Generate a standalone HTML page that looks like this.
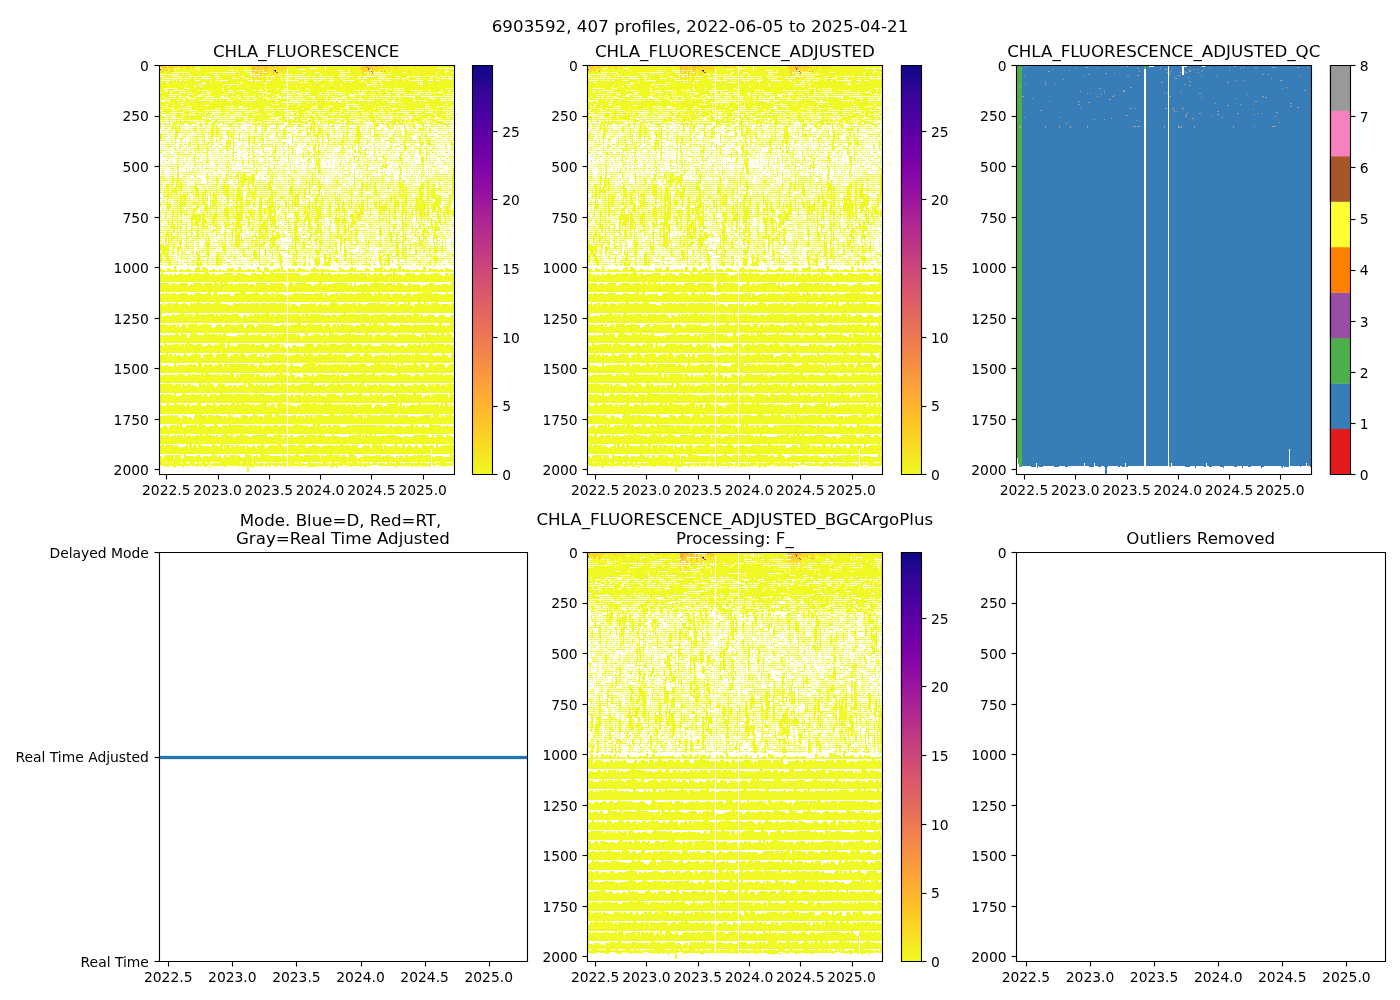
<!DOCTYPE html>
<html><head><meta charset="utf-8"><title>6903592</title>
<style>html,body{margin:0;padding:0;background:#fff;width:1400px;height:1000px;overflow:hidden}svg{display:block;will-change:transform}</style>
</head><body>
<svg width="1400" height="1000" viewBox="0 0 1008 720" version="1.1">
<defs><linearGradient id="plg" x1="0" y1="0" x2="0" y2="1"><stop offset="0.000" stop-color="#0d0887"/><stop offset="0.062" stop-color="#310597"/><stop offset="0.125" stop-color="#4c02a1"/><stop offset="0.188" stop-color="#6600a7"/><stop offset="0.250" stop-color="#7e03a8"/><stop offset="0.312" stop-color="#9511a1"/><stop offset="0.375" stop-color="#aa2395"/><stop offset="0.438" stop-color="#bc3587"/><stop offset="0.500" stop-color="#cc4778"/><stop offset="0.562" stop-color="#da5a6a"/><stop offset="0.625" stop-color="#e66c5c"/><stop offset="0.688" stop-color="#f0804e"/><stop offset="0.750" stop-color="#f89540"/><stop offset="0.812" stop-color="#fdac33"/><stop offset="0.875" stop-color="#fdc527"/><stop offset="0.938" stop-color="#f8df25"/><stop offset="1.000" stop-color="#f0f921"/></linearGradient><g id="chla" fill="none" stroke-width="1" shape-rendering="crispEdges"><path d="M16 0.5h1m12 0h1m1 0h1m1 0h1m1 0h1m1 0h6m4 0h1m2 0h1m1 0h1m1 0h1m1 0h3m2 0h1m1 0h1m3 0h1m2 0h2m1 0h2m1 0h1m4 0h5m2 0h1m37 0h2m1 0h4m1 0h1m8 0h1m5 0h1m1 0h1m2 0h3m2 0h3m1 0h1m4 0h2m1 0h6m1 0h1m2 0h4m1 0h1m1 0h2m1 0h1m1 0h6m31 0h2m5 0h1m5 0h5m1 0h1m1 0h2m3 0h2m1 0h1m4 0h1m1 0h1m1 0h1m3 0h1m1 0h2m2 0h3m3 0h2m2 0h5M13 1.5h1m3 0h2m1 0h1m2 0h3m4 0h2m1 0h1m1 0h1m1 0h7m1 0h2m2 0h6m1 0h2m1 0h3m7 0h4m1 0h3m1 0h2m1 0h1m1 0h1m1 0h3m1 0h1m22 0h1m5 0h1m9 0h1m1 0h1m2 0h2m8 0h1m1 0h2m1 0h2m1 0h3m1 0h8m1 0h1m4 0h2m1 0h1m1 0h3m1 0h2m7 0h1m1 0h3m1 0h4m27 0h1m4 0h4m4 0h1m2 0h1m1 0h4m3 0h6m1 0h2m1 0h1m1 0h1m1 0h1m1 0h2m2 0h1m1 0h1m2 0h2m1 0h8m1 0h1m1 0h4M8 2.5h1m5 0h1m1 0h1m3 0h1m1 0h1m1 0h2m3 0h3m1 0h1m6 0h2m2 0h2m1 0h1m3 0h1m1 0h4m1 0h3m1 0h7m2 0h2m2 0h4m2 0h4m1 0h4m1 0h1m20 0h1m13 0h1m2 0h2m2 0h4m1 0h8m1 0h3m6 0h1m2 0h1m1 0h2m1 0h1m1 0h3m1 0h1m1 0h3m1 0h7m1 0h6m2 0h4m1 0h3m14 0h1m9 0h4m1 0h1m2 0h3m2 0h1m1 0h2m1 0h2m1 0h8m3 0h6m1 0h3m3 0h6m1 0h1m4 0h1m1 0h1m5 0h1M6 3.5h1m1 0h1m5 0h6m2 0h8m1 0h4m1 0h9m1 0h11m2 0h5m2 0h3m1 0h2m1 0h1m1 0h1m5 0h1m1 0h1m1 0h7m16 0h1m6 0h1m10 0h1m1 0h2m1 0h8m6 0h7m1 0h1m1 0h10m1 0h3m1 0h1m2 0h1m3 0h9m1 0h2m2 0h7m1 0h1m21 0h2m5 0h1m2 0h1m1 0h1m2 0h6m2 0h2m1 0h1m1 0h1m1 0h5m3 0h3m1 0h4m1 0h8m2 0h1m1 0h2m1 0h4m1 0h6M0 4.5h1m6 0h1m2 0h1m1 0h3m2 0h19m1 0h1m2 0h2m1 0h1m1 0h7m1 0h13m1 0h1m1 0h1m4 0h1m1 0h1m1 0h1m1 0h4m24 0h1m7 0h1m1 0h1m7 0h1m1 0h3m1 0h20m1 0h5m1 0h6m2 0h3m2 0h5m7 0h2m1 0h1m2 0h1m2 0h2m5 0h2m12 0h1m8 0h2m2 0h9m1 0h1m3 0h1m1 0h6m1 0h10m1 0h3m1 0h7m1 0h1m1 0h4m1 0h5m2 0h5m1 0h1M0 5.5h1m3 0h7m2 0h2m1 0h6m1 0h3m1 0h4m1 0h16m1 0h5m2 0h2m1 0h3m8 0h2m1 0h10m1 0h8m11 0h1m4 0h1m1 0h1m5 0h1m1 0h1m1 0h1m3 0h1m1 0h1m1 0h7m1 0h2m1 0h5m1 0h2m3 0h2m1 0h2m1 0h2m1 0h7m1 0h1m1 0h8m1 0h8m2 0h1m1 0h1m2 0h8m6 0h1m6 0h2m2 0h3m2 0h1m1 0h2m1 0h1m1 0h5m1 0h2m3 0h3m1 0h1m1 0h1m2 0h12m1 0h1m1 0h1m1 0h7m2 0h1m1 0h2m1 0h5m3 0h5M0 6.5h2m1 0h2m1 0h3m1 0h3m9 0h1m6 0h1m1 0h2m1 0h2m1 0h2m2 0h8m1 0h1m2 0h1m4 0h1m1 0h1m16 0h2m1 0h1m1 0h5m16 0h1m4 0h1m1 0h1m1 0h1m2 0h1m2 0h1m1 0h5m1 0h1m1 0h2m1 0h12m3 0h1m1 0h2m2 0h1m7 0h9m1 0h10m4 0h1m6 0h4m1 0h4m1 0h1m21 0h3m1 0h2m1 0h3m1 0h4m1 0h4m3 0h4m2 0h2m1 0h6m1 0h6m1 0h7m1 0h3m1 0h2m1 0h1m1 0h6M0 7.5h2m1 0h5m1 0h2m1 0h7m1 0h5m2 0h5m1 0h15m1 0h8m1 0h5m1 0h3m1 0h10m1 0h8m1 0h4m3 0h1m7 0h1m4 0h3m1 0h1m2 0h4m1 0h2m1 0h4m1 0h5m1 0h6m1 0h4m1 0h20m1 0h1m1 0h3m2 0h19m1 0h4m1 0h3m3 0h2m6 0h3m1 0h1m1 0h4m1 0h1m1 0h6m1 0h5m1 0h5m1 0h5m1 0h10m1 0h2m1 0h1m1 0h1m1 0h10m1 0h1m1 0h1m1 0h10M2 8.5h1m4 0h1m11 0h1m1 0h2m2 0h1m1 0h2m3 0h2m3 0h4m1 0h7m1 0h3m6 0h4m1 0h2m1 0h2m2 0h2m1 0h5m2 0h9m5 0h1m6 0h2m2 0h1m1 0h3m1 0h1m3 0h3m3 0h3m5 0h1m2 0h2m5 0h1m3 0h2m1 0h4m1 0h2m2 0h4m2 0h3m1 0h14m5 0h12m1 0h4m3 0h1m20 0h1m3 0h1m1 0h7m1 0h2m1 0h2m1 0h4m1 0h3m1 0h3m1 0h1m1 0h1m1 0h13m1 0h15m1 0h1M0 9.5h2m3 0h19m1 0h1m1 0h13m1 0h8m1 0h3m1 0h9m1 0h5m1 0h2m1 0h1m1 0h5m1 0h2m2 0h7m4 0h1m4 0h1m1 0h1m2 0h1m1 0h3m1 0h1m1 0h4m1 0h1m1 0h6m3 0h2m1 0h6m1 0h9m1 0h5m2 0h1m1 0h6m1 0h9m2 0h8m1 0h6m1 0h2m2 0h1m1 0h3m2 0h7m2 0h3m2 0h28m1 0h8m1 0h15m1 0h3m2 0h2m1 0h4m1 0h4m1 0h4M4 10.5h1m1 0h3m1 0h2m7 0h1m2 0h2m1 0h1m1 0h2m3 0h1m4 0h1m2 0h1m9 0h1m1 0h1m1 0h1m5 0h13m1 0h6m6 0h5m5 0h1m6 0h3m3 0h1m5 0h6m1 0h3m1 0h1m6 0h1m12 0h1m2 0h1m1 0h1m3 0h4m5 0h1m2 0h1m2 0h1m4 0h2m8 0h1m1 0h1m2 0h1m2 0h4m4 0h1m14 0h2m8 0h3m1 0h6m4 0h2m2 0h3m2 0h1m1 0h1m1 0h1m8 0h1m3 0h1m2 0h1m3 0h1m3 0h2m1 0h1m3 0h1m7 0h2M0 11.5h10m1 0h2m1 0h5m1 0h2m1 0h2m1 0h4m1 0h7m1 0h1m1 0h1m2 0h23m1 0h3m1 0h9m1 0h7m1 0h2m4 0h1m2 0h1m1 0h6m1 0h5m1 0h5m1 0h7m1 0h7m1 0h2m1 0h4m1 0h17m1 0h11m1 0h1m1 0h5m2 0h14m1 0h10m1 0h1m1 0h3m1 0h20m2 0h7m1 0h2m1 0h24m1 0h1m1 0h4m1 0h12m1 0h1M0 12.5h2m2 0h1m5 0h1m12 0h1m4 0h1m2 0h1m1 0h1m3 0h4m12 0h3m3 0h1m2 0h5m1 0h1m2 0h1m5 0h1m1 0h1m1 0h1m2 0h2m3 0h1m2 0h1m2 0h2m1 0h2m1 0h3m4 0h3m1 0h1m1 0h6m4 0h1m4 0h1m3 0h2m14 0h1m1 0h1m15 0h2m5 0h6m2 0h1m3 0h1m2 0h6m1 0h1m4 0h1m5 0h2m2 0h2m2 0h3m6 0h1m2 0h1m5 0h1m6 0h2m4 0h1m2 0h7m5 0h9m3 0h4m1 0h3m6 0h1m5 0h1M0 13.5h4m1 0h1m1 0h9m2 0h6m1 0h10m1 0h2m1 0h13m1 0h6m1 0h19m1 0h14m1 0h2m2 0h6m1 0h5m1 0h1m2 0h3m1 0h3m1 0h4m1 0h10m2 0h7m1 0h19m1 0h1m1 0h6m1 0h2m1 0h9m1 0h9m1 0h3m1 0h26m1 0h9m2 0h9m2 0h2m1 0h16m1 0h12m1 0h4m1 0h3M0 14.5h1m9 0h3m1 0h2m1 0h2m3 0h2m2 0h5m1 0h3m5 0h8m1 0h1m1 0h5m1 0h1m1 0h1m8 0h1m1 0h18m14 0h3m6 0h11m1 0h2m8 0h1m5 0h5m2 0h1m1 0h1m1 0h4m3 0h1m4 0h4m1 0h2m5 0h9m11 0h7m3 0h7m1 0h1m4 0h1m4 0h3m4 0h1m1 0h6m2 0h1m2 0h1m1 0h5m2 0h1m11 0h4m6 0h1m1 0h1m4 0h3m1 0h5m1 0h4M0 15.5h8m1 0h23m2 0h4m1 0h4m1 0h3m1 0h8m1 0h16m1 0h12m1 0h2m1 0h4m1 0h5m1 0h9m1 0h1m1 0h14m1 0h23m2 0h10m1 0h3m1 0h21m1 0h22m1 0h14m1 0h3m2 0h5m1 0h2m1 0h4m1 0h9m1 0h1m1 0h2m1 0h1m2 0h14m1 0h5m1 0h1m1 0h2m1 0h3M0 16.5h6m2 0h8m1 0h7m3 0h15m2 0h6m1 0h27m1 0h1m2 0h2m1 0h4m1 0h5m1 0h3m1 0h2m1 0h6m1 0h1m1 0h15m2 0h3m1 0h4m2 0h1m3 0h1m2 0h1m1 0h8m1 0h1m1 0h3m1 0h8m1 0h2m1 0h9m1 0h1m1 0h3m1 0h3m1 0h7m1 0h2m2 0h5m5 0h1m2 0h1m1 0h20m1 0h12m1 0h2m1 0h1m1 0h1m2 0h20m1 0h1m1 0h7M0 17.5h24m1 0h18m3 0h3m1 0h13m1 0h5m1 0h3m1 0h30m3 0h17m1 0h2m1 0h3m1 0h5m1 0h3m1 0h1m1 0h8m1 0h1m1 0h30m1 0h2m1 0h16m1 0h2m2 0h21m1 0h6m1 0h4m1 0h16m1 0h2m1 0h5m2 0h1m1 0h3m1 0h17M0 18.5h11m1 0h9m1 0h4m1 0h1m1 0h9m3 0h1m2 0h3m1 0h5m1 0h8m1 0h1m3 0h1m7 0h1m3 0h1m2 0h27m1 0h14m1 0h1m2 0h9m1 0h5m1 0h8m1 0h11m1 0h6m1 0h8m2 0h4m1 0h19m11 0h3m3 0h12m1 0h4m1 0h11m1 0h5m1 0h1m3 0h14m1 0h9m1 0h4m1 0h1M0 19.5h17m1 0h22m1 0h19m1 0h2m1 0h4m1 0h3m1 0h9m1 0h44m1 0h23m1 0h31m1 0h12m1 0h12m1 0h36m1 0h12m1 0h14m1 0h19M0 20.5h34m2 0h2m1 0h1m2 0h27m1 0h8m1 0h26m1 0h21m2 0h7m1 0h2m1 0h16m2 0h3m2 0h18m1 0h25m1 0h6m2 0h5m1 0h11m1 0h8m1 0h23m1 0h27M0 21.5h5m1 0h18m1 0h19m1 0h19m1 0h3m1 0h8m1 0h8m1 0h15m1 0h24m1 0h16m1 0h35m1 0h51m1 0h5m1 0h38m1 0h16M0 22.5h4m11 0h1m1 0h7m5 0h33m2 0h41m1 0h11m2 0h5m2 0h1m1 0h18m2 0h13m2 0h1m1 0h47m1 0h7m4 0h1m4 0h5m2 0h1m5 0h1m1 0h15m1 0h16m1 0h9m2 0h1m2 0h1m1 0h1M0 23.5h13m1 0h24m1 0h36m1 0h9m1 0h10m1 0h3m1 0h1m1 0h3m1 0h20m1 0h10m1 0h9m2 0h66m1 0h13m2 0h9m1 0h23m1 0h12m1 0h3m1 0h7m1 0h3M0 24.5h4m3 0h7m3 0h1m7 0h13m2 0h2m6 0h2m1 0h11m2 0h5m4 0h4m1 0h1m7 0h8m2 0h1m1 0h1m4 0h2m2 0h9m1 0h4m10 0h1m2 0h1m3 0h1m1 0h6m1 0h20m2 0h1m2 0h1m3 0h19m5 0h2m2 0h1m3 0h2m3 0h1m1 0h1m3 0h1m1 0h5m2 0h6m1 0h2m7 0h7m2 0h1m4 0h1m4 0h6m2 0h10m2 0h5m2 0h4M0 25.5h7m1 0h3m2 0h54m2 0h58m1 0h151m1 0h14M1 26.5h4m1 0h4m2 0h7m7 0h2m1 0h1m2 0h10m1 0h3m5 0h13m1 0h3m7 0h8m3 0h1m1 0h11m1 0h1m6 0h15m7 0h3m3 0h2m1 0h3m2 0h2m3 0h1m1 0h10m2 0h4m3 0h2m2 0h2m8 0h1m1 0h14m1 0h1m3 0h1m1 0h6m1 0h5m3 0h5m4 0h2m12 0h1m2 0h7m1 0h2m7 0h1m3 0h1m3 0h1m1 0h1m1 0h1m5 0h6m1 0h4M0 27.5h107m4 0h16m1 0h8m4 0h6m1 0h13m1 0h14m1 0h18m1 0h6m2 0h80m1 0h10M0 28.5h9m9 0h1m1 0h1m1 0h6m5 0h7m4 0h1m1 0h1m3 0h12m3 0h1m1 0h5m1 0h11m1 0h2m1 0h6m1 0h8m1 0h2m1 0h10m2 0h4m1 0h3m6 0h2m1 0h2m5 0h1m6 0h1m1 0h7m4 0h1m6 0h1m2 0h4m8 0h4m3 0h1m5 0h1m7 0h3m1 0h1m2 0h1m2 0h4m1 0h4m6 0h5m4 0h4m4 0h1m3 0h1m8 0h1m1 0h2m7 0h14m5 0h1M0 29.5h38m3 0h36m2 0h23m1 0h12m1 0h1m1 0h9m1 0h62m4 0h7m1 0h36m1 0h45m1 0h8M0 30.5h3m1 0h5m3 0h1m3 0h3m3 0h1m1 0h1m3 0h6m1 0h1m1 0h1m4 0h3m9 0h6m4 0h3m1 0h3m2 0h1m1 0h2m1 0h2m1 0h3m2 0h1m8 0h4m2 0h11m2 0h4m4 0h2m1 0h1m7 0h2m8 0h4m1 0h1m7 0h5m1 0h2m1 0h1m2 0h3m4 0h1m1 0h5m1 0h1m3 0h2m1 0h1m4 0h5m1 0h4m1 0h3m1 0h1m1 0h1m2 0h1m2 0h2m11 0h1m4 0h1m4 0h1m2 0h1m10 0h6m21 0h1m8 0h1M0 31.5h27m3 0h32m4 0h13m1 0h23m4 0h9m1 0h2m2 0h2m2 0h2m1 0h24m1 0h5m1 0h20m1 0h2m2 0h51m1 0h17m2 0h7m1 0h7m2 0h22M1 32.5h4m2 0h1m4 0h1m2 0h3m4 0h1m3 0h2m8 0h7m1 0h1m13 0h1m3 0h1m8 0h3m1 0h1m1 0h2m2 0h4m1 0h1m3 0h3m4 0h6m1 0h2m5 0h1m1 0h1m4 0h2m3 0h1m1 0h1m9 0h1m4 0h1m3 0h1m1 0h6m3 0h6m1 0h2m1 0h1m2 0h2m8 0h1m8 0h4m6 0h1m5 0h5m7 0h1m5 0h2m1 0h2m1 0h3m1 0h2m1 0h5m2 0h9m1 0h2m2 0h10m1 0h2m1 0h2m4 0h5m7 0h1m1 0h1M0 33.5h81m1 0h45m1 0h48m2 0h23m1 0h22m1 0h66m1 0h2M3 34.5h1m2 0h1m3 0h7m2 0h4m2 0h5m1 0h1m1 0h6m6 0h1m1 0h1m1 0h1m3 0h3m1 0h3m1 0h2m1 0h3m6 0h9m2 0h1m11 0h7m1 0h3m1 0h7m4 0h8m1 0h2m18 0h1m8 0h8m3 0h2m8 0h1m4 0h2m7 0h2m1 0h3m7 0h1m6 0h1m1 0h9m1 0h1m4 0h3m3 0h4m1 0h13m3 0h1m5 0h1m2 0h8m1 0h6m7 0h1M0 35.5h2m3 0h122m1 0h1m2 0h5m1 0h23m1 0h7m1 0h6m1 0h2m3 0h50m3 0h31m1 0h28M0 36.5h9m1 0h10m4 0h26m1 0h20m1 0h11m1 0h2m1 0h29m1 0h5m20 0h5m1 0h4m1 0h3m1 0h8m1 0h14m1 0h2m1 0h1m2 0h21m1 0h19m10 0h1m2 0h14m1 0h4m1 0h20m1 0h4m1 0h7M0 37.5h111m1 0h15m1 0h20m1 0h44m1 0h23m1 0h76M0 38.5h6m2 0h13m3 0h88m1 0h2m4 0h5m1 0h2m2 0h3m1 0h5m1 0h1m1 0h15m1 0h29m13 0h9m1 0h21m1 0h2m1 0h5m1 0h25m3 0h18m2 0h6M0 39.5h12m2 0h7m1 0h23m4 0h78m1 0h77m1 0h9m1 0h25m2 0h2m1 0h48M0 40.5h2m2 0h1m3 0h17m1 0h1m5 0h33m3 0h1m5 0h5m5 0h22m3 0h18m1 0h9m2 0h13m5 0h8m2 0h1m5 0h11m1 0h1m3 0h4m6 0h1m1 0h17m1 0h1m3 0h1m2 0h2m2 0h35m5 0h8m1 0h1m5 0h2m1 0h3M0 41.5h78m3 0h5m2 0h3m1 0h17m1 0h17m1 0h28m1 0h29m2 0h89m1 0h11m2 0h3M0 42.5h3m1 0h1m2 0h3m4 0h4m2 0h1m11 0h9m1 0h13m2 0h1m2 0h5m1 0h1m10 0h2m8 0h9m1 0h1m1 0h5m5 0h1m4 0h3m6 0h1m2 0h1m1 0h14m2 0h7m7 0h5m4 0h1m1 0h12m1 0h1m6 0h9m2 0h13m3 0h2m1 0h2m2 0h2m1 0h4m7 0h3m5 0h11m5 0h1m2 0h1m2 0h1m2 0h1m1 0h11m1 0h3m2 0h1M0 43.5h127m1 0h46m1 0h119M3 44.5h9m5 0h6m1 0h1m1 0h3m8 0h7m2 0h1m3 0h1m10 0h4m1 0h1m1 0h2m4 0h1m13 0h1m1 0h1m8 0h5m1 0h1m1 0h3m1 0h1m2 0h1m1 0h1m1 0h1m1 0h1m1 0h2m9 0h2m3 0h11m1 0h1m11 0h1m6 0h7m2 0h2m2 0h5m14 0h1m2 0h6m1 0h8m5 0h4m2 0h2m1 0h7m7 0h1m4 0h2m10 0h2m1 0h1m6 0h1m2 0h5m7 0h1M0 45.5h56m1 0h32m2 0h33m1 0h2m1 0h18m3 0h145M0 46.5h2m4 0h4m8 0h1m5 0h6m1 0h1m3 0h3m3 0h1m1 0h2m1 0h1m1 0h1m12 0h1m1 0h2m5 0h2m1 0h1m7 0h3m6 0h2m1 0h1m1 0h12m1 0h4m2 0h7m1 0h3m1 0h1m2 0h1m5 0h2m1 0h5m3 0h1m5 0h3m1 0h1m3 0h1m5 0h2m1 0h2m1 0h1m5 0h1m2 0h3m6 0h2m2 0h1m1 0h1m1 0h3m4 0h1m2 0h1m1 0h2m6 0h1m5 0h1m1 0h2m5 0h1m1 0h1m14 0h5m6 0h4m8 0h3m1 0h9m2 0h2M0 47.5h53m2 0h52m1 0h2m1 0h16m1 0h3m1 0h59m1 0h52m1 0h36m1 0h7m1 0h4M0 48.5h1m15 0h6m3 0h3m7 0h4m1 0h2m1 0h1m3 0h4m9 0h4m2 0h1m2 0h1m13 0h3m3 0h3m5 0h1m1 0h1m1 0h8m4 0h9m1 0h2m4 0h1m4 0h2m3 0h5m1 0h2m9 0h2m3 0h1m1 0h5m9 0h2m6 0h2m1 0h3m3 0h1m3 0h1m1 0h2m3 0h1m4 0h3m5 0h1m1 0h1m5 0h1m5 0h5m1 0h7m5 0h1m1 0h1m5 0h3m3 0h7m1 0h1m4 0h6m2 0h1m6 0h2M0 49.5h2m3 0h20m1 0h8m1 0h15m2 0h56m1 0h15m1 0h2m1 0h35m1 0h117m1 0h12M0 50.5h4m12 0h5m3 0h5m1 0h17m2 0h1m2 0h1m5 0h1m9 0h1m19 0h7m1 0h4m1 0h1m1 0h8m2 0h1m1 0h4m3 0h3m12 0h1m1 0h3m1 0h1m3 0h2m1 0h3m3 0h3m9 0h4m1 0h6m1 0h10m4 0h1m5 0h1m7 0h5m1 0h1m1 0h2m16 0h1m3 0h1m7 0h1m5 0h4m1 0h1m2 0h8m3 0h5m1 0h3m1 0h5m2 0h1M0 51.5h12m2 0h28m3 0h12m1 0h13m3 0h11m1 0h26m1 0h3m3 0h8m1 0h2m2 0h92m1 0h6m1 0h18m1 0h1m2 0h20m1 0h1m2 0h16M0 52.5h1m2 0h1m4 0h1m11 0h1m2 0h6m1 0h12m1 0h1m2 0h1m25 0h1m3 0h2m2 0h4m4 0h1m5 0h5m1 0h2m1 0h6m9 0h3m1 0h4m8 0h6m3 0h1m1 0h2m3 0h5m3 0h4m3 0h1m3 0h1m5 0h1m2 0h1m4 0h1m1 0h4m5 0h1m3 0h4m1 0h2m5 0h5m3 0h2m1 0h1m12 0h3m2 0h2m11 0h11m2 0h1m4 0h3m1 0h1m6 0h1m1 0h3m1 0h1m2 0h2m1 0h1M0 53.5h49m2 0h65m3 0h8m1 0h5m1 0h3m1 0h9m2 0h2m1 0h14m1 0h2m1 0h10m1 0h1m1 0h15m3 0h44m2 0h3m1 0h14m1 0h9m1 0h18M3 54.5h1m5 0h1m2 0h1m2 0h2m3 0h1m3 0h1m7 0h1m6 0h1m3 0h1m1 0h7m3 0h3m17 0h9m5 0h2m1 0h1m1 0h9m3 0h1m6 0h1m8 0h5m1 0h3m1 0h4m1 0h5m6 0h6m4 0h1m1 0h1m4 0h2m1 0h4m1 0h4m1 0h1m2 0h4m2 0h3m11 0h1m4 0h2m2 0h6m5 0h2m1 0h1m7 0h13m1 0h2m1 0h6m1 0h6m3 0h1m1 0h2m1 0h1m1 0h4m1 0h1m6 0h1m5 0h1m2 0h1M0 55.5h6m1 0h4m2 0h2m1 0h16m1 0h2m1 0h2m1 0h3m1 0h8m2 0h4m2 0h22m1 0h8m1 0h7m2 0h27m1 0h23m1 0h6m1 0h15m1 0h1m3 0h5m2 0h7m2 0h12m1 0h3m1 0h4m1 0h9m1 0h13m2 0h8m1 0h5m1 0h3m1 0h5m1 0h1m1 0h1m1 0h2m1 0h9m2 0h5m3 0h1M0 56.5h1m8 0h1m2 0h7m1 0h2m1 0h8m1 0h4m9 0h1m1 0h1m4 0h8m1 0h3m9 0h1m1 0h1m1 0h1m2 0h1m13 0h1m3 0h1m3 0h3m8 0h1m3 0h1m10 0h16m1 0h2m4 0h5m1 0h1m2 0h2m3 0h1m1 0h10m1 0h1m7 0h7m8 0h2m9 0h2m1 0h1m6 0h1m3 0h2m1 0h7m2 0h5m3 0h1m4 0h3m2 0h7m2 0h1m4 0h5m1 0h9M0 57.5h1m1 0h4m4 0h1m2 0h12m1 0h8m1 0h1m2 0h1m1 0h3m1 0h4m1 0h2m1 0h3m3 0h2m3 0h14m1 0h2m2 0h2m2 0h15m1 0h2m1 0h2m1 0h17m3 0h4m8 0h1m1 0h1m1 0h5m1 0h5m2 0h1m2 0h1m1 0h5m1 0h2m1 0h3m1 0h9m1 0h6m1 0h12m1 0h2m5 0h1m1 0h10m1 0h2m1 0h2m1 0h6m1 0h11m1 0h2m1 0h2m3 0h14m1 0h1m2 0h6m1 0h4m1 0h6M0 58.5h2m2 0h7m1 0h5m2 0h5m5 0h3m2 0h1m1 0h2m1 0h4m2 0h4m1 0h7m1 0h1m3 0h2m3 0h7m3 0h6m6 0h1m2 0h18m1 0h2m2 0h7m1 0h1m2 0h1m1 0h8m1 0h7m1 0h2m3 0h8m1 0h3m1 0h1m3 0h3m2 0h2m2 0h1m1 0h1m3 0h2m1 0h8m1 0h5m1 0h3m1 0h2m3 0h1m2 0h1m1 0h5m4 0h7m1 0h6m1 0h5m1 0h1m1 0h1m1 0h8m4 0h4m1 0h1m4 0h8m2 0h10m1 0h1M0 59.5h1m11 0h2m1 0h2m2 0h1m9 0h1m9 0h3m4 0h1m5 0h2m2 0h1m12 0h3m23 0h2m2 0h1m2 0h2m1 0h2m9 0h2m8 0h1m1 0h1m3 0h1m5 0h3m10 0h1m1 0h2m4 0h1m12 0h2m13 0h1m10 0h1m15 0h5m8 0h2m4 0h1m10 0h1m4 0h1m3 0h2m8 0h1m22 0h2M0 60.5h1m1 0h1m1 0h5m1 0h4m1 0h5m1 0h4m4 0h1m1 0h1m1 0h5m1 0h4m2 0h2m1 0h1m1 0h9m1 0h2m1 0h2m1 0h10m1 0h4m6 0h1m1 0h3m1 0h1m1 0h3m1 0h1m1 0h9m4 0h1m1 0h3m4 0h1m1 0h2m1 0h5m4 0h7m1 0h1m1 0h17m3 0h8m1 0h1m3 0h9m2 0h2m1 0h1m1 0h7m1 0h2m3 0h4m1 0h5m4 0h1m2 0h8m2 0h2m3 0h1m2 0h2m2 0h8m1 0h1m1 0h2m1 0h6m1 0h5m1 0h1m1 0h7m2 0h5m2 0h1M0 61.5h1m11 0h2m1 0h2m2 0h1m15 0h1m10 0h1m5 0h2m2 0h2m21 0h1m15 0h1m6 0h1m2 0h2m9 0h1m8 0h2m20 0h1m2 0h2m1 0h2m3 0h1m28 0h1m9 0h3m14 0h1m13 0h2m3 0h1m5 0h1m4 0h1m8 0h2m8 0h1m2 0h1m19 0h1M0 62.5h1m3 0h4m2 0h11m1 0h3m4 0h2m1 0h6m1 0h8m1 0h1m1 0h11m5 0h1m3 0h2m1 0h2m3 0h3m3 0h1m2 0h2m1 0h2m3 0h3m3 0h6m3 0h8m1 0h1m3 0h4m3 0h1m1 0h1m3 0h3m1 0h1m2 0h1m1 0h11m1 0h6m3 0h4m1 0h4m3 0h1m1 0h5m1 0h7m1 0h6m2 0h1m1 0h2m2 0h9m4 0h3m4 0h6m2 0h2m1 0h1m1 0h1m2 0h3m2 0h3m1 0h3m1 0h10m2 0h3m1 0h1m1 0h1m1 0h7m1 0h2m1 0h1m1 0h2m1 0h1M12 63.5h1m2 0h3m1 0h1m14 0h2m6 0h1m8 0h3m2 0h3m14 0h1m21 0h1m6 0h1m2 0h2m9 0h1m6 0h2m22 0h1m2 0h2m1 0h2m3 0h3m1 0h1m11 0h1m12 0h1m3 0h1m4 0h4m14 0h1m7 0h1m21 0h1m14 0h6m4 0h2M1 64.5h3m1 0h1m1 0h6m2 0h6m1 0h9m1 0h6m1 0h7m2 0h17m1 0h6m1 0h4m1 0h1m2 0h4m3 0h3m1 0h6m3 0h2m1 0h3m3 0h2m1 0h4m2 0h8m1 0h1m1 0h1m2 0h1m4 0h6m1 0h3m2 0h2m1 0h3m1 0h13m1 0h6m1 0h1m2 0h3m1 0h3m1 0h1m2 0h1m1 0h6m2 0h1m1 0h1m3 0h3m3 0h9m5 0h3m3 0h7m3 0h4m1 0h5m3 0h10m2 0h3m1 0h1m4 0h3m1 0h3m1 0h1m1 0h1m3 0h2M15 65.5h3m1 0h1m9 0h1m4 0h2m6 0h1m2 0h2m4 0h3m2 0h3m8 0h2m1 0h1m2 0h1m21 0h2m5 0h1m2 0h1m10 0h1m6 0h3m11 0h1m1 0h2m6 0h1m2 0h1m2 0h2m3 0h3m1 0h1m11 0h1m12 0h1m8 0h4m10 0h1m3 0h1m25 0h1m4 0h2m1 0h1m20 0h2M0 66.5h1m1 0h1m2 0h1m2 0h5m2 0h6m1 0h9m3 0h10m1 0h2m1 0h14m4 0h10m1 0h1m1 0h3m1 0h1m1 0h6m2 0h4m1 0h1m2 0h5m1 0h5m1 0h1m2 0h5m1 0h5m1 0h3m1 0h1m4 0h5m4 0h5m2 0h17m2 0h5m1 0h2m1 0h10m1 0h2m2 0h7m1 0h1m1 0h5m3 0h2m1 0h2m1 0h3m3 0h5m3 0h2m1 0h4m3 0h5m1 0h9m1 0h4m1 0h2m1 0h4m1 0h1m1 0h2m3 0h2m2 0h1m1 0h1m1 0h6M1 67.5h1m13 0h3m24 0h1m5 0h1m2 0h3m2 0h3m8 0h2m2 0h1m1 0h1m5 0h1m9 0h1m12 0h1m13 0h2m5 0h4m1 0h1m18 0h2m1 0h1m2 0h2m3 0h3m1 0h1m4 0h2m5 0h1m12 0h1m8 0h5m9 0h1m3 0h1m2 0h1m16 0h1m5 0h1m4 0h2m2 0h2m10 0h2m2 0h1M0 68.5h7m2 0h2m2 0h5m1 0h1m1 0h1m2 0h4m1 0h1m1 0h1m2 0h1m1 0h9m3 0h15m3 0h10m1 0h4m2 0h1m1 0h2m1 0h2m3 0h4m1 0h2m1 0h3m2 0h6m3 0h3m2 0h2m1 0h4m5 0h2m1 0h1m2 0h2m6 0h5m2 0h17m3 0h3m2 0h2m1 0h1m1 0h6m3 0h11m1 0h1m1 0h3m1 0h1m3 0h10m1 0h3m3 0h8m1 0h2m3 0h10m3 0h2m1 0h2m2 0h3m1 0h2m2 0h1m4 0h14m1 0h1M0 69.5h2m13 0h3m24 0h1m1 0h1m6 0h3m2 0h1m4 0h1m6 0h2m1 0h1m1 0h1m5 0h1m9 0h1m12 0h1m13 0h2m5 0h2m7 0h1m4 0h1m9 0h2m4 0h6m3 0h1m4 0h2m14 0h1m3 0h1m8 0h5m9 0h1m3 0h5m3 0h1m10 0h1m5 0h2m4 0h2m1 0h1m1 0h1m10 0h2m2 0h2m24 0h1M0 70.5h7m3 0h2m1 0h5m3 0h6m2 0h2m1 0h13m1 0h1m1 0h6m1 0h8m5 0h6m1 0h1m3 0h1m3 0h1m1 0h2m1 0h15m2 0h4m6 0h12m1 0h1m3 0h2m1 0h14m1 0h2m1 0h6m1 0h5m2 0h3m2 0h1m1 0h1m3 0h2m2 0h7m1 0h3m1 0h10m4 0h1m1 0h1m1 0h9m1 0h2m1 0h3m3 0h3m1 0h14m1 0h1m6 0h4m1 0h6m1 0h5m1 0h1m3 0h1m1 0h4m2 0h5m1 0h1M0 71.5h2m13 0h2m19 0h2m4 0h1m1 0h1m6 0h2m3 0h1m4 0h1m6 0h1m2 0h1m1 0h1m5 0h1m8 0h2m3 0h2m7 0h1m3 0h1m10 0h1m5 0h2m7 0h1m4 0h1m12 0h1m6 0h2m3 0h1m4 0h2m14 0h1m3 0h1m8 0h5m9 0h1m7 0h1m12 0h1m1 0h1m6 0h1m4 0h2m1 0h1m1 0h1m8 0h2m5 0h1m26 0h1M0 72.5h6m4 0h2m1 0h5m2 0h4m1 0h1m2 0h1m1 0h1m1 0h5m2 0h2m1 0h3m3 0h6m2 0h1m2 0h5m3 0h2m1 0h10m2 0h2m1 0h2m1 0h8m1 0h7m2 0h3m5 0h2m1 0h10m1 0h1m3 0h1m1 0h1m1 0h2m1 0h6m2 0h1m2 0h2m2 0h2m1 0h4m1 0h3m2 0h9m1 0h14m1 0h1m2 0h13m2 0h1m3 0h7m4 0h1m2 0h6m1 0h1m3 0h4m1 0h9m4 0h7m1 0h6m4 0h1m1 0h5m2 0h1m2 0h3m3 0h1M0 73.5h1m14 0h1m4 0h2m8 0h1m5 0h2m6 0h1m11 0h1m3 0h1m7 0h1m4 0h1m5 0h1m2 0h1m5 0h2m3 0h2m7 0h2m28 0h1m14 0h1m9 0h1m4 0h1m5 0h1m5 0h1m8 0h1m3 0h1m7 0h1m1 0h3m18 0h1m11 0h1m2 0h1m11 0h2m3 0h1m8 0h2m5 0h1m2 0h1m23 0h1M0 74.5h6m1 0h2m2 0h2m2 0h1m4 0h2m6 0h1m1 0h1m1 0h9m1 0h3m1 0h1m2 0h5m2 0h1m1 0h3m5 0h6m1 0h1m4 0h3m1 0h2m1 0h2m1 0h2m1 0h1m1 0h3m1 0h7m2 0h1m1 0h5m1 0h2m1 0h3m1 0h1m10 0h1m2 0h1m3 0h4m3 0h1m3 0h4m1 0h3m1 0h1m2 0h2m4 0h5m1 0h1m1 0h3m1 0h11m1 0h9m2 0h1m2 0h5m3 0h3m1 0h3m3 0h7m2 0h4m3 0h13m1 0h2m1 0h4m1 0h2m1 0h6m1 0h4m1 0h2m1 0h1m2 0h2m2 0h3m1 0h3M11 75.5h1m3 0h1m5 0h1m8 0h1m11 0h1m1 0h1m11 0h1m9 0h1m1 0h3m2 0h1m8 0h1m5 0h2m3 0h2m8 0h1m2 0h1m25 0h1m10 0h1m9 0h1m3 0h2m3 0h1m5 0h1m5 0h1m6 0h3m3 0h1m6 0h2m1 0h3m7 0h1m22 0h2m7 0h1m4 0h2m14 0h1m5 0h5m20 0h1M3 76.5h1m1 0h4m2 0h3m1 0h2m2 0h1m1 0h2m1 0h1m3 0h3m1 0h8m3 0h2m1 0h9m1 0h1m1 0h4m4 0h5m2 0h4m5 0h1m1 0h1m3 0h2m1 0h11m1 0h1m2 0h2m1 0h1m1 0h2m1 0h2m1 0h5m1 0h3m6 0h1m1 0h4m1 0h1m1 0h1m1 0h1m2 0h4m1 0h3m1 0h1m1 0h3m2 0h5m1 0h1m1 0h6m1 0h10m1 0h3m1 0h11m3 0h5m2 0h2m1 0h2m1 0h2m1 0h1m1 0h2m3 0h9m2 0h1m1 0h4m1 0h9m1 0h7m1 0h1m1 0h4m1 0h4m1 0h4m2 0h4m1 0h1m1 0h3M15 77.5h1m13 0h2m6 0h1m6 0h1m1 0h1m1 0h1m3 0h1m13 0h5m2 0h1m14 0h2m2 0h1m1 0h1m8 0h1m19 0h2m23 0h1m6 0h1m2 0h1m3 0h1m4 0h2m5 0h1m3 0h1m2 0h2m11 0h1m2 0h3m7 0h1m6 0h1m29 0h2m14 0h4m2 0h5m20 0h2M1 78.5h1m1 0h1m1 0h9m1 0h1m3 0h3m2 0h3m1 0h3m1 0h4m1 0h12m2 0h3m4 0h5m3 0h5m2 0h2m1 0h1m4 0h2m1 0h1m3 0h2m2 0h1m1 0h4m3 0h12m2 0h3m1 0h2m2 0h2m1 0h1m1 0h1m5 0h4m3 0h1m1 0h1m2 0h4m1 0h2m1 0h3m1 0h2m2 0h2m2 0h11m1 0h6m1 0h4m1 0h3m1 0h2m2 0h2m1 0h2m2 0h1m1 0h1m5 0h2m4 0h2m1 0h1m2 0h1m3 0h1m1 0h2m3 0h1m3 0h6m4 0h4m1 0h1m4 0h4m2 0h10m1 0h1m2 0h1m1 0h1m2 0h2m3 0h4M20 79.5h1m1 0h1m6 0h2m6 0h2m5 0h1m1 0h1m4 0h1m14 0h2m1 0h2m2 0h1m15 0h1m2 0h1m9 0h1m9 0h1m2 0h1m7 0h1m4 0h1m3 0h1m15 0h2m3 0h3m2 0h2m2 0h1m18 0h2m9 0h1m1 0h1m3 0h1m32 0h1m12 0h2m14 0h2m7 0h2m14 0h1m5 0h2M1 80.5h1m1 0h1m1 0h7m2 0h2m3 0h4m3 0h1m1 0h3m2 0h2m2 0h4m1 0h2m2 0h6m4 0h3m3 0h9m2 0h3m3 0h6m4 0h1m2 0h3m2 0h1m1 0h5m1 0h2m1 0h2m1 0h3m1 0h3m1 0h1m1 0h3m1 0h2m1 0h1m1 0h7m4 0h1m3 0h1m1 0h1m1 0h1m3 0h4m1 0h2m2 0h2m2 0h3m2 0h2m1 0h4m3 0h3m3 0h3m2 0h1m1 0h2m2 0h3m1 0h2m5 0h2m3 0h1m1 0h1m2 0h2m1 0h1m6 0h4m2 0h6m2 0h4m1 0h4m2 0h4m1 0h3m3 0h2m1 0h2m3 0h3m3 0h1m5 0h2m4 0h1m1 0h1M9 81.5h1m9 0h2m16 0h2m3 0h1m3 0h2m18 0h3m4 0h1m15 0h1m2 0h1m9 0h1m9 0h1m2 0h1m12 0h1m24 0h3m2 0h1m24 0h1m5 0h1m2 0h1m5 0h1m1 0h1m14 0h1m15 0h1m12 0h3m13 0h1m5 0h1m18 0h1m5 0h1M1 82.5h1m1 0h1m1 0h1m1 0h2m4 0h3m1 0h1m1 0h2m3 0h3m1 0h1m1 0h20m1 0h1m1 0h3m1 0h3m1 0h7m1 0h5m2 0h1m3 0h2m2 0h1m1 0h4m1 0h2m1 0h1m1 0h4m1 0h3m2 0h1m5 0h1m1 0h4m1 0h1m3 0h1m4 0h6m8 0h5m6 0h3m2 0h1m2 0h2m2 0h5m1 0h2m7 0h6m1 0h4m1 0h2m1 0h1m2 0h1m1 0h2m3 0h2m1 0h1m1 0h1m3 0h2m1 0h4m2 0h1m3 0h5m2 0h2m4 0h1m2 0h4m1 0h1m2 0h1m2 0h7m1 0h1m1 0h3m1 0h1m2 0h8m2 0h1m3 0h3m2 0h3M15 83.5h1m18 0h1m2 0h2m8 0h1m18 0h2m1 0h1m3 0h1m8 0h1m6 0h1m2 0h1m22 0h1m16 0h1m20 0h3m2 0h1m24 0h1m9 0h1m4 0h1m6 0h1m24 0h1m13 0h3m12 0h2m5 0h1m26 0h1M0 84.5h4m1 0h1m1 0h1m1 0h2m4 0h3m1 0h1m1 0h2m1 0h3m1 0h1m1 0h1m3 0h10m2 0h4m1 0h3m1 0h1m3 0h5m2 0h3m2 0h3m2 0h1m3 0h1m1 0h1m4 0h3m2 0h2m4 0h2m2 0h2m2 0h1m4 0h7m1 0h2m2 0h3m2 0h2m1 0h3m1 0h1m6 0h1m1 0h5m4 0h3m1 0h4m2 0h5m1 0h2m1 0h1m7 0h6m2 0h1m3 0h1m1 0h2m2 0h4m1 0h4m1 0h1m2 0h1m1 0h3m2 0h3m1 0h2m1 0h6m1 0h1m1 0h2m2 0h3m1 0h5m1 0h1m1 0h2m1 0h3m3 0h5m2 0h7m1 0h1m2 0h2m2 0h1m3 0h1m1 0h1m1 0h1m1 0h3M35 85.5h1m11 0h1m12 0h1m12 0h1m18 0h2m9 0h1m9 0h3m16 0h1m15 0h1m5 0h2m1 0h3m20 0h1m1 0h1m11 0h2m2 0h2m5 0h1m8 0h1m35 0h1m8 0h2m5 0h1M0 86.5h3m3 0h2m1 0h1m3 0h1m1 0h5m1 0h4m3 0h4m1 0h1m1 0h1m1 0h4m1 0h6m4 0h2m1 0h1m1 0h1m1 0h2m1 0h2m2 0h1m1 0h2m2 0h5m5 0h1m2 0h1m2 0h2m2 0h3m3 0h1m4 0h4m1 0h2m2 0h5m2 0h2m2 0h3m2 0h2m1 0h3m1 0h1m5 0h1m1 0h1m1 0h7m2 0h8m1 0h2m2 0h5m2 0h2m1 0h9m1 0h1m1 0h2m1 0h1m1 0h2m1 0h9m2 0h1m5 0h2m2 0h3m2 0h2m1 0h2m2 0h2m1 0h3m3 0h5m3 0h4m2 0h2m4 0h5m2 0h4m2 0h2m1 0h2m2 0h1m1 0h1m3 0h3m1 0h1m3 0h1M18 87.5h2m27 0h1m25 0h1m19 0h1m19 0h1m1 0h1m7 0h1m8 0h1m10 0h1m4 0h2m4 0h1m2 0h3m2 0h1m19 0h1m15 0h1m1 0h1m4 0h1m8 0h1m25 0h1m18 0h2m5 0h1M2 88.5h1m1 0h1m2 0h4m2 0h2m1 0h16m1 0h4m2 0h2m5 0h2m4 0h2m1 0h2m1 0h4m2 0h1m1 0h3m3 0h2m2 0h1m4 0h1m6 0h2m2 0h2m3 0h2m5 0h1m1 0h1m2 0h1m1 0h3m1 0h1m2 0h1m2 0h1m1 0h2m3 0h2m1 0h5m3 0h5m1 0h5m2 0h13m2 0h2m2 0h1m3 0h1m1 0h4m1 0h2m3 0h3m2 0h2m2 0h1m2 0h10m5 0h1m1 0h1m2 0h2m2 0h5m1 0h1m1 0h1m1 0h1m6 0h4m2 0h1m2 0h2m2 0h2m4 0h3m1 0h1m2 0h5m3 0h3m2 0h1m1 0h1m8 0h1m2 0h1M34 89.5h1m11 0h1m26 0h1m14 0h2m3 0h2m10 0h1m7 0h1m1 0h1m12 0h1m14 0h1m5 0h1m4 0h1m1 0h1m1 0h1m34 0h1m11 0h1m8 0h1m8 0h1m16 0h2m24 0h1M3 90.5h2m2 0h3m1 0h3m2 0h1m1 0h2m2 0h3m1 0h5m2 0h5m1 0h2m3 0h1m1 0h3m2 0h1m1 0h1m1 0h1m1 0h2m1 0h3m1 0h5m3 0h2m3 0h1m2 0h2m5 0h1m1 0h1m2 0h4m1 0h2m1 0h6m2 0h8m2 0h3m2 0h2m1 0h1m1 0h1m2 0h1m2 0h2m1 0h1m1 0h1m1 0h3m1 0h3m1 0h3m1 0h2m1 0h3m2 0h3m1 0h2m4 0h1m3 0h1m1 0h5m1 0h2m4 0h1m3 0h4m1 0h2m1 0h5m4 0h1m3 0h3m2 0h7m2 0h2m1 0h1m1 0h1m1 0h2m2 0h3m2 0h1m1 0h2m2 0h4m7 0h4m1 0h1m3 0h1m2 0h1m3 0h4m1 0h3m4 0h5M19 91.5h1m14 0h1m11 0h1m26 0h1m19 0h1m9 0h1m10 0h1m13 0h1m14 0h1m5 0h1m4 0h1m3 0h1m22 0h1m12 0h1m3 0h1m6 0h1m10 0h1m6 0h1m15 0h3m19 0h3m2 0h1m24 0h1m1 0h1M7 92.5h3m1 0h1m4 0h3m1 0h2m1 0h1m2 0h2m4 0h3m1 0h4m2 0h1m1 0h1m2 0h2m3 0h1m2 0h1m2 0h1m1 0h3m2 0h2m1 0h1m1 0h1m2 0h1m1 0h2m3 0h3m5 0h3m1 0h3m1 0h1m1 0h1m2 0h1m2 0h1m1 0h1m1 0h1m4 0h3m1 0h4m4 0h1m2 0h1m2 0h1m1 0h2m3 0h1m4 0h1m4 0h4m2 0h3m1 0h3m4 0h4m2 0h1m5 0h1m1 0h1m1 0h1m1 0h2m4 0h3m2 0h1m1 0h1m1 0h2m2 0h2m1 0h1m1 0h4m3 0h3m5 0h6m3 0h2m1 0h1m1 0h1m2 0h5m2 0h1m3 0h2m1 0h1m2 0h1m4 0h3m1 0h3m1 0h2m2 0h1m1 0h1m4 0h1m1 0h1m3 0h2m1 0h2m2 0h1M18 93.5h1m15 0h1m3 0h1m8 0h1m24 0h2m14 0h1m16 0h1m8 0h1m13 0h1m19 0h2m6 0h1m1 0h2m29 0h1m4 0h1m3 0h1m8 0h1m8 0h1m8 0h2m13 0h2m19 0h3m2 0h1m25 0h1M3 94.5h1m2 0h2m3 0h1m5 0h3m1 0h1m1 0h1m2 0h2m2 0h1m1 0h4m2 0h1m3 0h1m1 0h1m1 0h4m2 0h1m1 0h4m2 0h2m2 0h1m1 0h3m1 0h1m1 0h2m1 0h3m1 0h1m1 0h4m1 0h1m1 0h1m2 0h4m1 0h3m5 0h2m2 0h2m3 0h7m3 0h1m4 0h1m1 0h1m1 0h1m1 0h1m3 0h1m8 0h3m1 0h1m2 0h1m1 0h5m4 0h1m5 0h1m5 0h1m2 0h2m3 0h1m3 0h3m2 0h1m1 0h5m2 0h1m1 0h1m1 0h5m1 0h5m1 0h2m1 0h1m2 0h2m2 0h3m1 0h11m2 0h1m2 0h2m2 0h1m7 0h3m1 0h3m1 0h2m2 0h4m4 0h4m1 0h1m3 0h1m1 0h2M17 95.5h1m16 0h1m11 0h2m19 0h1m14 0h1m5 0h1m4 0h1m15 0h1m5 0h1m12 0h1m19 0h1m7 0h1m1 0h2m34 0h1m3 0h1m5 0h1m2 0h1m14 0h1m2 0h2m12 0h1m1 0h1m19 0h3M3 96.5h1m5 0h1m1 0h2m3 0h3m1 0h1m2 0h2m1 0h2m2 0h1m2 0h6m1 0h3m1 0h1m1 0h3m5 0h4m1 0h2m1 0h1m2 0h5m3 0h1m1 0h1m3 0h1m1 0h4m1 0h1m1 0h2m1 0h4m1 0h3m1 0h2m1 0h4m1 0h1m1 0h1m4 0h1m1 0h2m4 0h1m1 0h2m1 0h1m1 0h1m1 0h1m7 0h3m1 0h1m1 0h4m1 0h1m2 0h1m1 0h5m6 0h1m3 0h1m2 0h1m3 0h1m1 0h2m3 0h2m1 0h4m2 0h1m1 0h3m1 0h1m2 0h3m1 0h5m1 0h3m1 0h4m2 0h3m7 0h2m1 0h2m1 0h1m1 0h3m1 0h3m2 0h1m2 0h1m4 0h1m2 0h3m3 0h1m1 0h2m1 0h2m4 0h1m4 0h4m1 0h1m1 0h4M67 97.5h1m14 0h1m5 0h1m4 0h1m11 0h1m3 0h1m46 0h4m20 0h1m8 0h1m35 0h1m15 0h1m20 0h2M1 98.5h1m1 0h1m2 0h2m1 0h1m1 0h3m1 0h4m1 0h1m2 0h2m4 0h1m4 0h5m2 0h2m1 0h1m1 0h1m1 0h2m5 0h3m1 0h1m2 0h2m1 0h3m1 0h4m1 0h2m6 0h2m4 0h1m2 0h4m1 0h6m1 0h1m1 0h1m3 0h1m1 0h1m1 0h3m1 0h2m5 0h3m2 0h2m1 0h1m1 0h1m3 0h3m3 0h1m3 0h2m2 0h1m1 0h7m6 0h1m3 0h1m3 0h2m2 0h2m2 0h1m2 0h1m1 0h1m1 0h2m5 0h3m1 0h1m1 0h3m1 0h1m1 0h1m2 0h3m2 0h1m1 0h1m2 0h2m1 0h5m2 0h1m1 0h1m4 0h1m1 0h3m1 0h3m1 0h2m2 0h1m2 0h3m1 0h4m1 0h1m1 0h1m2 0h1m1 0h2m3 0h2m4 0h4m1 0h2m2 0h2M17 99.5h2m16 0h1m10 0h1m9 0h1m25 0h1m11 0h1m1 0h1m17 0h1m9 0h1m22 0h1m9 0h3m20 0h1m18 0h2m3 0h2m1 0h1m14 0h2m1 0h2m12 0h1m23 0h1M1 100.5h1m1 0h1m1 0h2m1 0h6m1 0h1m1 0h2m1 0h3m3 0h1m2 0h1m4 0h2m5 0h2m3 0h1m1 0h1m3 0h1m2 0h3m4 0h1m2 0h4m1 0h2m2 0h1m7 0h2m1 0h2m2 0h1m3 0h2m3 0h4m3 0h6m2 0h2m1 0h1m4 0h6m2 0h2m1 0h1m1 0h1m3 0h1m1 0h1m6 0h2m6 0h1m1 0h4m1 0h1m7 0h1m4 0h3m1 0h2m1 0h2m1 0h1m3 0h1m1 0h1m4 0h6m1 0h1m2 0h4m1 0h1m2 0h1m2 0h1m1 0h2m1 0h5m5 0h1m1 0h1m3 0h4m1 0h5m1 0h2m1 0h1m1 0h1m2 0h4m1 0h2m3 0h1m2 0h1m1 0h4m1 0h1m5 0h1m4 0h2m1 0h2M17 101.5h2m18 0h1m29 0h2m20 0h1m4 0h1m19 0h1m19 0h1m20 0h1m2 0h2m47 0h1m14 0h1m1 0h3m12 0h2m22 0h1m27 0h1M1 102.5h1m1 0h1m1 0h1m4 0h4m1 0h1m1 0h2m2 0h1m3 0h2m2 0h1m2 0h3m2 0h2m2 0h2m2 0h6m1 0h2m1 0h3m2 0h3m2 0h2m1 0h1m1 0h2m4 0h1m5 0h4m1 0h1m1 0h2m1 0h2m2 0h2m2 0h2m5 0h4m2 0h4m2 0h1m1 0h1m1 0h2m4 0h2m3 0h1m1 0h1m2 0h2m5 0h3m2 0h6m1 0h3m1 0h1m1 0h4m1 0h2m4 0h3m2 0h1m1 0h2m1 0h1m2 0h2m1 0h1m4 0h2m1 0h6m1 0h2m3 0h1m2 0h1m1 0h2m2 0h3m2 0h2m4 0h1m2 0h2m1 0h2m1 0h2m2 0h1m1 0h2m1 0h1m1 0h2m1 0h1m1 0h1m1 0h3m1 0h2m3 0h2m1 0h2m2 0h1m2 0h1m1 0h3m1 0h1m5 0h1m1 0h3M17 103.5h2m18 0h1m8 0h1m21 0h1m27 0h1m11 0h1m1 0h1m23 0h1m14 0h1m5 0h1m2 0h3m46 0h1m14 0h1m17 0h2m20 0h1m30 0h1M1 104.5h3m6 0h1m1 0h2m1 0h1m2 0h1m2 0h1m4 0h1m2 0h1m1 0h3m1 0h2m1 0h2m1 0h2m2 0h1m2 0h1m1 0h1m1 0h1m1 0h3m4 0h1m1 0h2m1 0h3m1 0h2m3 0h1m1 0h2m1 0h1m2 0h1m6 0h1m1 0h1m1 0h7m1 0h1m2 0h1m1 0h6m1 0h1m2 0h3m1 0h6m2 0h4m1 0h3m2 0h1m1 0h2m3 0h6m1 0h3m2 0h3m1 0h1m2 0h2m1 0h1m1 0h1m3 0h1m4 0h2m1 0h4m1 0h4m3 0h1m6 0h3m1 0h3m1 0h6m1 0h2m2 0h1m4 0h1m5 0h1m2 0h1m1 0h1m2 0h3m4 0h2m1 0h1m3 0h2m1 0h2m3 0h3m2 0h1m1 0h1m1 0h2m2 0h4m1 0h1m3 0h1m1 0h1m2 0h6M18 105.5h1m13 0h1m23 0h1m10 0h1m10 0h1m10 0h1m2 0h1m1 0h1m1 0h1m11 0h1m1 0h1m23 0h1m23 0h3m79 0h1m20 0h1m31 0h1M1 106.5h3m6 0h1m1 0h2m1 0h1m1 0h2m2 0h6m1 0h10m1 0h1m1 0h2m4 0h2m1 0h3m3 0h1m4 0h1m4 0h1m1 0h1m1 0h4m1 0h2m1 0h3m1 0h9m2 0h1m1 0h3m3 0h1m2 0h1m2 0h2m1 0h3m1 0h2m1 0h3m1 0h5m4 0h2m1 0h5m1 0h1m1 0h1m1 0h1m1 0h11m2 0h5m1 0h2m1 0h1m1 0h1m1 0h3m5 0h1m2 0h2m1 0h1m3 0h3m2 0h1m3 0h2m2 0h2m2 0h6m2 0h1m1 0h2m2 0h3m1 0h2m1 0h1m3 0h1m1 0h1m6 0h2m4 0h2m1 0h1m3 0h2m1 0h2m3 0h4m1 0h1m1 0h1m1 0h2m2 0h6m4 0h1m3 0h3m2 0h1M17 107.5h2m28 0h1m20 0h1m7 0h1m1 0h1m1 0h1m2 0h2m11 0h1m11 0h1m3 0h1m21 0h1m17 0h1m5 0h3m28 0h1m4 0h1m27 0h1m17 0h1m20 0h1m31 0h1M1 108.5h4m4 0h5m1 0h1m1 0h2m3 0h8m1 0h1m2 0h2m1 0h2m1 0h2m3 0h3m3 0h2m3 0h1m1 0h4m3 0h4m1 0h3m3 0h3m1 0h7m1 0h1m2 0h6m4 0h1m2 0h1m2 0h12m1 0h1m1 0h5m1 0h1m1 0h2m1 0h2m1 0h1m1 0h2m1 0h1m1 0h1m1 0h5m1 0h6m1 0h1m1 0h5m1 0h1m2 0h1m1 0h1m2 0h1m2 0h1m4 0h1m1 0h4m1 0h1m2 0h1m1 0h1m1 0h1m1 0h2m2 0h11m3 0h1m5 0h1m1 0h3m3 0h4m5 0h3m4 0h1m2 0h1m1 0h3m1 0h2m2 0h1m1 0h4m3 0h1m1 0h1m2 0h15m1 0h5M17 109.5h2m15 0h1m12 0h1m18 0h2m8 0h3m1 0h1m1 0h4m6 0h3m16 0h1m1 0h1m14 0h1m23 0h1m36 0h1m4 0h1m12 0h1m14 0h1m3 0h1m12 0h2m20 0h1m1 0h1m28 0h2M0 110.5h5m1 0h1m2 0h5m3 0h2m3 0h5m1 0h2m4 0h3m8 0h5m1 0h3m1 0h3m1 0h3m3 0h3m1 0h10m1 0h15m5 0h1m3 0h3m1 0h1m1 0h8m2 0h1m1 0h5m1 0h5m2 0h2m1 0h2m1 0h3m1 0h4m1 0h7m2 0h2m2 0h2m4 0h1m1 0h1m2 0h6m2 0h3m1 0h2m1 0h2m1 0h1m1 0h1m3 0h2m2 0h3m1 0h3m1 0h9m1 0h5m2 0h7m5 0h2m4 0h4m1 0h4m1 0h1m2 0h1m2 0h3m1 0h4m1 0h1m1 0h16m1 0h5M2 111.5h2m8 0h2m3 0h2m15 0h1m12 0h1m8 0h1m9 0h2m8 0h3m1 0h1m1 0h4m2 0h2m1 0h4m15 0h1m1 0h1m19 0h1m19 0h1m41 0h1m12 0h1m14 0h1m16 0h2m20 0h1m30 0h2M0 112.5h6m1 0h1m1 0h18m2 0h1m1 0h1m2 0h2m1 0h4m5 0h4m1 0h3m1 0h6m1 0h2m1 0h3m1 0h4m1 0h5m1 0h15m5 0h1m6 0h2m1 0h3m2 0h2m4 0h1m2 0h2m4 0h4m1 0h2m2 0h9m1 0h10m1 0h1m2 0h2m4 0h1m2 0h4m1 0h4m1 0h3m6 0h1m2 0h1m1 0h3m1 0h4m3 0h1m2 0h15m1 0h1m3 0h4m5 0h3m5 0h1m1 0h3m1 0h3m2 0h1m2 0h1m1 0h1m1 0h23m1 0h5M12 113.5h2m3 0h2m1 0h1m11 0h1m14 0h1m8 0h2m7 0h3m10 0h1m1 0h1m1 0h7m1 0h5m17 0h1m15 0h1m3 0h2m15 0h1m2 0h1m5 0h1m18 0h1m16 0h1m12 0h1m2 0h1m11 0h1m16 0h2m20 0h1m16 0h3m11 0h2M0 114.5h8m1 0h15m1 0h2m2 0h1m1 0h2m2 0h6m6 0h2m2 0h8m3 0h7m4 0h3m2 0h19m1 0h4m1 0h3m2 0h5m2 0h6m1 0h1m1 0h3m1 0h9m3 0h8m1 0h12m2 0h1m4 0h1m1 0h1m1 0h8m2 0h3m1 0h2m1 0h1m1 0h1m2 0h1m1 0h9m2 0h2m1 0h17m3 0h5m1 0h1m2 0h2m1 0h4m3 0h7m2 0h1m1 0h1m1 0h1m1 0h12m1 0h9m1 0h7M12 115.5h2m2 0h3m1 0h1m26 0h1m8 0h3m5 0h1m3 0h1m9 0h1m1 0h6m2 0h1m1 0h4m16 0h3m15 0h1m3 0h1m13 0h1m2 0h1m2 0h1m5 0h2m16 0h2m16 0h1m12 0h1m2 0h1m11 0h1m16 0h1m2 0h2m23 0h2m23 0h2M0 116.5h4m1 0h1m1 0h1m1 0h6m1 0h6m1 0h4m3 0h1m3 0h7m6 0h3m1 0h3m2 0h3m3 0h4m1 0h1m5 0h3m2 0h17m1 0h10m1 0h6m3 0h5m1 0h1m1 0h3m1 0h7m5 0h25m3 0h1m2 0h10m1 0h6m3 0h1m2 0h1m1 0h3m2 0h8m1 0h17m1 0h7m1 0h6m1 0h3m3 0h4m1 0h2m2 0h1m1 0h16m1 0h3m3 0h5m1 0h5M12 117.5h1m3 0h1m1 0h1m1 0h2m12 0h1m12 0h1m8 0h1m1 0h1m5 0h1m13 0h1m2 0h3m4 0h3m1 0h2m14 0h3m1 0h1m19 0h1m13 0h1m2 0h1m2 0h1m5 0h2m16 0h2m16 0h1m6 0h3m3 0h1m2 0h1m3 0h2m6 0h1m16 0h3m1 0h1m18 0h2m3 0h2m10 0h1m12 0h2M0 118.5h3m2 0h10m1 0h11m3 0h1m1 0h1m2 0h11m1 0h2m1 0h8m1 0h12m3 0h11m1 0h5m1 0h2m1 0h16m1 0h1m1 0h7m1 0h5m1 0h9m2 0h8m1 0h19m1 0h15m3 0h2m1 0h1m2 0h4m1 0h2m2 0h15m1 0h1m1 0h5m1 0h10m1 0h11m1 0h5m7 0h16m2 0h3m1 0h6m1 0h5M6 119.5h3m3 0h1m3 0h3m1 0h2m13 0h2m19 0h2m6 0h2m1 0h2m12 0h3m1 0h1m2 0h1m3 0h2m14 0h3m1 0h1m19 0h1m13 0h1m2 0h1m2 0h1m5 0h2m19 0h1m14 0h1m6 0h3m2 0h2m2 0h1m3 0h2m12 0h1m10 0h5m17 0h3m3 0h2m4 0h3m4 0h1m11 0h2M0 120.5h3m1 0h1m1 0h7m2 0h12m2 0h8m2 0h2m1 0h5m1 0h9m2 0h12m1 0h2m3 0h7m2 0h4m2 0h20m2 0h11m1 0h1m2 0h8m2 0h5m1 0h2m1 0h5m3 0h11m1 0h11m2 0h2m1 0h1m1 0h1m2 0h7m1 0h1m3 0h15m1 0h1m1 0h5m1 0h1m1 0h4m2 0h14m1 0h5m1 0h3m1 0h17m3 0h4m1 0h5m4 0h2M4 121.5h1m1 0h3m3 0h1m2 0h2m1 0h1m1 0h2m12 0h3m19 0h1m1 0h1m5 0h5m8 0h1m1 0h1m1 0h1m6 0h1m6 0h2m11 0h4m17 0h4m13 0h1m2 0h1m8 0h3m33 0h1m6 0h2m3 0h2m2 0h1m3 0h2m11 0h2m4 0h1m5 0h5m1 0h2m12 0h5m3 0h2m4 0h2m17 0h2M0 122.5h3m1 0h1m1 0h11m1 0h10m1 0h10m3 0h5m1 0h6m1 0h2m1 0h16m2 0h6m1 0h1m1 0h28m3 0h8m1 0h2m2 0h23m1 0h1m1 0h2m1 0h4m1 0h6m1 0h9m2 0h7m1 0h7m1 0h20m2 0h7m1 0h5m1 0h4m2 0h14m1 0h10m1 0h19m1 0h3m1 0h5M4 123.5h1m2 0h2m2 0h2m1 0h3m1 0h1m1 0h2m13 0h4m6 0h1m10 0h1m1 0h1m5 0h5m4 0h1m3 0h4m7 0h2m4 0h3m11 0h4m17 0h4m1 0h1m9 0h2m3 0h1m8 0h3m30 0h1m9 0h2m3 0h2m2 0h1m3 0h3m11 0h1m4 0h1m5 0h5m1 0h2m12 0h3m1 0h1m3 0h2m2 0h4m3 0h3m11 0h2M0 124.5h5m1 0h28m1 0h4m1 0h53m1 0h3m1 0h29m1 0h19m1 0h3m1 0h8m4 0h7m2 0h4m2 0h1m1 0h15m1 0h6m1 0h7m2 0h9m1 0h2m3 0h1m3 0h6m1 0h23m1 0h1m1 0h29M4 125.5h1m2 0h2m2 0h7m2 0h1m11 0h1m2 0h4m6 0h2m3 0h1m5 0h1m1 0h1m5 0h5m4 0h1m3 0h4m1 0h1m6 0h2m1 0h1m1 0h3m14 0h2m2 0h1m13 0h4m5 0h1m5 0h2m3 0h1m8 0h2m2 0h1m26 0h1m1 0h1m9 0h1m12 0h3m16 0h1m5 0h2m1 0h2m1 0h1m13 0h3m1 0h1m3 0h2m2 0h4m17 0h2M0 126.5h2m1 0h15m1 0h2m1 0h12m1 0h16m2 0h21m1 0h8m4 0h10m2 0h21m1 0h3m2 0h1m1 0h8m1 0h10m1 0h3m2 0h2m3 0h2m1 0h1m2 0h3m1 0h3m2 0h3m1 0h1m2 0h14m4 0h7m5 0h1m1 0h9m2 0h9m1 0h8m1 0h22m1 0h11m2 0h3m2 0h1m1 0h3m1 0h1m1 0h3M4 127.5h1m2 0h2m2 0h1m3 0h3m2 0h1m6 0h1m5 0h1m1 0h4m3 0h2m1 0h1m4 0h1m2 0h2m1 0h1m7 0h5m4 0h1m3 0h4m1 0h1m4 0h1m1 0h8m14 0h2m2 0h1m13 0h4m2 0h1m2 0h1m5 0h2m3 0h1m8 0h2m1 0h1m13 0h1m15 0h1m9 0h2m11 0h3m16 0h1m5 0h2m1 0h2m1 0h2m12 0h5m3 0h2m2 0h4m17 0h2M3 128.5h2m1 0h12m1 0h10m4 0h13m1 0h4m1 0h8m1 0h22m3 0h23m1 0h17m1 0h6m1 0h12m1 0h3m1 0h8m1 0h1m2 0h3m1 0h8m2 0h7m2 0h7m2 0h6m1 0h1m2 0h5m1 0h9m2 0h2m2 0h5m1 0h19m3 0h10m1 0h13m1 0h1m3 0h1m4 0h5M4 129.5h1m1 0h3m2 0h1m5 0h1m2 0h2m1 0h3m1 0h1m3 0h1m1 0h1m1 0h4m3 0h2m1 0h1m1 0h1m2 0h1m1 0h5m8 0h4m4 0h1m2 0h5m1 0h1m4 0h3m2 0h3m15 0h3m2 0h1m16 0h1m2 0h4m5 0h1m7 0h1m3 0h4m1 0h1m13 0h1m3 0h1m11 0h1m9 0h2m12 0h2m5 0h1m7 0h1m3 0h2m3 0h2m1 0h2m1 0h2m12 0h4m4 0h2m2 0h6m1 0h2m9 0h2m1 0h1M3 130.5h25m1 0h2m3 0h10m1 0h1m1 0h1m2 0h9m2 0h1m3 0h18m3 0h31m1 0h9m2 0h11m1 0h5m4 0h10m1 0h17m1 0h10m1 0h14m1 0h9m1 0h6m5 0h26m3 0h22m1 0h4m1 0h2m4 0h5M4 131.5h1m2 0h2m2 0h1m5 0h1m2 0h2m1 0h3m1 0h1m7 0h1m1 0h2m3 0h2m1 0h1m1 0h1m2 0h1m2 0h1m1 0h2m10 0h2m4 0h1m2 0h7m3 0h1m5 0h4m4 0h2m7 0h1m1 0h2m2 0h1m4 0h3m5 0h1m3 0h1m1 0h5m5 0h1m11 0h2m4 0h1m12 0h1m1 0h1m1 0h1m11 0h1m9 0h1m5 0h1m2 0h1m19 0h2m1 0h3m3 0h2m1 0h2m1 0h2m8 0h2m2 0h4m4 0h2m2 0h6m1 0h3m8 0h2m1 0h1M0 132.5h2m1 0h2m2 0h21m1 0h2m2 0h15m2 0h1m1 0h7m1 0h2m1 0h1m1 0h18m2 0h3m1 0h7m1 0h1m1 0h7m2 0h6m1 0h2m1 0h9m1 0h8m1 0h3m1 0h9m3 0h21m1 0h3m1 0h4m3 0h3m1 0h3m1 0h1m1 0h4m1 0h1m2 0h11m1 0h38m1 0h8m2 0h29M7 133.5h1m9 0h1m2 0h2m1 0h3m9 0h1m2 0h1m3 0h2m3 0h1m2 0h1m2 0h1m1 0h2m10 0h2m4 0h1m2 0h7m3 0h1m5 0h1m1 0h2m3 0h3m6 0h5m15 0h1m3 0h1m1 0h2m1 0h2m6 0h1m3 0h1m5 0h3m4 0h1m12 0h1m1 0h1m1 0h1m3 0h1m7 0h1m9 0h1m1 0h1m3 0h1m6 0h1m11 0h1m3 0h2m2 0h2m5 0h1m1 0h1m1 0h2m8 0h8m4 0h2m6 0h6m8 0h2m1 0h1M2 134.5h3m2 0h1m1 0h2m2 0h19m1 0h3m1 0h11m2 0h9m1 0h2m2 0h2m1 0h2m3 0h11m1 0h9m1 0h2m1 0h1m1 0h4m1 0h10m1 0h6m2 0h4m1 0h12m2 0h4m2 0h2m3 0h13m1 0h3m1 0h3m1 0h7m1 0h1m2 0h6m1 0h2m1 0h4m1 0h8m1 0h1m2 0h2m1 0h1m1 0h7m1 0h7m1 0h5m2 0h1m1 0h12m1 0h17m2 0h8m1 0h9M7 135.5h1m1 0h1m7 0h1m2 0h2m1 0h3m7 0h1m1 0h1m2 0h1m3 0h3m2 0h1m2 0h1m1 0h5m10 0h2m7 0h2m1 0h4m3 0h4m4 0h1m4 0h3m6 0h2m1 0h2m12 0h2m1 0h1m3 0h1m1 0h2m1 0h2m10 0h1m5 0h3m3 0h2m12 0h1m1 0h1m1 0h1m3 0h1m7 0h1m9 0h2m4 0h1m6 0h1m1 0h1m2 0h1m1 0h1m4 0h1m3 0h2m2 0h5m2 0h1m1 0h1m1 0h2m7 0h1m1 0h4m1 0h3m3 0h1m7 0h6m8 0h2m1 0h1M0 136.5h8m1 0h1m1 0h1m1 0h34m3 0h12m1 0h2m1 0h3m1 0h8m1 0h13m1 0h3m1 0h1m1 0h17m1 0h1m1 0h2m2 0h4m1 0h1m2 0h9m3 0h1m1 0h1m1 0h17m2 0h7m2 0h1m1 0h17m1 0h5m1 0h3m1 0h4m1 0h13m2 0h8m1 0h15m1 0h3m1 0h1m1 0h25m4 0h9M7 137.5h1m1 0h1m7 0h1m2 0h2m1 0h3m7 0h3m1 0h2m3 0h5m5 0h5m7 0h1m2 0h2m7 0h2m2 0h3m3 0h4m3 0h2m4 0h3m3 0h1m1 0h1m1 0h1m1 0h3m1 0h1m9 0h2m1 0h1m3 0h1m1 0h5m6 0h1m3 0h1m2 0h1m2 0h2m4 0h2m6 0h2m4 0h1m1 0h3m2 0h2m5 0h1m1 0h1m3 0h1m5 0h3m3 0h1m2 0h1m3 0h3m2 0h1m1 0h1m3 0h2m7 0h5m3 0h2m1 0h2m3 0h1m4 0h5m1 0h5m1 0h1m5 0h8m8 0h2M0 138.5h12m1 0h35m2 0h1m1 0h17m3 0h3m1 0h15m1 0h4m1 0h1m1 0h9m1 0h5m1 0h1m1 0h3m1 0h2m2 0h2m1 0h16m1 0h1m1 0h10m1 0h7m1 0h7m2 0h5m1 0h9m1 0h3m1 0h9m1 0h4m1 0h3m1 0h6m1 0h10m1 0h8m1 0h7m1 0h3m3 0h26m2 0h8m1 0h1M0 139.5h1m6 0h4m6 0h1m2 0h2m1 0h3m11 0h2m6 0h3m2 0h1m1 0h5m7 0h1m8 0h1m2 0h3m1 0h3m4 0h2m4 0h2m4 0h3m5 0h1m1 0h5m1 0h1m2 0h1m6 0h2m1 0h1m3 0h1m1 0h3m1 0h1m6 0h1m1 0h3m2 0h1m2 0h2m4 0h2m6 0h2m7 0h2m2 0h2m5 0h1m1 0h1m3 0h1m2 0h2m1 0h3m3 0h1m6 0h3m2 0h1m1 0h1m1 0h4m7 0h5m3 0h2m1 0h2m3 0h1m4 0h11m1 0h2m2 0h9m9 0h2M2 140.5h2m2 0h5m1 0h21m3 0h5m1 0h1m1 0h4m1 0h14m2 0h4m2 0h18m1 0h1m2 0h3m1 0h5m5 0h9m1 0h7m1 0h2m1 0h5m1 0h12m1 0h18m1 0h7m1 0h2m1 0h3m1 0h5m1 0h17m1 0h4m1 0h2m2 0h26m1 0h25m1 0h3m1 0h9m2 0h1m1 0h7M6 141.5h5m6 0h1m2 0h2m14 0h3m6 0h3m2 0h1m1 0h2m2 0h1m9 0h2m3 0h1m1 0h1m1 0h3m1 0h4m16 0h3m5 0h7m1 0h1m2 0h2m5 0h2m1 0h1m3 0h1m5 0h1m5 0h2m1 0h3m2 0h1m2 0h2m1 0h3m8 0h2m7 0h2m2 0h2m5 0h1m1 0h1m3 0h1m2 0h2m1 0h3m3 0h1m7 0h2m2 0h8m7 0h2m2 0h1m3 0h2m1 0h1m4 0h1m4 0h11m1 0h2m2 0h5m1 0h3m3 0h2m1 0h3m1 0h1M2 142.5h2m2 0h5m1 0h12m2 0h13m1 0h1m1 0h19m1 0h1m1 0h14m1 0h10m1 0h3m4 0h15m1 0h3m1 0h2m2 0h6m1 0h3m1 0h4m2 0h27m1 0h6m2 0h12m1 0h27m1 0h24m2 0h25m1 0h9m1 0h6m1 0h5m1 0h1m1 0h1M6 143.5h1m1 0h1m8 0h1m2 0h2m11 0h4m7 0h4m2 0h1m2 0h1m2 0h1m7 0h5m2 0h1m1 0h1m2 0h2m1 0h4m10 0h1m5 0h3m2 0h2m1 0h5m1 0h1m1 0h1m2 0h1m9 0h1m3 0h1m5 0h1m5 0h2m1 0h1m1 0h1m5 0h6m8 0h2m4 0h5m2 0h4m9 0h1m4 0h4m3 0h1m2 0h1m8 0h8m2 0h1m4 0h2m2 0h1m3 0h2m1 0h1m6 0h1m2 0h10m2 0h2m3 0h4m2 0h3m3 0h1m1 0h3m1 0h1M1 144.5h3m1 0h2m1 0h29m3 0h3m1 0h7m2 0h4m1 0h1m1 0h3m1 0h14m1 0h6m1 0h10m1 0h19m1 0h2m2 0h5m2 0h3m1 0h2m1 0h1m1 0h9m1 0h1m1 0h15m2 0h6m2 0h14m2 0h8m1 0h12m3 0h36m1 0h3m1 0h10m2 0h3m2 0h5m1 0h16M6 145.5h1m5 0h2m3 0h1m2 0h2m1 0h2m1 0h1m6 0h2m1 0h1m5 0h1m1 0h1m1 0h2m2 0h1m5 0h1m7 0h5m4 0h1m2 0h2m1 0h4m5 0h4m1 0h2m4 0h3m2 0h2m2 0h4m1 0h3m12 0h1m6 0h1m2 0h1m5 0h4m1 0h1m5 0h6m8 0h2m4 0h2m2 0h1m3 0h4m8 0h3m2 0h4m6 0h1m8 0h3m1 0h2m4 0h1m4 0h2m2 0h1m3 0h2m1 0h2m5 0h1m2 0h2m2 0h6m2 0h2m3 0h3m1 0h3m1 0h1m3 0h1m1 0h5m1 0h2M0 146.5h7m1 0h1m1 0h15m1 0h3m1 0h5m1 0h1m3 0h5m1 0h6m1 0h43m1 0h19m3 0h1m1 0h6m1 0h3m1 0h8m1 0h23m2 0h11m1 0h10m4 0h12m3 0h1m1 0h2m1 0h1m4 0h5m1 0h2m1 0h1m1 0h9m1 0h15m3 0h14m1 0h4m1 0h3m1 0h14M6 147.5h1m5 0h2m3 0h1m2 0h2m2 0h1m1 0h1m6 0h2m1 0h1m5 0h2m3 0h1m2 0h1m3 0h3m7 0h5m4 0h1m2 0h7m3 0h1m1 0h1m1 0h2m1 0h2m4 0h3m2 0h2m2 0h5m1 0h2m9 0h2m7 0h5m5 0h2m1 0h3m6 0h5m8 0h2m5 0h1m2 0h1m4 0h1m11 0h8m6 0h1m8 0h3m1 0h2m4 0h1m3 0h3m6 0h2m1 0h2m4 0h2m3 0h1m2 0h7m1 0h2m8 0h2m1 0h1m2 0h2m1 0h5m1 0h2M0 148.5h2m2 0h3m1 0h1m1 0h4m1 0h4m1 0h3m1 0h22m1 0h36m2 0h2m2 0h3m1 0h13m1 0h5m2 0h2m1 0h3m1 0h1m1 0h4m7 0h6m2 0h4m1 0h3m1 0h31m2 0h4m2 0h15m2 0h7m2 0h11m1 0h8m3 0h5m1 0h25m1 0h2m1 0h7m2 0h11M6 149.5h1m5 0h2m3 0h1m2 0h2m2 0h1m1 0h1m5 0h9m1 0h3m2 0h1m2 0h1m1 0h1m1 0h3m7 0h5m4 0h1m2 0h7m3 0h1m3 0h4m5 0h3m5 0h1m1 0h3m2 0h2m2 0h1m6 0h2m1 0h1m5 0h5m6 0h5m1 0h1m4 0h5m8 0h2m5 0h1m2 0h1m2 0h1m1 0h1m1 0h1m3 0h4m2 0h5m9 0h1m8 0h1m6 0h1m2 0h1m3 0h1m1 0h1m6 0h1m2 0h2m3 0h1m1 0h1m3 0h1m2 0h4m1 0h2m1 0h2m8 0h2m1 0h1m2 0h2m4 0h1m2 0h2M0 150.5h2m2 0h3m1 0h1m1 0h9m1 0h3m1 0h1m1 0h1m2 0h12m1 0h41m2 0h10m1 0h9m2 0h9m1 0h2m1 0h2m1 0h1m1 0h2m3 0h1m3 0h7m1 0h2m1 0h5m1 0h22m2 0h2m2 0h6m1 0h2m1 0h16m1 0h1m1 0h3m2 0h2m3 0h3m1 0h5m1 0h3m1 0h6m1 0h5m1 0h2m1 0h3m1 0h1m2 0h2m1 0h12m2 0h3m1 0h5m1 0h9m1 0h2M6 151.5h1m5 0h1m4 0h1m13 0h10m1 0h3m2 0h1m2 0h1m1 0h5m9 0h3m4 0h1m1 0h8m3 0h4m2 0h2m5 0h3m5 0h1m1 0h7m2 0h1m6 0h2m7 0h1m1 0h3m6 0h5m1 0h1m3 0h7m7 0h1m5 0h2m1 0h2m4 0h1m5 0h4m1 0h6m18 0h1m6 0h1m2 0h1m3 0h3m6 0h1m2 0h2m3 0h1m1 0h1m3 0h1m2 0h1m1 0h2m2 0h1m2 0h1m8 0h4m3 0h2m3 0h1M0 152.5h2m1 0h4m1 0h5m1 0h5m1 0h3m1 0h1m1 0h20m1 0h10m1 0h25m2 0h5m1 0h4m1 0h20m1 0h2m1 0h4m1 0h2m1 0h4m2 0h9m1 0h21m4 0h1m1 0h15m1 0h1m2 0h13m1 0h5m1 0h5m3 0h9m1 0h2m1 0h1m1 0h4m1 0h5m2 0h8m3 0h1m1 0h8m1 0h6m4 0h6m1 0h8M12 153.5h1m1 0h1m2 0h1m13 0h10m1 0h4m6 0h3m1 0h1m10 0h2m7 0h7m5 0h3m1 0h1m1 0h1m4 0h3m5 0h1m2 0h6m2 0h1m6 0h2m1 0h1m7 0h3m5 0h6m1 0h1m3 0h4m10 0h1m5 0h5m2 0h4m6 0h2m1 0h1m1 0h4m18 0h1m1 0h2m3 0h1m2 0h1m3 0h1m1 0h1m6 0h1m2 0h1m10 0h1m4 0h1m3 0h1m1 0h2m2 0h1m1 0h1m4 0h1m1 0h1m4 0h1M0 154.5h4m2 0h17m4 0h2m2 0h3m1 0h6m1 0h5m2 0h21m2 0h1m1 0h1m1 0h7m2 0h5m2 0h3m1 0h24m1 0h2m1 0h3m1 0h1m1 0h1m3 0h18m1 0h6m1 0h2m1 0h2m4 0h3m2 0h14m3 0h5m1 0h10m1 0h3m2 0h14m1 0h4m1 0h1m1 0h2m2 0h5m1 0h7m4 0h1m1 0h5m1 0h1m2 0h2m1 0h3m1 0h3m1 0h5m2 0h8M7 155.5h2m3 0h1m4 0h1m2 0h2m9 0h2m2 0h6m1 0h5m5 0h3m1 0h1m11 0h1m7 0h4m8 0h2m2 0h1m6 0h3m2 0h2m1 0h1m2 0h1m1 0h4m12 0h1m5 0h5m5 0h2m2 0h3m4 0h4m11 0h1m4 0h5m2 0h4m1 0h1m4 0h5m22 0h1m6 0h1m2 0h1m12 0h1m18 0h1m2 0h1m2 0h1m3 0h1m3 0h2m1 0h3m4 0h1M0 156.5h3m4 0h6m1 0h13m1 0h1m2 0h10m1 0h19m2 0h7m2 0h9m1 0h1m1 0h2m1 0h10m2 0h2m1 0h7m1 0h6m2 0h1m3 0h1m1 0h3m1 0h18m2 0h5m1 0h8m1 0h2m5 0h2m2 0h15m1 0h7m1 0h1m4 0h2m1 0h15m1 0h10m3 0h2m4 0h9m1 0h2m2 0h5m1 0h4m3 0h4m1 0h15m1 0h1m1 0h3M8 157.5h1m2 0h2m4 0h1m3 0h1m4 0h1m4 0h2m1 0h5m3 0h3m1 0h2m4 0h3m1 0h1m7 0h3m1 0h1m3 0h2m1 0h5m1 0h1m6 0h3m1 0h1m6 0h1m2 0h4m1 0h1m2 0h1m1 0h4m12 0h1m5 0h3m6 0h2m3 0h3m4 0h1m2 0h1m2 0h1m8 0h1m5 0h3m3 0h4m2 0h1m2 0h5m14 0h1m18 0h1m12 0h2m1 0h2m4 0h1m7 0h1m1 0h1m5 0h1m3 0h1m3 0h2m3 0h1m2 0h1m1 0h1M0 158.5h1m4 0h1m1 0h9m1 0h3m1 0h7m3 0h15m1 0h14m2 0h23m1 0h4m1 0h3m1 0h13m1 0h6m2 0h1m1 0h1m3 0h3m1 0h4m1 0h4m2 0h3m1 0h3m1 0h5m3 0h9m3 0h1m2 0h1m4 0h11m2 0h1m1 0h7m1 0h1m1 0h6m2 0h6m1 0h2m1 0h2m1 0h1m1 0h2m1 0h2m1 0h9m1 0h1m1 0h9m1 0h2m2 0h2m2 0h7m1 0h1m2 0h3m1 0h5m1 0h4m1 0h3m1 0h1m1 0h3M11 159.5h4m2 0h1m3 0h1m4 0h1m4 0h2m1 0h5m3 0h3m2 0h1m5 0h1m1 0h2m8 0h4m4 0h1m1 0h7m6 0h2m4 0h1m4 0h1m1 0h5m1 0h1m2 0h2m1 0h3m2 0h1m15 0h3m7 0h1m3 0h3m6 0h2m2 0h1m8 0h1m6 0h2m5 0h2m2 0h1m1 0h3m17 0h1m10 0h1m7 0h1m3 0h1m1 0h1m6 0h2m1 0h2m4 0h1m7 0h2m2 0h1m7 0h2m2 0h2M0 160.5h8m1 0h7m1 0h5m3 0h3m3 0h2m1 0h2m1 0h11m2 0h1m1 0h1m1 0h8m2 0h6m2 0h2m1 0h8m1 0h1m2 0h4m1 0h17m1 0h9m2 0h6m1 0h4m2 0h5m1 0h5m2 0h7m2 0h6m2 0h2m1 0h4m4 0h12m1 0h1m1 0h4m1 0h11m3 0h7m2 0h4m1 0h2m1 0h2m1 0h8m2 0h1m1 0h9m1 0h3m1 0h1m2 0h3m1 0h3m1 0h14m2 0h2m1 0h1m1 0h3m1 0h3M6 161.5h1m4 0h4m2 0h1m2 0h2m4 0h1m4 0h2m4 0h1m4 0h3m1 0h2m6 0h1m1 0h1m7 0h2m9 0h2m1 0h4m10 0h2m5 0h5m1 0h3m3 0h1m3 0h3m16 0h4m10 0h4m5 0h2m1 0h1m16 0h2m5 0h2m2 0h1m1 0h2m1 0h1m16 0h1m8 0h2m8 0h1m3 0h3m6 0h2m2 0h1m4 0h1m7 0h2m3 0h1m3 0h1m2 0h2m1 0h5M0 162.5h1m2 0h5m1 0h14m1 0h4m3 0h5m1 0h12m1 0h1m2 0h1m2 0h6m3 0h17m2 0h1m3 0h6m1 0h15m1 0h1m1 0h1m1 0h4m1 0h2m1 0h4m1 0h5m1 0h5m4 0h3m2 0h6m1 0h7m2 0h2m1 0h4m4 0h15m1 0h1m2 0h4m1 0h1m2 0h1m1 0h2m3 0h6m1 0h2m1 0h3m1 0h2m1 0h4m3 0h4m2 0h5m1 0h5m1 0h3m1 0h18m1 0h6m2 0h2m3 0h1m4 0h1M8 163.5h1m4 0h2m2 0h1m2 0h1m5 0h1m4 0h1m5 0h1m4 0h1m3 0h1m3 0h1m3 0h3m8 0h1m6 0h1m2 0h2m1 0h1m1 0h3m9 0h2m5 0h3m1 0h5m7 0h1m18 0h4m5 0h1m4 0h1m1 0h2m3 0h1m1 0h2m1 0h2m7 0h1m7 0h2m5 0h3m1 0h1m6 0h3m21 0h2m8 0h1m3 0h2m7 0h2m8 0h1m3 0h1m7 0h2m6 0h1m1 0h6M0 164.5h12m1 0h2m2 0h1m1 0h4m1 0h3m1 0h17m1 0h1m1 0h1m3 0h9m3 0h2m4 0h7m1 0h5m1 0h2m2 0h6m1 0h7m1 0h1m1 0h11m2 0h1m2 0h4m3 0h10m4 0h4m1 0h6m2 0h7m2 0h2m1 0h4m4 0h6m1 0h7m2 0h17m1 0h1m1 0h1m2 0h2m3 0h3m1 0h2m2 0h3m2 0h2m3 0h7m1 0h4m2 0h2m2 0h4m1 0h1m1 0h6m1 0h1m1 0h9m1 0h2m1 0h7M7 165.5h2m4 0h2m2 0h1m2 0h1m5 0h1m1 0h1m2 0h1m4 0h3m3 0h1m3 0h1m3 0h1m1 0h2m2 0h1m8 0h1m6 0h1m2 0h2m1 0h1m1 0h2m14 0h1m2 0h3m1 0h1m1 0h3m4 0h3m19 0h4m9 0h2m6 0h4m1 0h2m7 0h1m7 0h2m5 0h3m1 0h1m1 0h2m4 0h2m12 0h1m8 0h3m7 0h1m3 0h1m9 0h1m1 0h1m6 0h1m2 0h1m6 0h4m1 0h1m6 0h2M0 166.5h5m1 0h9m1 0h12m1 0h4m3 0h3m1 0h5m1 0h3m1 0h4m2 0h5m3 0h5m1 0h4m1 0h8m2 0h1m4 0h1m1 0h1m1 0h3m1 0h13m1 0h3m1 0h4m2 0h2m4 0h11m1 0h1m1 0h1m1 0h2m1 0h18m1 0h1m2 0h6m1 0h5m1 0h7m1 0h9m3 0h3m1 0h2m1 0h7m3 0h3m1 0h2m1 0h6m1 0h7m2 0h2m1 0h1m1 0h1m1 0h7m1 0h4m1 0h8m1 0h5m2 0h1m1 0h4m2 0h2m1 0h2m1 0h2M6 167.5h3m2 0h1m5 0h1m8 0h1m4 0h2m3 0h3m3 0h1m3 0h1m9 0h1m7 0h2m6 0h1m2 0h2m1 0h2m19 0h4m2 0h1m1 0h1m2 0h1m1 0h1m3 0h3m15 0h3m14 0h1m3 0h3m2 0h2m7 0h2m4 0h1m1 0h2m5 0h2m4 0h2m3 0h3m12 0h1m8 0h3m7 0h3m1 0h1m9 0h1m1 0h1m9 0h1m6 0h2m1 0h1m1 0h2m5 0h2m3 0h2M1 168.5h3m1 0h8m2 0h6m1 0h1m1 0h3m4 0h3m2 0h4m1 0h3m1 0h4m2 0h2m3 0h11m1 0h6m1 0h5m1 0h1m3 0h2m2 0h2m2 0h1m1 0h1m2 0h11m1 0h4m1 0h11m4 0h3m1 0h3m1 0h2m2 0h5m3 0h8m2 0h5m2 0h1m1 0h5m1 0h1m1 0h10m1 0h11m2 0h1m2 0h4m1 0h8m1 0h7m2 0h5m1 0h7m2 0h2m1 0h3m1 0h3m2 0h6m1 0h5m1 0h5m1 0h5m1 0h5m2 0h3m1 0h1m2 0h1M5 169.5h4m2 0h1m5 0h1m8 0h1m4 0h1m4 0h3m3 0h2m2 0h1m9 0h1m8 0h1m6 0h1m2 0h5m14 0h2m3 0h1m1 0h3m1 0h1m1 0h1m4 0h2m2 0h4m3 0h2m7 0h1m1 0h3m1 0h1m4 0h1m6 0h2m4 0h1m3 0h2m8 0h1m4 0h1m1 0h2m1 0h2m2 0h1m4 0h1m1 0h1m3 0h2m23 0h1m5 0h1m2 0h3m4 0h2m5 0h1m1 0h1m9 0h1m5 0h3m1 0h1m7 0h4M0 170.5h22m3 0h7m1 0h11m1 0h5m1 0h3m1 0h2m3 0h3m1 0h2m2 0h2m1 0h9m1 0h1m2 0h1m1 0h1m1 0h3m1 0h17m2 0h11m1 0h4m1 0h1m1 0h3m1 0h7m5 0h2m1 0h5m1 0h8m1 0h1m2 0h17m1 0h5m1 0h7m2 0h1m3 0h5m1 0h6m3 0h3m3 0h9m2 0h2m1 0h7m1 0h2m2 0h1m2 0h6m1 0h9m3 0h13m2 0h1m1 0h1M5 171.5h1m2 0h1m2 0h4m2 0h1m3 0h1m4 0h1m1 0h1m4 0h1m3 0h2m7 0h1m1 0h1m15 0h2m6 0h1m2 0h5m1 0h1m10 0h1m3 0h1m2 0h7m1 0h1m3 0h9m3 0h1m8 0h1m1 0h3m1 0h1m10 0h2m7 0h1m2 0h1m8 0h1m4 0h4m1 0h2m6 0h2m1 0h1m4 0h1m13 0h1m9 0h1m9 0h2m1 0h1m2 0h2m5 0h1m1 0h1m13 0h1m3 0h3m7 0h5M0 172.5h7m1 0h12m1 0h1m1 0h6m2 0h16m1 0h3m1 0h2m2 0h1m3 0h3m1 0h2m2 0h2m1 0h2m2 0h5m1 0h1m1 0h11m1 0h25m8 0h1m3 0h11m1 0h7m2 0h6m1 0h5m2 0h25m1 0h5m2 0h1m3 0h3m2 0h7m4 0h1m3 0h9m3 0h5m2 0h6m1 0h3m4 0h3m1 0h1m1 0h6m4 0h5m2 0h8m3 0h1m1 0h1M5 173.5h2m1 0h1m2 0h2m4 0h1m3 0h1m4 0h1m1 0h1m7 0h1m9 0h1m1 0h1m16 0h1m6 0h1m2 0h5m1 0h1m14 0h1m2 0h1m3 0h2m5 0h7m1 0h1m13 0h1m1 0h5m5 0h1m4 0h2m4 0h3m1 0h1m1 0h1m8 0h1m9 0h2m2 0h3m1 0h2m1 0h1m3 0h2m9 0h1m13 0h1m9 0h2m4 0h1m5 0h2m1 0h2m12 0h1m3 0h1m1 0h1m7 0h1m2 0h1M0 174.5h2m1 0h1m1 0h2m1 0h14m2 0h3m1 0h1m1 0h7m1 0h1m3 0h1m2 0h6m2 0h1m3 0h6m2 0h2m1 0h6m1 0h10m1 0h3m1 0h12m1 0h2m1 0h11m1 0h1m1 0h1m11 0h9m2 0h2m1 0h5m2 0h5m1 0h9m1 0h7m1 0h1m2 0h12m1 0h6m1 0h1m3 0h3m1 0h2m1 0h7m1 0h4m1 0h13m1 0h3m1 0h5m1 0h3m5 0h1m1 0h6m1 0h4m4 0h1m2 0h2m1 0h1m2 0h1m2 0h1m5 0h1M1 175.5h1m3 0h2m1 0h1m2 0h1m7 0h1m1 0h1m4 0h1m1 0h1m17 0h1m1 0h1m16 0h1m9 0h5m1 0h2m9 0h2m1 0h2m2 0h1m3 0h2m5 0h5m2 0h1m14 0h1m2 0h2m1 0h1m4 0h2m6 0h1m3 0h2m1 0h4m8 0h1m9 0h2m2 0h1m4 0h1m1 0h1m4 0h2m8 0h1m1 0h2m9 0h2m9 0h2m4 0h1m5 0h2m6 0h1m8 0h2m1 0h2m1 0h1m7 0h1m1 0h1m6 0h1M1 176.5h1m1 0h1m1 0h2m1 0h10m1 0h3m3 0h2m1 0h6m1 0h4m5 0h7m2 0h13m3 0h4m1 0h11m1 0h8m1 0h5m1 0h7m1 0h7m4 0h1m3 0h3m1 0h1m2 0h2m1 0h14m2 0h2m3 0h2m1 0h10m1 0h9m2 0h6m3 0h4m3 0h5m1 0h5m1 0h6m1 0h8m1 0h20m1 0h1m2 0h3m2 0h4m1 0h5m1 0h5m4 0h2m1 0h2m1 0h1m1 0h2m2 0h1m5 0h1m1 0h1M1 177.5h1m4 0h1m1 0h1m5 0h1m4 0h3m4 0h1m11 0h1m7 0h4m12 0h1m2 0h1m9 0h5m2 0h1m9 0h1m2 0h2m2 0h1m1 0h1m1 0h3m4 0h1m1 0h3m17 0h1m2 0h2m1 0h1m4 0h2m10 0h2m3 0h2m7 0h1m5 0h2m3 0h2m2 0h1m6 0h1m4 0h2m8 0h1m1 0h1m10 0h2m15 0h3m3 0h2m11 0h2m2 0h4m2 0h1m8 0h1m2 0h1m4 0h1M0 178.5h4m1 0h12m2 0h3m2 0h4m3 0h3m3 0h2m5 0h7m2 0h2m3 0h9m2 0h12m2 0h1m4 0h5m1 0h11m3 0h10m1 0h2m3 0h1m4 0h4m1 0h2m1 0h15m3 0h3m1 0h5m1 0h3m1 0h8m3 0h2m1 0h2m1 0h1m1 0h1m1 0h8m1 0h2m1 0h8m1 0h2m1 0h9m1 0h5m1 0h3m1 0h5m3 0h2m1 0h12m1 0h6m1 0h6m3 0h1m1 0h4m2 0h1m2 0h2m4 0h3M0 179.5h4m3 0h2m4 0h2m5 0h1m5 0h1m1 0h1m7 0h1m1 0h1m7 0h4m12 0h1m2 0h1m5 0h1m3 0h6m11 0h1m2 0h2m2 0h5m6 0h1m1 0h3m4 0h1m12 0h1m2 0h1m7 0h2m4 0h1m10 0h1m8 0h1m5 0h2m3 0h2m2 0h1m2 0h1m3 0h1m3 0h1m10 0h1m1 0h1m10 0h3m10 0h2m2 0h3m3 0h1m7 0h1m4 0h2m2 0h3m1 0h1m10 0h1m2 0h1m4 0h1M0 180.5h15m2 0h2m1 0h1m3 0h10m2 0h4m3 0h14m1 0h11m2 0h13m2 0h19m2 0h14m3 0h1m3 0h10m1 0h7m3 0h1m1 0h3m2 0h2m1 0h3m1 0h14m3 0h2m2 0h2m2 0h3m1 0h1m1 0h2m3 0h2m1 0h2m1 0h2m1 0h1m1 0h1m1 0h1m2 0h8m1 0h15m3 0h5m2 0h20m1 0h6m1 0h6m1 0h3m4 0h3M0 181.5h9m4 0h2m2 0h5m4 0h2m5 0h1m12 0h3m13 0h4m11 0h2m9 0h1m3 0h1m1 0h1m4 0h1m10 0h3m4 0h2m13 0h1m2 0h1m7 0h3m13 0h2m8 0h2m5 0h1m3 0h1m3 0h1m21 0h1m1 0h1m27 0h3m3 0h1m2 0h1m4 0h1m4 0h1m5 0h1m1 0h2m5 0h1m3 0h2m1 0h1m3 0h2M0 182.5h10m1 0h1m1 0h2m1 0h7m1 0h10m3 0h3m1 0h15m2 0h2m2 0h8m1 0h1m1 0h3m1 0h16m1 0h1m1 0h8m1 0h1m1 0h2m1 0h3m1 0h2m1 0h2m1 0h1m2 0h2m3 0h9m1 0h1m1 0h10m1 0h3m1 0h3m1 0h2m1 0h2m1 0h9m1 0h2m3 0h2m2 0h2m1 0h7m1 0h1m3 0h1m1 0h6m1 0h1m3 0h1m1 0h1m6 0h1m1 0h6m1 0h1m1 0h1m1 0h7m1 0h5m1 0h5m2 0h2m1 0h7m1 0h2m1 0h18m4 0h1M0 183.5h9m4 0h1m3 0h3m1 0h1m11 0h1m2 0h1m10 0h2m13 0h4m17 0h1m4 0h1m5 0h1m4 0h1m5 0h1m4 0h1m1 0h1m3 0h3m9 0h1m6 0h2m6 0h1m5 0h1m6 0h1m2 0h2m15 0h1m3 0h1m3 0h2m20 0h1m29 0h3m3 0h2m1 0h2m3 0h1m4 0h2m7 0h1m4 0h2m3 0h2m1 0h1m3 0h2M0 184.5h14m3 0h3m1 0h2m1 0h2m1 0h2m2 0h1m1 0h1m2 0h1m2 0h1m1 0h10m3 0h1m1 0h1m1 0h1m3 0h5m1 0h1m2 0h1m1 0h3m1 0h10m1 0h1m1 0h1m1 0h6m1 0h1m3 0h4m1 0h3m1 0h1m1 0h13m1 0h4m1 0h11m1 0h7m1 0h8m1 0h2m1 0h3m1 0h1m1 0h3m1 0h3m2 0h2m2 0h4m1 0h2m8 0h1m2 0h8m2 0h2m5 0h8m1 0h3m1 0h8m1 0h6m1 0h3m4 0h4m1 0h8m1 0h18m2 0h1m2 0h2M2 185.5h4m1 0h2m4 0h1m3 0h2m2 0h1m11 0h1m2 0h1m2 0h1m1 0h1m5 0h2m15 0h2m17 0h1m9 0h3m3 0h1m5 0h1m4 0h1m1 0h1m6 0h1m8 0h1m5 0h1m1 0h2m17 0h5m7 0h1m7 0h3m2 0h1m3 0h3m19 0h1m12 0h2m1 0h1m8 0h1m1 0h1m2 0h3m3 0h2m1 0h1m4 0h1m4 0h2m2 0h1m3 0h2m4 0h1m4 0h4m3 0h2M1 186.5h5m1 0h2m2 0h4m2 0h2m2 0h5m4 0h4m2 0h4m1 0h4m1 0h4m1 0h1m2 0h1m1 0h11m2 0h3m2 0h2m3 0h8m1 0h1m1 0h2m1 0h7m4 0h3m2 0h4m1 0h6m5 0h2m1 0h3m1 0h2m2 0h2m1 0h3m1 0h9m1 0h1m1 0h6m1 0h3m2 0h11m1 0h2m3 0h3m1 0h5m4 0h3m3 0h5m1 0h2m1 0h2m4 0h9m2 0h5m1 0h12m1 0h2m5 0h3m1 0h2m2 0h2m1 0h5m1 0h7m2 0h3m2 0h5m1 0h1M0 187.5h1m1 0h7m4 0h1m3 0h2m2 0h1m14 0h2m1 0h1m6 0h3m8 0h2m6 0h1m17 0h1m9 0h4m2 0h1m5 0h1m6 0h1m6 0h1m8 0h1m4 0h2m1 0h2m18 0h4m15 0h3m6 0h3m1 0h1m2 0h1m18 0h1m8 0h1m9 0h1m6 0h3m3 0h2m1 0h1m9 0h2m17 0h1m17 0h1M0 188.5h8m1 0h2m1 0h2m3 0h2m2 0h7m1 0h2m1 0h2m2 0h4m1 0h1m3 0h5m1 0h1m3 0h12m2 0h4m2 0h1m1 0h3m2 0h6m1 0h3m1 0h5m1 0h2m3 0h3m1 0h2m2 0h1m1 0h8m6 0h3m1 0h6m1 0h3m1 0h1m1 0h2m2 0h4m1 0h6m2 0h4m1 0h11m1 0h1m1 0h1m1 0h4m2 0h9m1 0h1m1 0h6m1 0h1m1 0h1m1 0h2m4 0h2m1 0h1m1 0h9m3 0h5m1 0h17m1 0h2m1 0h1m3 0h6m1 0h1m1 0h2m4 0h1m1 0h1m2 0h8M0 189.5h2m1 0h1m1 0h3m10 0h1m2 0h1m6 0h1m8 0h3m6 0h1m1 0h1m7 0h3m12 0h1m11 0h2m8 0h4m2 0h1m5 0h1m6 0h1m6 0h2m12 0h1m1 0h2m12 0h1m7 0h1m6 0h2m3 0h2m13 0h3m4 0h1m27 0h1m1 0h1m1 0h2m2 0h3m1 0h1m4 0h3m3 0h2m1 0h1m4 0h1m15 0h1m2 0h2m4 0h1m16 0h2M0 190.5h3m1 0h10m1 0h1m2 0h1m1 0h2m1 0h2m2 0h2m1 0h1m2 0h3m1 0h12m2 0h2m2 0h9m1 0h1m1 0h5m1 0h6m1 0h1m2 0h9m1 0h8m1 0h2m1 0h3m2 0h3m1 0h1m1 0h8m8 0h9m2 0h3m3 0h2m1 0h2m2 0h2m1 0h2m1 0h5m2 0h2m1 0h4m5 0h1m1 0h4m2 0h3m1 0h1m2 0h6m2 0h3m1 0h3m1 0h1m2 0h1m2 0h6m2 0h4m1 0h9m1 0h14m1 0h1m2 0h5m1 0h13m2 0h1m2 0h1m1 0h4m2 0h3M0 191.5h2m4 0h3m8 0h1m2 0h2m5 0h1m9 0h3m8 0h1m7 0h3m15 0h2m18 0h3m2 0h1m12 0h1m6 0h3m11 0h2m1 0h1m6 0h3m3 0h1m5 0h1m1 0h1m1 0h1m4 0h4m1 0h2m15 0h1m4 0h1m14 0h1m12 0h3m6 0h2m8 0h1m3 0h2m1 0h2m26 0h5M0 192.5h5m1 0h5m1 0h2m1 0h1m2 0h1m2 0h7m1 0h2m3 0h7m1 0h2m3 0h3m1 0h4m1 0h9m3 0h3m2 0h4m10 0h1m1 0h12m1 0h4m1 0h2m2 0h4m1 0h7m2 0h2m1 0h7m1 0h5m2 0h3m2 0h3m1 0h8m3 0h17m3 0h11m1 0h2m1 0h2m1 0h10m4 0h1m1 0h6m1 0h9m2 0h12m1 0h1m1 0h2m1 0h5m2 0h5m2 0h1m2 0h15m1 0h6m1 0h1M0 193.5h3m3 0h4m11 0h1m5 0h1m9 0h3m7 0h1m8 0h3m1 0h1m14 0h1m16 0h1m1 0h1m1 0h1m2 0h1m19 0h3m11 0h1m2 0h1m8 0h1m9 0h5m4 0h2m2 0h3m4 0h3m6 0h2m2 0h1m2 0h1m14 0h1m3 0h1m8 0h3m1 0h1m1 0h1m1 0h3m8 0h1m6 0h2m9 0h1m16 0h5m4 0h1M0 194.5h3m1 0h12m5 0h1m4 0h2m3 0h14m1 0h3m2 0h4m1 0h10m7 0h4m1 0h4m5 0h8m1 0h1m1 0h2m2 0h9m5 0h7m6 0h8m2 0h2m2 0h3m7 0h7m4 0h2m1 0h5m1 0h7m1 0h1m1 0h4m1 0h9m1 0h4m1 0h4m1 0h1m1 0h2m1 0h1m1 0h2m1 0h4m1 0h8m1 0h1m4 0h3m4 0h3m2 0h2m1 0h13m1 0h2m1 0h3m1 0h8m1 0h3m3 0h3m2 0h1M0 195.5h2m3 0h1m1 0h4m6 0h1m9 0h1m5 0h1m3 0h2m2 0h1m5 0h1m8 0h3m1 0h2m37 0h1m7 0h1m12 0h2m11 0h1m1 0h1m9 0h1m9 0h5m4 0h2m2 0h3m4 0h3m13 0h1m3 0h1m10 0h1m13 0h2m3 0h1m1 0h3m2 0h1m5 0h1m20 0h1m9 0h2m4 0h2M0 196.5h3m2 0h8m1 0h5m2 0h2m1 0h5m1 0h9m1 0h5m1 0h4m1 0h4m1 0h7m2 0h6m4 0h1m3 0h1m1 0h1m2 0h2m2 0h1m1 0h3m2 0h1m1 0h1m1 0h1m2 0h7m1 0h4m1 0h1m1 0h6m5 0h1m1 0h12m1 0h3m2 0h2m4 0h6m4 0h8m1 0h1m2 0h4m1 0h1m4 0h13m2 0h1m2 0h4m1 0h1m2 0h3m4 0h3m3 0h5m2 0h1m5 0h2m1 0h2m1 0h5m1 0h1m1 0h2m2 0h6m1 0h1m3 0h6m1 0h4m1 0h3m6 0h6M8 197.5h3m22 0h1m2 0h3m1 0h2m5 0h1m8 0h3m1 0h1m3 0h1m10 0h1m23 0h1m5 0h1m5 0h2m7 0h2m11 0h4m7 0h2m3 0h1m5 0h5m4 0h6m21 0h1m14 0h1m2 0h1m10 0h3m1 0h2m2 0h2m8 0h1m21 0h1m6 0h1m1 0h2m4 0h1M0 198.5h2m1 0h1m1 0h2m1 0h5m1 0h6m1 0h2m4 0h3m1 0h4m1 0h7m1 0h1m2 0h3m1 0h12m4 0h5m3 0h3m1 0h5m1 0h1m2 0h1m1 0h3m3 0h1m2 0h8m1 0h1m1 0h4m2 0h1m2 0h3m1 0h2m3 0h1m2 0h7m1 0h3m1 0h3m2 0h2m4 0h6m2 0h9m2 0h1m3 0h1m1 0h2m3 0h5m1 0h6m1 0h2m2 0h10m2 0h3m4 0h3m1 0h6m6 0h4m1 0h3m1 0h2m1 0h1m1 0h1m1 0h1m3 0h5m1 0h2m1 0h3m1 0h3m2 0h2m2 0h2m3 0h3m4 0h2m1 0h1M6 199.5h1m1 0h2m18 0h1m4 0h1m2 0h6m5 0h1m8 0h3m1 0h1m38 0h1m5 0h1m4 0h3m7 0h2m11 0h4m6 0h3m3 0h1m5 0h4m3 0h1m1 0h7m35 0h1m2 0h2m9 0h3m1 0h2m2 0h2m8 0h1m11 0h1m9 0h1m6 0h1m1 0h2m2 0h1m1 0h1M14 200.5h2m105 0h2m115 0h3m22 0h2M14 201.5h2m21 0h3m2 0h3m33 0h3m16 0h3m5 0h2m14 0h2m30 0h3m23 0h2m10 0h2m27 0h3m15 0h3m22 0h3M0 202.5h1m6 0h2m5 0h2m19 0h5m2 0h5m20 0h2m2 0h3m4 0h3m16 0h3m4 0h5m8 0h3m1 0h2m5 0h1m9 0h3m12 0h3m23 0h2m9 0h3m1 0h2m9 0h3m6 0h9m7 0h2m2 0h2m2 0h3m22 0h3m3 0h2m14 0h3M0 203.5h3m4 0h5m2 0h3m3 0h2m4 0h4m5 0h5m2 0h6m4 0h3m4 0h2m6 0h7m4 0h3m6 0h4m2 0h2m2 0h3m4 0h5m5 0h6m1 0h2m5 0h7m3 0h7m6 0h8m1 0h5m1 0h3m10 0h5m4 0h8m9 0h5m4 0h9m1 0h3m2 0h8m1 0h3m1 0h3m2 0h2m7 0h3m4 0h3m3 0h4m1 0h4m2 0h3m2 0h7M0 204.5h5m2 0h5m1 0h4m3 0h12m2 0h14m1 0h9m1 0h2m1 0h2m3 0h28m2 0h5m2 0h6m1 0h9m1 0h5m2 0h7m2 0h11m3 0h8m1 0h15m4 0h17m1 0h5m3 0h5m4 0h9m1 0h17m1 0h9m1 0h14m3 0h15m1 0h9M0 205.5h127m1 0h166M1 206.5h2m42 0h3m54 0h2m6 0h3m41 0h2m5 0h2m70 0h2M1 207.5h2m11 0h2m4 0h2m6 0h3m3 0h6m3 0h7m3 0h2m9 0h9m4 0h3m1 0h3m7 0h5m6 0h4m4 0h5m1 0h11m1 0h11m10 0h10m2 0h5m2 0h3m7 0h2m7 0h5m3 0h3m2 0h4m1 0h2m1 0h2m4 0h3m2 0h4m7 0h2m1 0h4m8 0h6m1 0h3m5 0h5m6 0h2m1 0h5m6 0h4m1 0h2M0 208.5h4m1 0h3m1 0h2m3 0h2m2 0h6m1 0h2m1 0h22m1 0h4m3 0h15m4 0h10m4 0h10m1 0h25m1 0h13m6 0h25m2 0h12m1 0h20m1 0h3m2 0h4m1 0h5m2 0h7m1 0h5m1 0h2m4 0h10m4 0h11m1 0h11m3 0h4m1 0h4M0 209.5h8m1 0h4m1 0h36m1 0h22m1 0h15m1 0h37m1 0h13m2 0h64m1 0h16m1 0h7m1 0h10m1 0h38m3 0h4m1 0h4M0 210.5h127m1 0h79m1 0h86M0 211.5h127m1 0h166M0 212.5h127m1 0h166M0 213.5h127m1 0h166M0 214.5h127m1 0h166M0 215.5h127m1 0h166M54 216.5h2m4 0h3m1 0h4m62 0h2m12 0h2m13 0h3m52 0h3m74 0h3M0 217.5h9m3 0h3m4 0h9m5 0h9m3 0h7m2 0h5m1 0h3m1 0h4m2 0h3m5 0h3m2 0h5m8 0h11m3 0h4m1 0h8m6 0h4m2 0h11m1 0h2m9 0h4m3 0h2m6 0h15m2 0h2m2 0h2m9 0h2m4 0h13m2 0h6m1 0h2m2 0h4m7 0h3m18 0h5m17 0h3M0 218.5h9m2 0h7m1 0h9m2 0h2m1 0h9m1 0h16m1 0h13m1 0h14m2 0h4m2 0h11m3 0h15m4 0h4m2 0h16m4 0h7m1 0h4m1 0h20m2 0h2m2 0h2m4 0h2m1 0h4m3 0h14m1 0h7m1 0h2m2 0h7m4 0h3m2 0h6m7 0h2m1 0h5m7 0h7m2 0h4M0 219.5h28m2 0h43m1 0h21m1 0h30m2 0h24m2 0h8m1 0h4m1 0h24m2 0h3m1 0h10m2 0h35m2 0h14m1 0h2m1 0h15m1 0h13M0 220.5h126m2 0h65m1 0h67m1 0h32M0 221.5h127m1 0h166M0 222.5h127m1 0h166M0 223.5h127m1 0h166M0 224.5h127m1 0h166M0 225.5h127m1 0h166M48 226.5h3m3 0h3m23 0h6m9 0h2m8 0h2m9 0h2m83 0h3m3 0h2m9 0h2m43 0h3m1 0h2m1 0h2m14 0h2M2 227.5h2m1 0h4m3 0h4m4 0h7m8 0h6m5 0h5m3 0h3m11 0h2m5 0h11m5 0h9m3 0h4m4 0h4m1 0h2m15 0h6m3 0h2m11 0h4m1 0h3m1 0h3m8 0h3m2 0h3m1 0h3m3 0h2m4 0h4m1 0h11m2 0h3m1 0h5m3 0h3m5 0h3m3 0h2m5 0h4m6 0h15m2 0h3m9 0h2m4 0h2M0 228.5h4m1 0h11m1 0h11m2 0h2m2 0h17m2 0h4m2 0h2m1 0h8m4 0h26m3 0h7m1 0h4m1 0h7m9 0h31m1 0h3m4 0h7m2 0h15m1 0h16m2 0h3m1 0h5m1 0h7m1 0h11m2 0h6m2 0h29m2 0h10M0 229.5h70m4 0h53m1 0h35m1 0h4m1 0h44m1 0h9m1 0h7m1 0h11m1 0h50M0 230.5h127m1 0h35m1 0h67m1 0h62M0 231.5h127m1 0h166M0 232.5h127m1 0h166M0 233.5h127m1 0h166M0 234.5h127m1 0h166M0 235.5h127m1 0h166M16 236.5h2m19 0h3m16 0h5m111 0h3m43 0h2m16 0h2m6 0h2m2 0h3m7 0h3m3 0h2m9 0h3M2 237.5h2m4 0h4m1 0h2m1 0h2m5 0h3m4 0h2m1 0h3m1 0h5m3 0h6m2 0h8m12 0h3m3 0h5m2 0h2m3 0h4m1 0h3m2 0h6m2 0h8m2 0h6m3 0h2m20 0h2m2 0h2m4 0h2m7 0h9m6 0h2m1 0h2m3 0h4m2 0h3m7 0h9m1 0h2m3 0h2m1 0h2m6 0h4m6 0h2m2 0h3m7 0h3m3 0h2m1 0h2m2 0h7m13 0h3M0 238.5h4m1 0h7m1 0h7m1 0h7m2 0h38m5 0h26m1 0h27m1 0h2m1 0h5m4 0h6m1 0h9m2 0h4m2 0h2m3 0h10m1 0h16m2 0h6m1 0h12m1 0h10m1 0h9m1 0h7m1 0h4m3 0h12m1 0h3m1 0h9m1 0h9m1 0h3M0 239.5h4m1 0h66m1 0h55m1 0h2m1 0h6m3 0h16m2 0h21m1 0h24m1 0h23m1 0h9m1 0h12m3 0h36m1 0h3M0 240.5h127m1 0h11m1 0h154M0 241.5h127m1 0h166M0 242.5h127m1 0h166M0 243.5h127m1 0h166M0 244.5h127m1 0h166M0 245.5h127m1 0h166M0 246.5h127m1 0h166M0 247.5h2m19 0h3m12 0h3m67 0h3m36 0h2m37 0h2m68 0h2M0 248.5h2m10 0h2m4 0h7m1 0h2m2 0h3m2 0h4m3 0h3m2 0h8m1 0h2m2 0h3m1 0h4m4 0h7m11 0h2m1 0h3m1 0h3m1 0h9m1 0h3m2 0h4m1 0h2m2 0h2m1 0h2m2 0h7m3 0h2m1 0h4m1 0h3m1 0h6m1 0h2m10 0h2m6 0h5m2 0h8m5 0h8m5 0h3m4 0h5m5 0h5m6 0h2m5 0h2m2 0h6m1 0h2m6 0h2M0 249.5h2m5 0h2m3 0h2m1 0h10m1 0h7m1 0h21m1 0h2m2 0h19m4 0h4m3 0h2m1 0h7m1 0h9m1 0h4m1 0h11m1 0h13m1 0h2m1 0h4m1 0h10m1 0h4m1 0h4m2 0h5m1 0h31m2 0h17m3 0h6m1 0h6m1 0h6m2 0h6m1 0h3m5 0h6m5 0h6m6 0h3M0 250.5h3m1 0h29m1 0h47m2 0h4m1 0h39m1 0h49m1 0h66m1 0h14m1 0h3m1 0h11m4 0h6m5 0h4M0 251.5h81m2 0h44m1 0h166M0 252.5h127m1 0h166M0 253.5h127m1 0h166M0 254.5h127m1 0h166M0 255.5h127m1 0h166M0 256.5h127m1 0h166M35 257.5h2m101 0h3m8 0h2m58 0h2m3 0h3m7 0h3m52 0h3m8 0h2M0 258.5h2m1 0h2m8 0h2m2 0h2m4 0h2m3 0h9m5 0h6m11 0h3m3 0h3m1 0h2m8 0h5m3 0h2m1 0h2m6 0h3m1 0h2m2 0h3m2 0h2m9 0h3m6 0h2m3 0h5m6 0h7m5 0h3m3 0h5m3 0h3m1 0h2m2 0h5m14 0h6m3 0h2m2 0h5m1 0h2m3 0h4m12 0h4m10 0h2m4 0h2m3 0h2m3 0h4m5 0h3m8 0h4M0 259.5h8m1 0h7m1 0h2m3 0h5m1 0h9m1 0h14m4 0h6m3 0h19m3 0h7m4 0h15m7 0h5m1 0h1m1 0h1m2 0h10m1 0h2m1 0h17m3 0h5m2 0h4m1 0h2m2 0h12m3 0h3m1 0h6m3 0h9m1 0h2m3 0h5m1 0h3m3 0h2m2 0h11m2 0h9m1 0h13m2 0h4m1 0h2m2 0h2m1 0h4M0 260.5h16m1 0h2m2 0h6m1 0h24m4 0h6m2 0h20m2 0h9m1 0h31m1 0h42m2 0h4m1 0h17m1 0h38m1 0h52m1 0h7M0 261.5h27m1 0h24m2 0h30m2 0h9m1 0h31m1 0h166M0 262.5h127m1 0h166M0 263.5h127m1 0h166M0 264.5h127m1 0h166M0 265.5h127m1 0h166M0 266.5h127m1 0h166M15 267.5h3m3 0h2m8 0h5m8 0h3m5 0h2m10 0h2m19 0h3m36 0h2m19 0h3m15 0h2m4 0h2m1 0h2m15 0h2m14 0h3m20 0h2m22 0h2m12 0h2m9 0h2m2 0h3m3 0h2M15 268.5h3m3 0h6m3 0h8m6 0h7m1 0h2m1 0h2m2 0h2m1 0h4m17 0h5m4 0h2m4 0h4m4 0h3m2 0h2m1 0h3m1 0h9m1 0h8m1 0h2m6 0h3m6 0h7m2 0h2m4 0h5m1 0h4m5 0h7m1 0h3m10 0h3m1 0h2m6 0h3m6 0h4m7 0h4m1 0h3m1 0h3m3 0h2m7 0h3m1 0h6m6 0h2m2 0h4m2 0h5M0 269.5h3m2 0h3m1 0h4m1 0h6m1 0h6m3 0h12m1 0h18m1 0h4m11 0h11m1 0h13m4 0h3m1 0h3m1 0h3m1 0h9m1 0h8m1 0h2m6 0h3m3 0h10m2 0h4m2 0h10m1 0h11m1 0h11m1 0h4m1 0h4m2 0h6m2 0h7m1 0h3m3 0h19m5 0h3m1 0h14m1 0h5m1 0h6M0 270.5h27m2 0h44m1 0h2m1 0h36m1 0h13m1 0h13m1 0h71m1 0h21m2 0h22m2 0h3m1 0h20m1 0h6M0 271.5h28m1 0h84m1 0h13m1 0h13m1 0h71m1 0h50m1 0h29M0 272.5h127m1 0h166M0 273.5h127m1 0h166M0 274.5h127m1 0h166M0 275.5h127m1 0h166M0 276.5h127m1 0h166M4 277.5h2m21 0h3m29 0h2m1 0h2m4 0h2m94 0h2m21 0h3m69 0h2m10 0h3M4 278.5h3m4 0h2m1 0h6m1 0h3m1 0h8m4 0h5m6 0h2m5 0h2m2 0h6m3 0h2m8 0h11m2 0h4m6 0h3m5 0h3m3 0h5m1 0h2m22 0h9m4 0h4m2 0h2m3 0h8m5 0h3m1 0h6m3 0h6m7 0h2m11 0h3m1 0h3m4 0h2m14 0h3m2 0h3m3 0h2m2 0h3m2 0h7m1 0h8m3 0h3M0 279.5h3m1 0h16m1 0h3m1 0h17m5 0h5m2 0h11m2 0h3m1 0h3m3 0h28m4 0h11m1 0h2m10 0h3m8 0h10m2 0h36m3 0h8m1 0h8m9 0h7m1 0h8m4 0h3m4 0h13m2 0h31M0 280.5h3m1 0h20m1 0h40m2 0h3m1 0h3m1 0h30m3 0h12m1 0h4m3 0h2m2 0h7m2 0h2m1 0h10m2 0h47m1 0h33m1 0h7m1 0h48M0 281.5h65m2 0h53m1 0h4m3 0h2m2 0h113m1 0h48M0 282.5h127m1 0h166M0 283.5h127m1 0h166M0 284.5h127m1 0h166M0 285.5h127m1 0h166M0 286.5h127m1 0h166M6 287.5h2m16 0h2m9 0h2m12 0h3m11 0h2m16 0h3m60 0h2m2 0h3m18 0h3m33 0h3m21 0h2m24 0h3m12 0h2m10 0h3m7 0h2M2 288.5h2m1 0h3m1 0h3m2 0h2m8 0h2m5 0h6m1 0h2m5 0h3m1 0h3m5 0h11m6 0h5m1 0h4m7 0h6m3 0h2m2 0h3m4 0h3m1 0h6m1 0h3m11 0h5m3 0h2m2 0h5m5 0h3m5 0h6m2 0h3m2 0h2m1 0h3m9 0h6m3 0h5m1 0h3m11 0h2m4 0h2m5 0h3m1 0h2m3 0h3m4 0h2m1 0h6m6 0h5m10 0h3m6 0h3M0 289.5h8m1 0h4m1 0h2m1 0h3m4 0h4m3 0h10m2 0h11m2 0h12m2 0h9m1 0h6m2 0h9m3 0h2m2 0h3m2 0h16m1 0h1m1 0h1m2 0h10m1 0h11m2 0h2m1 0h14m1 0h13m6 0h8m3 0h9m3 0h3m1 0h6m1 0h2m1 0h4m1 0h17m1 0h2m1 0h11m1 0h7m3 0h2m3 0h6m3 0h3M0 290.5h13m1 0h27m2 0h11m1 0h13m2 0h16m1 0h11m2 0h2m1 0h4m2 0h18m1 0h58m2 0h14m1 0h9m2 0h14m1 0h59m3 0h3M0 291.5h41m2 0h11m1 0h31m1 0h20m2 0h18m1 0h58m1 0h102m2 0h3M0 292.5h127m1 0h166M0 293.5h127m1 0h166M0 294.5h127m1 0h166M0 295.5h127m1 0h166M0 296.5h127m1 0h166M14 297.5h2m22 0h3m17 0h2m40 0h2m45 0h9m58 0h2m1 0h3m6 0h3m8 0h2m2 0h2m10 0h3m13 0h4M0 298.5h2m12 0h2m13 0h3m2 0h2m2 0h4m2 0h3m2 0h3m6 0h4m2 0h4m1 0h7m1 0h11m2 0h4m6 0h2m10 0h4m4 0h5m5 0h3m10 0h13m2 0h5m1 0h3m3 0h2m2 0h6m2 0h2m1 0h3m3 0h3m3 0h9m8 0h10m1 0h4m1 0h4m3 0h2m2 0h2m5 0h2m3 0h4m3 0h6m3 0h4m3 0h8m5 0h5M0 299.5h2m3 0h3m6 0h2m2 0h6m1 0h11m2 0h4m2 0h8m2 0h9m1 0h4m1 0h19m2 0h4m1 0h2m2 0h5m1 0h2m2 0h7m1 0h10m3 0h3m10 0h13m2 0h11m1 0h19m2 0h15m4 0h26m1 0h2m2 0h2m1 0h15m1 0h6m3 0h16m4 0h5M0 300.5h11m2 0h3m1 0h25m1 0h20m1 0h4m1 0h28m1 0h29m1 0h1m1 0h10m2 0h47m1 0h19m1 0h26m1 0h22m1 0h6m2 0h17m2 0h7M0 301.5h97m1 0h29m1 0h108m1 0h30m1 0h17m2 0h7M0 302.5h127m1 0h166M0 303.5h127m1 0h166M0 304.5h127m1 0h166M0 305.5h127m1 0h166M0 306.5h127m1 0h166M41 307.5h3m1 0h3m22 0h3m47 0h3m7 0h2m71 0h3m6 0h3m22 0h3m24 0h2m15 0h2M5 308.5h2m4 0h2m5 0h6m4 0h3m1 0h4m5 0h3m1 0h6m4 0h2m1 0h2m2 0h3m5 0h4m2 0h3m1 0h15m1 0h3m4 0h2m11 0h3m1 0h3m1 0h2m4 0h2m11 0h3m6 0h2m3 0h7m8 0h3m2 0h2m9 0h6m3 0h2m1 0h6m4 0h5m7 0h4m11 0h5m1 0h4m8 0h4m4 0h6m3 0h7m2 0h2m2 0h2m2 0h3M0 309.5h2m2 0h21m3 0h3m1 0h12m1 0h16m1 0h12m2 0h3m1 0h15m1 0h4m3 0h2m3 0h2m1 0h2m2 0h12m3 0h5m8 0h6m3 0h2m3 0h19m1 0h2m2 0h3m4 0h27m1 0h3m1 0h7m1 0h4m3 0h16m4 0h5m3 0h20m2 0h9M0 310.5h74m2 0h3m1 0h15m1 0h6m1 0h2m2 0h3m1 0h2m1 0h13m1 0h7m2 0h2m4 0h11m1 0h25m1 0h38m1 0h31m1 0h10m1 0h31M0 311.5h75m1 0h51m1 0h7m1 0h6m1 0h151M0 312.5h127m1 0h166M0 313.5h127m1 0h166M0 314.5h127m1 0h166M0 315.5h127m1 0h166M0 316.5h127m1 0h166M7 317.5h2m30 0h3m5 0h3m9 0h2m23 0h2m2 0h3m30 0h2m28 0h3m18 0h2m3 0h2m22 0h3m85 0h2M0 318.5h13m2 0h6m1 0h2m4 0h3m8 0h3m1 0h2m2 0h6m5 0h3m1 0h3m19 0h2m2 0h6m2 0h2m2 0h2m3 0h2m7 0h6m1 0h6m5 0h3m5 0h6m1 0h7m9 0h2m4 0h5m3 0h3m4 0h8m3 0h3m1 0h5m3 0h2m5 0h2m3 0h3m3 0h3m8 0h2m2 0h3m10 0h4m4 0h3m4 0h2m2 0h2m1 0h5m3 0h2m1 0h8M0 319.5h21m1 0h3m1 0h5m1 0h2m5 0h15m4 0h7m4 0h3m1 0h4m2 0h7m2 0h6m1 0h7m1 0h4m3 0h10m1 0h6m1 0h2m1 0h4m2 0h17m1 0h2m2 0h6m3 0h25m1 0h4m1 0h5m3 0h11m1 0h12m4 0h3m2 0h5m2 0h4m1 0h14m2 0h6m1 0h5m1 0h4m1 0h8M0 320.5h21m1 0h15m2 0h16m1 0h16m1 0h4m1 0h8m2 0h39m1 0h37m1 0h27m1 0h12m1 0h11m1 0h27m1 0h19m2 0h26M0 321.5h55m1 0h21m1 0h49m1 0h166M0 322.5h127m1 0h166M0 323.5h127m1 0h166M0 324.5h127m1 0h166M0 325.5h127m1 0h166M0 326.5h127m1 0h166M14 327.5h2m7 0h2m35 0h3m32 0h2m47 0h2m38 0h2m13 0h3m8 0h2m24 0h2m15 0h3m34 0h2M1 328.5h3m2 0h5m3 0h2m5 0h5m4 0h5m4 0h3m1 0h3m4 0h3m1 0h2m3 0h14m2 0h7m1 0h7m2 0h2m1 0h2m2 0h5m17 0h5m5 0h2m6 0h2m2 0h3m2 0h3m4 0h2m1 0h2m7 0h9m6 0h4m7 0h3m2 0h4m8 0h2m3 0h3m2 0h3m7 0h4m2 0h11m2 0h2m2 0h3m1 0h2m1 0h2m6 0h2m3 0h2m1 0h9m1 0h2m2 0h4M0 329.5h13m1 0h2m5 0h21m1 0h5m2 0h8m1 0h32m1 0h20m2 0h13m1 0h1m2 0h3m1 0h6m2 0h3m1 0h6m1 0h3m1 0h4m4 0h10m1 0h3m2 0h22m1 0h2m3 0h4m1 0h8m3 0h8m2 0h15m1 0h10m3 0h2m1 0h2m1 0h17m1 0h5M0 330.5h48m1 0h78m1 0h6m1 0h30m1 0h15m1 0h41m1 0h11m1 0h26m1 0h7m1 0h17m1 0h5M0 331.5h127m1 0h6m1 0h127m1 0h25m1 0h5M0 332.5h127m1 0h166M0 333.5h127m1 0h166M0 334.5h127m1 0h166M0 335.5h127m1 0h166M0 336.5h127m1 0h166M7 337.5h2m5 0h2m22 0h3m12 0h2m17 0h3m2 0h2m2 0h3m18 0h5m11 0h4m21 0h2m1 0h3m4 0h3m8 0h3m1 0h3m64 0h3m2 0h2m17 0h2m20 0h2m2 0h2M0 338.5h2m4 0h3m5 0h5m2 0h3m3 0h3m6 0h5m5 0h3m4 0h2m5 0h3m2 0h3m3 0h4m2 0h2m2 0h8m3 0h2m5 0h8m4 0h4m2 0h9m2 0h2m10 0h17m1 0h2m1 0h6m1 0h4m2 0h3m2 0h7m3 0h2m1 0h2m9 0h4m1 0h4m4 0h3m8 0h11m2 0h2m10 0h2m4 0h3m2 0h4m2 0h3m2 0h5m2 0h2m2 0h4m1 0h2M0 339.5h2m4 0h5m1 0h13m2 0h3m1 0h10m5 0h6m1 0h4m2 0h9m1 0h26m1 0h11m1 0h2m1 0h4m2 0h9m2 0h2m1 0h2m4 0h49m1 0h4m1 0h5m1 0h14m3 0h8m4 0h11m2 0h2m1 0h2m5 0h29m1 0h3m2 0h4m1 0h2M0 340.5h30m1 0h76m1 0h2m1 0h4m2 0h10m1 0h8m1 0h60m1 0h14m2 0h9m1 0h18m1 0h2m1 0h33m1 0h9m1 0h4M0 341.5h115m2 0h10m1 0h8m1 0h75m2 0h31m1 0h48M0 342.5h127m1 0h166M0 343.5h127m1 0h166M0 344.5h127m1 0h166M0 345.5h127m1 0h166M0 346.5h127m1 0h166M0 347.5h127m1 0h166M35 348.5h3m1 0h3m26 0h2m23 0h2m11 0h2m1 0h3m3 0h3m51 0h5m9 0h3m4 0h3m14 0h2m23 0h2m40 0h5m11 0h2M4 349.5h2m1 0h2m1 0h3m2 0h3m5 0h2m10 0h7m2 0h3m1 0h5m3 0h3m9 0h2m1 0h2m8 0h5m7 0h5m6 0h8m3 0h5m1 0h5m6 0h4m4 0h2m3 0h3m2 0h3m2 0h8m6 0h8m2 0h2m2 0h10m4 0h6m1 0h2m1 0h5m2 0h3m3 0h8m1 0h5m4 0h3m1 0h6m15 0h8m2 0h6m2 0h2m2 0h7M0 350.5h18m4 0h5m7 0h13m1 0h15m1 0h2m2 0h5m8 0h7m2 0h8m1 0h3m2 0h9m2 0h12m1 0h1m1 0h6m1 0h7m1 0h8m1 0h24m1 0h17m1 0h6m1 0h2m1 0h6m1 0h20m3 0h4m1 0h6m3 0h4m2 0h2m1 0h11m2 0h6m2 0h3m1 0h9M0 351.5h21m1 0h5m1 0h3m3 0h39m1 0h5m1 0h8m1 0h38m1 0h8m1 0h7m1 0h8m1 0h42m1 0h6m1 0h2m1 0h29m1 0h57M0 352.5h21m1 0h10m2 0h93m1 0h166M0 353.5h127m1 0h166M0 354.5h127m1 0h166M0 355.5h127m1 0h166M0 356.5h127m1 0h166M0 357.5h127m1 0h166M17 358.5h2m1 0h2m13 0h2m2 0h4m11 0h3m12 0h2m64 0h3m15 0h3m1 0h3m91 0h3m15 0h3M5 359.5h2m3 0h6m1 0h2m1 0h2m4 0h2m1 0h8m1 0h8m8 0h4m4 0h4m3 0h14m1 0h2m3 0h3m1 0h3m3 0h3m4 0h3m4 0h5m3 0h5m6 0h11m2 0h2m6 0h3m1 0h3m3 0h3m2 0h3m2 0h7m6 0h2m1 0h2m1 0h12m1 0h12m2 0h6m4 0h3m5 0h2m11 0h4m1 0h3m4 0h2m5 0h7m1 0h4m5 0h2M3 360.5h4m3 0h9m1 0h2m4 0h11m1 0h8m3 0h10m3 0h24m1 0h15m1 0h15m2 0h7m1 0h3m1 0h16m2 0h6m1 0h10m1 0h3m2 0h7m6 0h42m1 0h3m2 0h10m1 0h9m1 0h3m4 0h2m5 0h12m1 0h3m1 0h5m1 0h2M1 361.5h7m1 0h93m1 0h24m1 0h39m1 0h60m1 0h15m1 0h49M0 362.5h8m1 0h118m1 0h166M0 363.5h127m1 0h166M0 364.5h127m1 0h166M0 365.5h127m1 0h166M0 366.5h127m1 0h166M0 367.5h127m1 0h166M7 368.5h2m15 0h2m14 0h2m3 0h3m16 0h3m4 0h2m7 0h3m21 0h3m11 0h2m40 0h2m10 0h2m24 0h3m4 0h2m2 0h3m2 0h2m47 0h2M0 369.5h4m1 0h4m4 0h3m1 0h6m1 0h2m2 0h3m5 0h3m1 0h4m1 0h7m1 0h2m1 0h2m3 0h9m1 0h2m3 0h3m1 0h6m6 0h15m6 0h10m1 0h3m3 0h3m7 0h4m2 0h10m2 0h4m1 0h2m7 0h2m15 0h2m1 0h9m1 0h2m1 0h2m2 0h3m2 0h2m6 0h2m2 0h10m17 0h15m4 0h2m2 0h7m3 0h4M0 370.5h4m1 0h4m2 0h5m1 0h6m1 0h7m1 0h23m1 0h2m3 0h12m3 0h13m3 0h15m2 0h2m2 0h10m1 0h3m3 0h3m4 0h7m2 0h19m2 0h3m1 0h8m10 0h12m1 0h38m4 0h4m5 0h16m3 0h2m2 0h7m3 0h6M0 371.5h23m1 0h99m1 0h3m1 0h5m1 0h67m1 0h41m1 0h5m1 0h19m1 0h24M0 372.5h123m1 0h3m1 0h121m1 0h44M0 373.5h127m1 0h166M0 374.5h127m1 0h166M0 375.5h127m1 0h166M0 376.5h127m1 0h166M0 377.5h127m1 0h166M2 378.5h2m3 0h2m17 0h2m1 0h3m2 0h2m2 0h2m12 0h2m6 0h3m38 0h2m14 0h4m19 0h3m37 0h3m29 0h5m2 0h2m13 0h3m6 0h2m17 0h2m12 0h2m12 0h2M0 379.5h4m1 0h9m1 0h3m8 0h2m1 0h3m2 0h3m1 0h4m10 0h6m2 0h3m1 0h6m1 0h3m1 0h4m4 0h2m1 0h2m5 0h2m3 0h2m1 0h4m4 0h6m1 0h7m5 0h7m3 0h8m6 0h4m8 0h3m1 0h5m2 0h3m2 0h5m1 0h4m2 0h6m6 0h3m1 0h2m2 0h11m1 0h2m8 0h4m4 0h3m3 0h3m4 0h3m4 0h4m3 0h4m3 0h2m4 0h12M0 380.5h4m1 0h9m1 0h3m6 0h4m1 0h3m1 0h4m1 0h12m1 0h7m1 0h4m1 0h6m1 0h3m1 0h10m1 0h2m4 0h3m2 0h8m3 0h15m2 0h2m1 0h18m2 0h12m2 0h36m5 0h7m2 0h11m1 0h4m1 0h4m1 0h4m1 0h2m1 0h3m3 0h4m3 0h3m4 0h12m2 0h2m2 0h14M0 381.5h21m1 0h6m1 0h8m1 0h25m1 0h6m1 0h14m1 0h10m1 0h8m1 0h21m1 0h18m1 0h51m3 0h9m1 0h12m1 0h17m1 0h3m1 0h13m2 0h13m2 0h18M0 382.5h63m1 0h21m1 0h10m1 0h8m1 0h21m1 0h95m1 0h70M0 383.5h127m1 0h143m1 0h22M0 384.5h127m1 0h143m1 0h22M0 385.5h127m1 0h143m1 0h22M0 386.5h127m1 0h143m1 0h22M0 387.5h127m1 0h143m1 0h22M24 388.5h2m26 0h2m31 0h3m12 0h4m32 0h3m16 0h2m12 0h3m17 0h4m68 0h2m27 0h2M5 389.5h9m1 0h6m3 0h2m11 0h3m12 0h5m2 0h2m3 0h3m3 0h6m1 0h2m6 0h7m4 0h2m2 0h10m12 0h3m3 0h2m3 0h6m5 0h7m1 0h7m2 0h2m3 0h14m2 0h3m4 0h6m8 0h3m1 0h2m6 0h3m1 0h2m5 0h4m9 0h2m4 0h3m5 0h3m1 0h6m2 0h6m19 0h4M0 390.5h2m2 0h10m1 0h6m3 0h10m1 0h5m3 0h5m1 0h8m2 0h2m3 0h3m3 0h6m1 0h3m5 0h7m1 0h5m2 0h21m1 0h4m2 0h15m1 0h16m1 0h19m1 0h5m3 0h8m6 0h18m1 0h8m1 0h2m3 0h2m1 0h4m2 0h3m1 0h22m1 0h1m2 0h8m7 0h4M0 391.5h2m2 0h10m1 0h6m3 0h18m1 0h18m2 0h19m1 0h9m1 0h34m1 0h32m1 0h36m3 0h34m2 0h2m1 0h4m2 0h26m1 0h22M0 392.5h14m1 0h6m1 0h70m1 0h34m1 0h69m1 0h73m1 0h22M0 393.5h127m1 0h143m1 0h22M0 394.5h127m1 0h143m1 0h22M0 395.5h127m1 0h143m1 0h22M0 396.5h4m1 0h1m1 0h2m1 0h2m1 0h8m1 0h4m4 0h5m2 0h2m3 0h3m2 0h3m4 0h1m5 0h20m2 0h5m1 0h4m1 0h3m11 0h2m1 0h1m3 0h1m1 0h1m1 0h1m4 0h2m3 0h7m1 0h1m1 0h2m8 0h2m10 0h1m2 0h4m4 0h3m5 0h8m2 0h1m2 0h5m3 0h2m6 0h1m4 0h4m10 0h3m1 0h1m4 0h4m5 0h2m2 0h1m7 0h4m2 0h1m6 0h1m1 0h2m3 0h1m2 0h6m7 0h1M0 397.5h21m1 0h4m1 0h8m2 0h9m1 0h3m1 0h41m1 0h5m1 0h7m1 0h20m1 0h7m1 0h1m1 0h6m3 0h10m1 0h3m1 0h8m1 0h31m1 0h7m2 0h5m1 0h7m2 0h5m1 0h10m2 0h23m1 0h2m1 0h22M0 398.5h127m1 0h143m1 0h22M0 399.5h1m1 0h29m1 0h9m1 0h6m4 0h16m1 0h35m2 0h5m2 0h6m1 0h7m1 0h19m1 0h20m2 0h13m4 0h24m7 0h27m1 0h25m2 0h2m5 0h14M4 400.5h1m2 0h2m4 0h3m7 0h1m12 0h2m2 0h1m3 0h3m1 0h1m1 0h2m4 0h1m7 0h2m1 0h1m11 0h1m3 0h2m2 0h1m1 0h5m6 0h2m3 0h2m2 0h2m3 0h1m1 0h1m7 0h2m3 0h1m10 0h1m6 0h1m1 0h6m1 0h2m3 0h1m2 0h1m3 0h1m1 0h4m2 0h2m7 0h2m3 0h2m8 0h2m2 0h2m28 0h2m1 0h1m3 0h1m3 0h2m4 0h2m2 0h2m1 0h1m3 0h1m2 0h1m2 0h1m1 0h1m3 0h1m2 0h1m1 0h1m3 0h1m1 0h1M14 401.5h1m8 0h1m26 0h1m36 0h2m4 0h1m35 0h1m10 0h1m6 0h1m23 0h1m4 0h1m27 0h1m32 0h1m24 0h1M87 402.5h2M87 403.5h2M87 404.5h2M87 405.5h2" stroke="#f0f921"/><path d="M19 0.5h1m5 0h1m10 0h1m6 0h1m4 0h1m4 0h1m10 0h2m2 0h1m17 0h2m1 0h3m36 0h1m11 0h2m6 0h1m1 0h1m1 0h2m3 0h2m3 0h1m1 0h1m1 0h2m2 0h1m6 0h1m1 0h2m4 0h1m1 0h1m2 0h1m1 0h1m6 0h1m27 0h1m1 0h1m9 0h1m8 0h1m1 0h1m18 0h1m3 0h1m7 0h3m2 0h2m5 0h1M16 1.5h1m2 0h1m2 0h1m13 0h1m10 0h2m9 0h1m4 0h6m4 0h1m3 0h1m2 0h1m1 0h1m1 0h1m3 0h1m1 0h2m34 0h2m1 0h1m1 0h2m7 0h1m1 0h1m7 0h1m3 0h1m8 0h1m2 0h3m2 0h1m1 0h1m3 0h1m2 0h7m1 0h1m3 0h1m4 0h3m27 0h1m5 0h1m5 0h1m6 0h3m6 0h1m11 0h2m3 0h2m2 0h1m8 0h1m1 0h1m4 0h2M13 2.5h1m5 0h1m3 0h1m18 0h2m2 0h1m1 0h3m1 0h1m4 0h1m3 0h1m7 0h2m2 0h2m4 0h2m9 0h1m24 0h1m11 0h2m2 0h2m4 0h1m8 0h1m11 0h1m1 0h1m2 0h1m5 0h1m1 0h1m3 0h1m7 0h1m6 0h2m4 0h1m33 0h2m12 0h1m8 0h3m6 0h1m3 0h3m6 0h1M10 3.5h1m2 0h1m6 0h1m9 0h1m4 0h1m9 0h1m11 0h2m5 0h2m3 0h1m2 0h1m1 0h1m1 0h5m1 0h1m1 0h1m33 0h1m11 0h1m21 0h1m1 0h1m14 0h1m1 0h2m1 0h3m9 0h1m2 0h2m7 0h1m2 0h1m21 0h1m3 0h1m1 0h2m1 0h1m1 0h1m7 0h2m2 0h1m1 0h1m1 0h1m5 0h3m3 0h1m4 0h1m8 0h2m1 0h1m2 0h1m4 0h1M5 4.5h1m2 0h1m7 0h1m19 0h1m1 0h1m3 0h1m1 0h1m7 0h1m13 0h1m8 0h1m3 0h1m30 0h1m9 0h1m2 0h2m6 0h1m20 0h1m5 0h1m7 0h1m3 0h2m14 0h1m4 0h2m2 0h5m25 0h2m9 0h1m1 0h3m1 0h1m6 0h1m10 0h1m3 0h1m7 0h1m1 0h1m4 0h1m6 0h1m5 0h1M12 5.5h1m2 0h1m6 0h1m3 0h1m4 0h1m16 0h1m5 0h2m2 0h1m3 0h8m2 0h1m10 0h1m39 0h1m11 0h1m2 0h1m5 0h1m2 0h3m2 0h1m2 0h1m2 0h1m7 0h1m1 0h1m8 0h1m8 0h2m1 0h1m1 0h2m24 0h1m4 0h1m4 0h1m1 0h1m5 0h1m2 0h3m3 0h1m1 0h1m1 0h2m12 0h1m1 0h1m1 0h1m7 0h2m1 0h1m2 0h1M5 6.5h1m3 0h1m10 0h1m9 0h1m2 0h1m2 0h1m2 0h2m35 0h1m4 0h1m13 0h1m23 0h1m10 0h1m16 0h1m2 0h2m1 0h2m14 0h1m20 0h1m4 0h1m4 0h1m25 0h1m6 0h1m4 0h1m11 0h2m2 0h1m6 0h1m6 0h1m11 0h1m2 0h1M2 7.5h1m5 0h1m2 0h1m7 0h1m5 0h2m5 0h1m15 0h1m8 0h1m5 0h1m3 0h1m10 0h1m8 0h1m23 0h1m2 0h1m4 0h1m2 0h1m10 0h1m6 0h1m4 0h1m20 0h1m1 0h1m3 0h2m19 0h1m4 0h1m24 0h1m1 0h1m6 0h1m5 0h1m5 0h1m5 0h1m10 0h1m2 0h1m1 0h1m1 0h1m10 0h1m1 0h1m1 0h1M20 8.5h1m3 0h1m6 0h1m2 0h3m4 0h1m7 0h1m8 0h1m10 0h1m10 0h1m33 0h2m30 0h1m4 0h1m2 0h1m10 0h1m31 0h1m15 0h1m25 0h1m2 0h1m2 0h1m4 0h1m3 0h1m3 0h1m1 0h1m1 0h1m29 0h1M2 9.5h3m19 0h1m1 0h1m13 0h1m8 0h1m3 0h1m9 0h1m5 0h1m2 0h1m1 0h1m5 0h1m2 0h2m19 0h1m13 0h1m1 0h1m7 0h2m2 0h1m6 0h1m9 0h1m5 0h2m1 0h1m6 0h1m9 0h2m8 0h1m6 0h1m2 0h2m1 0h1m18 0h1m28 0h1m8 0h1m15 0h1m3 0h2m2 0h1m4 0h1m4 0h1M24 10.5h1m26 0h1m1 0h1m26 0h1m4 0h1m88 0h1m2 0h1m51 0h1m12 0h2m23 0h1m11 0h1m7 0h1M10 11.5h1m2 0h1m5 0h1m2 0h1m2 0h1m4 0h1m7 0h1m1 0h1m26 0h1m3 0h1m9 0h1m7 0h1m5 0h1m23 0h1m15 0h1m2 0h1m4 0h1m17 0h1m11 0h1m1 0h1m5 0h2m14 0h1m10 0h1m5 0h1m20 0h2m7 0h1m27 0h1m1 0h1m17 0h1M18 12.5h1m13 0h1m19 0h1m7 0h1m6 0h1m1 0h2m9 0h1m1 0h1m14 0h1m6 0h3m24 0h2m62 0h1m17 0h2m17 0h1m2 0h1m24 0h1M4 13.5h1m1 0h1m9 0h2m6 0h1m10 0h1m2 0h1m13 0h1m6 0h1m19 0h1m25 0h1m5 0h1m2 0h1m3 0h1m3 0h1m15 0h2m7 0h1m19 0h1m1 0h1m6 0h1m2 0h1m9 0h1m9 0h1m3 0h1m26 0h1m9 0h2m9 0h2m2 0h1m16 0h1m12 0h1M31 14.5h1m16 0h1m20 0h1m35 0h1m43 0h1m88 0h1m1 0h2m25 0h1m6 0h1m8 0h1m5 0h1M8 15.5h1m23 0h2m4 0h1m4 0h1m3 0h1m8 0h1m16 0h1m12 0h1m2 0h1m20 0h1m1 0h1m38 0h2m10 0h1m3 0h1m21 0h1m22 0h1m14 0h1m3 0h2m5 0h1m2 0h1m4 0h1m9 0h1m1 0h1m2 0h1m1 0h2m14 0h1m5 0h1m1 0h1m2 0h1M24 16.5h3m57 0h1m4 0h1m12 0h1m8 0h1m16 0h1m9 0h1m19 0h1m3 0h1m11 0h1m11 0h1m7 0h1m23 0h1m23 0h1m12 0h1m7 0h1m20 0h1m1 0h1M24 17.5h1m24 0h1m13 0h1m5 0h1m3 0h1m50 0h1m6 0h1m5 0h1m3 0h1m1 0h1m8 0h1m1 0h1m30 0h1m2 0h1m16 0h1m2 0h2m21 0h1m6 0h1m4 0h1m19 0h1m8 0h1m3 0h1M11 18.5h1m9 0h1m6 0h1m18 0h1m5 0h1m8 0h1m17 0h1m28 0h1m27 0h1m5 0h1m8 0h1m33 0h1m48 0h1m4 0h1m11 0h1m24 0h1m9 0h1m4 0h1M17 19.5h1m22 0h1m19 0h1m7 0h1m3 0h1m9 0h1m100 0h1m12 0h1m49 0h1m12 0h1m14 0h1M38 20.5h1m89 0h1m10 0h1m16 0h2m75 0h1m8 0h1m23 0h1M5 21.5h1m38 0h1m19 0h1m12 0h1m8 0h1m15 0h1m41 0h1m35 0h1m51 0h1m5 0h1m38 0h1M161 22.5h2m1 0h1m47 0h1m15 0h1m30 0h1m16 0h1M13 23.5h1m24 0h1m36 0h1m9 0h1m10 0h1m5 0h1m113 0h1m24 0h1m23 0h1m12 0h1m3 0h1m7 0h1" stroke="#f4ec26"/><path d="M0 0.5h1m9 0h5m2 0h2m1 0h1m1 0h3m5 0h1m13 0h3m2 0h1m1 0h1m3 0h1m3 0h2m1 0h1m3 0h1m2 0h1m2 0h1m2 0h1m1 0h4m14 0h1m5 0h1m1 0h1m6 0h1m4 0h1m2 0h1m1 0h1m2 0h1m9 0h1m1 0h5m2 0h1m1 0h4m53 0h1m12 0h2m1 0h2m1 0h5m1 0h1m5 0h2m1 0h1m2 0h1m1 0h3m10 0h3m2 0h1m1 0h4m6 0h2m4 0h2M0 1.5h1m5 0h7m1 0h2m5 0h1m4 0h1m1 0h2m2 0h1m1 0h1m9 0h1m10 0h1m6 0h1m33 0h1m3 0h1m2 0h1m4 0h1m1 0h1m2 0h1m1 0h1m4 0h2m1 0h1m11 0h5m1 0h1m2 0h1m2 0h1m52 0h2m11 0h2m3 0h6m1 0h2m7 0h2m2 0h1m2 0h1m16 0h1m1 0h1m1 0h1m1 0h1m5 0h1M4 2.5h1m1 0h2m1 0h4m8 0h1m4 0h3m3 0h1m1 0h1m61 0h1m3 0h1m1 0h3m3 0h3m2 0h1m2 0h1m1 0h1m1 0h5m75 0h2m2 0h1m1 0h2m3 0h1m1 0h1m1 0h9m4 0h1m6 0h2m1 0h1m2 0h1M1 3.5h5m1 0h1m1 0h1m1 0h2m8 0h1m78 0h5m1 0h1m2 0h6m1 0h1m2 0h6m75 0h1m2 0h1m1 0h3m5 0h3m1 0h4m3 0h3m8 0h1M1 4.5h4m4 0h1m1 0h1m92 0h1m1 0h1m2 0h1m1 0h2m4 0h1m1 0h1m1 0h2m2 0h1m78 0h1m2 0h2m3 0h2m1 0h5m1 0h2M1 5.5h3m91 0h3m1 0h1m1 0h2m1 0h1m1 0h1m2 0h1m1 0h4m2 0h1m1 0h1m1 0h2m2 0h1m75 0h1m1 0h4m1 0h1m1 0h1m1 0h2m2 0h1M2 6.5h1m89 0h1m3 0h1m4 0h1m5 0h1m1 0h1m1 0h1m2 0h1m10 0h1m80 0h1m2 0h1M92 7.5h1m3 0h2m1 0h1m1 0h2m1 0h1m1 0h2m94 0h3m2 0h2m1 0h3m3 0h1m1 0h1M101 8.5h1m2 0h2m1 0h1m3 0h1m1 0h1m88 0h3m1 0h1m4 0h2M92 9.5h4m2 0h2m2 0h1m2 0h1m1 0h1m3 0h1m1 0h1m88 0h2m7 0h2m3 0h1M92 10.5h1m4 0h1m104 0h1M92 11.5h3m2 0h2m1 0h1m6 0h1m5 0h1m96 0h1M93 12.5h2m5 0h1m108 0h2M94 13.5h1m2 0h2m14 0h1M93 14.5h1m6 0h1M94 15.5h1m5 0h1" stroke="#f8df25"/><path d="M3 0.5h2m1 0h1m1 0h1m6 0h1m5 0h1m4 0h3m3 0h1m1 0h1m61 0h1m2 0h2m3 0h1m1 0h1m1 0h2m2 0h1m3 0h2m1 0h1m1 0h1m2 0h2m74 0h1m2 0h2m1 0h3m1 0h1m1 0h2m5 0h1m5 0h1m2 0h1m5 0h1m1 0h1m28 0h1m1 0h1M1 1.5h5m21 0h1m65 0h1m1 0h1m2 0h2m1 0h2m1 0h1m1 0h2m1 0h1m1 0h1m2 0h1m1 0h2m1 0h1m2 0h1m1 0h2m77 0h4m1 0h1m1 0h3m2 0h1m1 0h1m10 0h1m7 0h1M2 2.5h2m1 0h1m89 0h1m1 0h2m2 0h1m4 0h1m4 0h1m2 0h1m2 0h1m1 0h1m5 0h1m77 0h1m1 0h1m4 0h1m1 0h1M92 3.5h2m1 0h3m1 0h1m7 0h1m9 0h1m7 0h1m76 0h1m1 0h1m4 0h4m3 0h1M96 4.5h1m1 0h1m2 0h1m3 0h1m1 0h1m5 0h1m88 0h2m1 0h2m2 0h1M92 5.5h2m4 0h1m6 0h1m1 0h1m94 0h1m6 0h1M94 6.5h1m2 0h2m1 0h1m12 0h1m88 0h2M93 7.5h2m3 0h1m1 0h1m4 0h1m7 0h1m95 0h1M100 8.5h1M97 9.5h1m2 0h1M100 10.5h1" stroke="#fcce25"/><path d="M1 0.5h2m2 0h1m3 0h1m82 0h2m3 0h1m4 0h1m2 0h1m1 0h1m3 0h1m1 0h2m7 0h1m79 0h1m2 0h1m5 0h1m4 0h1M92 1.5h1m1 0h1m2 0h1m104 0h1m6 0h1m6 0h1M92 2.5h1m1 0h1m4 0h1m5 0h1m1 0h1m94 0h1m6 0h1M94 3.5h1m3 0h1m6 0h1M92 4.5h1M94 5.5h1m5 0h1" stroke="#fcb82f"/><path d="M94 0.5h1m3 0h1m110 0h1M105 1.5h1M93 2.5h1" stroke="#fca636"/><path d="M6 4.5h1M11 5.5h1m209 0h1m2 0h1" stroke="#f2844b"/><path d="M207 1.5h1M208 3.5h1M116 6.5h2m94 0h1" stroke="#cc4778"/><path d="M208 2.5h1M0 3.5h1M115 5.5h1m95 0h1" stroke="#9c179e"/><path d="M114 4.5h2" stroke="#41049d"/></g><g id="chlab" fill="none" stroke-width="1" shape-rendering="crispEdges"><path d="M16 0.5h1m1 0h1m2 0h1m2 0h1m10 0h1m1 0h3m2 0h1m2 0h3m1 0h1m2 0h1m6 0h1m2 0h4m6 0h3m3 0h1m3 0h5m1 0h1m37 0h6m5 0h1m5 0h1m6 0h1m5 0h2m2 0h1m3 0h1m4 0h3m2 0h6m2 0h5m3 0h1m1 0h1m1 0h1m1 0h1m1 0h1m28 0h1m1 0h1m4 0h1m5 0h1m4 0h2m1 0h2m1 0h2m1 0h1m1 0h1m2 0h2m2 0h1m1 0h1m3 0h1m5 0h1m1 0h3m2 0h10m1 0h1M16 1.5h1m1 0h2m3 0h1m4 0h1m2 0h2m2 0h1m1 0h1m1 0h1m1 0h2m2 0h4m3 0h8m2 0h4m1 0h1m4 0h3m1 0h1m2 0h4m1 0h5m1 0h2m23 0h2m9 0h2m2 0h2m2 0h1m2 0h3m1 0h4m1 0h1m2 0h3m1 0h7m1 0h4m1 0h1m1 0h1m2 0h1m3 0h4m1 0h3m1 0h2m1 0h2m2 0h7m29 0h2m1 0h2m6 0h1m4 0h1m1 0h6m1 0h2m1 0h3m1 0h1m4 0h4m1 0h1m1 0h2m1 0h1m1 0h5m1 0h2m1 0h3m4 0h2M13 2.5h1m4 0h7m1 0h1m1 0h1m1 0h4m1 0h4m3 0h1m2 0h3m1 0h4m1 0h9m3 0h4m1 0h6m1 0h4m1 0h5m2 0h2m19 0h1m6 0h1m8 0h1m1 0h2m1 0h6m1 0h4m1 0h1m1 0h7m1 0h3m2 0h1m1 0h1m4 0h1m1 0h1m3 0h1m1 0h3m2 0h5m1 0h6m1 0h1m2 0h1m1 0h1m22 0h3m4 0h2m1 0h2m6 0h2m1 0h3m2 0h5m3 0h4m1 0h11m2 0h6m1 0h1m3 0h4m1 0h5M3 3.5h1m4 0h1m4 0h10m2 0h3m1 0h1m2 0h2m2 0h3m2 0h8m1 0h9m2 0h3m1 0h1m1 0h8m1 0h2m1 0h7m1 0h2m1 0h2m24 0h1m1 0h1m7 0h1m1 0h1m1 0h2m1 0h7m1 0h1m1 0h6m1 0h2m1 0h2m1 0h2m1 0h2m1 0h3m1 0h3m1 0h6m2 0h2m2 0h5m1 0h2m2 0h3m1 0h4m14 0h1m7 0h1m4 0h9m2 0h4m1 0h1m1 0h4m3 0h2m1 0h2m2 0h1m1 0h1m1 0h2m1 0h1m1 0h3m1 0h1m2 0h1m1 0h1m1 0h10m3 0h2M1 4.5h3m1 0h1m1 0h2m4 0h3m1 0h3m2 0h4m1 0h2m1 0h3m4 0h4m1 0h1m1 0h8m1 0h1m6 0h2m3 0h3m1 0h10m2 0h1m1 0h1m1 0h5m1 0h1m24 0h1m1 0h2m1 0h1m4 0h1m1 0h3m1 0h2m1 0h2m1 0h7m1 0h1m1 0h5m1 0h2m2 0h6m2 0h4m1 0h1m2 0h8m1 0h5m1 0h1m1 0h4m1 0h1m1 0h2m14 0h1m2 0h1m2 0h3m5 0h1m1 0h2m1 0h4m2 0h7m2 0h13m6 0h1m6 0h14m1 0h3m1 0h1M2 5.5h4m1 0h4m2 0h5m1 0h5m1 0h1m3 0h6m1 0h6m2 0h1m2 0h2m2 0h1m1 0h5m1 0h10m1 0h11m1 0h5m3 0h2m9 0h1m2 0h1m11 0h1m1 0h1m1 0h2m1 0h1m2 0h1m1 0h1m1 0h5m1 0h1m1 0h15m1 0h3m1 0h7m1 0h1m1 0h3m3 0h3m1 0h3m2 0h6m1 0h3m1 0h6m15 0h6m1 0h1m5 0h5m1 0h6m1 0h5m1 0h2m1 0h1m1 0h7m1 0h5m1 0h1m1 0h2m1 0h7m1 0h3m1 0h2m1 0h4m2 0h2M4 6.5h5m1 0h3m4 0h2m3 0h3m1 0h2m2 0h5m1 0h8m1 0h1m1 0h5m1 0h5m1 0h6m2 0h4m9 0h1m1 0h1m1 0h2m1 0h1m1 0h1m15 0h1m5 0h2m2 0h1m2 0h2m3 0h1m2 0h1m2 0h4m3 0h3m1 0h2m2 0h2m1 0h3m1 0h5m6 0h1m1 0h7m1 0h1m3 0h6m2 0h1m12 0h1m15 0h2m1 0h4m1 0h3m3 0h4m1 0h6m3 0h1m2 0h5m1 0h11m3 0h2m1 0h1m1 0h4m2 0h10M0 7.5h6m1 0h7m3 0h20m1 0h4m1 0h5m1 0h2m1 0h3m1 0h7m1 0h6m1 0h4m1 0h7m1 0h8m9 0h1m3 0h1m5 0h2m2 0h2m1 0h1m1 0h7m1 0h3m1 0h5m1 0h8m1 0h4m1 0h9m1 0h2m1 0h1m1 0h1m1 0h1m1 0h5m3 0h17m1 0h3m14 0h4m1 0h4m1 0h1m1 0h12m1 0h9m1 0h5m1 0h3m1 0h16m2 0h1m1 0h3m1 0h10M2 8.5h9m1 0h7m3 0h1m1 0h2m2 0h1m1 0h13m1 0h2m1 0h1m1 0h1m1 0h6m1 0h2m1 0h1m2 0h1m10 0h1m2 0h5m2 0h1m2 0h1m1 0h2m8 0h1m3 0h3m3 0h1m1 0h1m3 0h2m1 0h3m1 0h1m1 0h2m1 0h2m2 0h1m2 0h5m1 0h2m1 0h1m1 0h9m13 0h1m1 0h3m1 0h1m1 0h5m2 0h1m9 0h4m2 0h1m1 0h1m2 0h1m8 0h13m1 0h9m9 0h19m1 0h8m1 0h4m2 0h5m2 0h1M0 9.5h1m1 0h1m1 0h6m1 0h22m1 0h3m1 0h13m1 0h3m1 0h2m2 0h4m1 0h10m1 0h16m9 0h1m2 0h2m4 0h3m1 0h4m1 0h8m2 0h9m1 0h1m2 0h6m2 0h7m1 0h15m1 0h2m1 0h1m1 0h3m1 0h1m1 0h2m2 0h1m1 0h1m1 0h2m1 0h4m4 0h1m2 0h1m2 0h2m2 0h7m1 0h4m1 0h1m1 0h10m1 0h42m1 0h10M5 10.5h1m1 0h1m2 0h1m1 0h1m2 0h4m6 0h1m1 0h6m2 0h1m2 0h1m2 0h1m7 0h1m6 0h1m3 0h1m2 0h1m10 0h4m1 0h1m1 0h1m6 0h1m15 0h2m6 0h1m3 0h1m2 0h4m5 0h3m1 0h3m2 0h9m2 0h1m4 0h1m2 0h2m4 0h1m3 0h1m1 0h1m4 0h3m2 0h1m3 0h4m1 0h2m4 0h1m3 0h1m5 0h1m1 0h1m1 0h1m6 0h6m3 0h2m4 0h1m1 0h1m7 0h2m4 0h1m1 0h4m1 0h1m4 0h1m1 0h2m2 0h2m3 0h4m2 0h2m1 0h6m2 0h3m5 0h1M0 11.5h7m1 0h5m1 0h11m1 0h8m1 0h17m1 0h7m1 0h1m1 0h29m4 0h1m3 0h2m2 0h2m4 0h3m1 0h1m1 0h6m4 0h1m1 0h14m1 0h10m1 0h4m1 0h11m1 0h8m1 0h1m1 0h1m2 0h3m2 0h3m1 0h6m1 0h2m1 0h1m1 0h2m2 0h2m1 0h5m1 0h2m1 0h12m2 0h6m1 0h4m1 0h11m1 0h14m1 0h9m2 0h8M10 12.5h1m1 0h1m2 0h1m2 0h1m5 0h3m3 0h2m3 0h6m1 0h3m1 0h1m2 0h1m5 0h3m1 0h5m5 0h1m1 0h2m1 0h1m3 0h2m1 0h2m21 0h4m8 0h1m2 0h5m2 0h1m2 0h6m5 0h1m1 0h1m3 0h2m1 0h14m1 0h6m1 0h4m3 0h1m3 0h1m29 0h5m1 0h1m6 0h2m2 0h6m1 0h5m2 0h3m1 0h2m1 0h1m2 0h1m1 0h3m1 0h2m6 0h5m3 0h6m1 0h2m3 0h1m4 0h2M0 13.5h17m1 0h7m1 0h22m1 0h2m1 0h5m1 0h10m1 0h10m1 0h8m1 0h3m4 0h1m2 0h4m1 0h5m1 0h15m1 0h1m1 0h1m1 0h2m1 0h5m1 0h3m1 0h3m1 0h24m1 0h4m1 0h20m1 0h7m1 0h11m2 0h9m1 0h5m2 0h6m1 0h1m1 0h4m1 0h1m1 0h2m1 0h7m1 0h9m1 0h10m2 0h5m1 0h3M3 14.5h1m1 0h5m1 0h8m1 0h7m1 0h9m1 0h2m1 0h1m7 0h1m1 0h7m1 0h3m6 0h5m1 0h1m1 0h6m6 0h4m4 0h1m2 0h3m2 0h4m1 0h1m1 0h2m2 0h3m5 0h4m1 0h2m1 0h10m1 0h1m1 0h7m1 0h2m1 0h20m2 0h1m1 0h2m1 0h4m1 0h3m12 0h2m1 0h4m4 0h2m4 0h1m4 0h7m1 0h3m1 0h3m1 0h7m1 0h1m1 0h1m3 0h8m1 0h1m7 0h1m4 0h4m1 0h4m1 0h3m3 0h2M2 15.5h5m1 0h5m1 0h27m1 0h12m1 0h8m1 0h18m1 0h7m1 0h1m1 0h2m1 0h2m1 0h3m1 0h4m1 0h1m3 0h15m1 0h16m1 0h10m1 0h3m1 0h11m1 0h3m1 0h3m1 0h15m1 0h1m1 0h8m1 0h5m1 0h4m1 0h1m1 0h1m1 0h15m1 0h10m1 0h7m2 0h22m1 0h13M0 16.5h15m1 0h2m1 0h16m1 0h7m1 0h1m1 0h17m1 0h4m1 0h13m1 0h10m2 0h3m1 0h4m6 0h4m1 0h4m1 0h4m1 0h3m1 0h11m1 0h5m1 0h1m1 0h18m1 0h19m1 0h5m1 0h1m1 0h1m1 0h4m1 0h6m2 0h4m1 0h1m1 0h4m4 0h1m3 0h1m2 0h10m2 0h1m5 0h2m1 0h17m1 0h14m1 0h2m1 0h2m1 0h2M0 17.5h34m1 0h38m1 0h18m2 0h12m1 0h8m1 0h11m1 0h15m1 0h14m1 0h12m1 0h40m2 0h5m1 0h1m1 0h1m1 0h40m1 0h1m1 0h20m1 0h4m1 0h1M0 18.5h5m1 0h1m1 0h17m2 0h1m2 0h1m1 0h8m2 0h16m1 0h1m1 0h5m1 0h3m2 0h1m7 0h10m1 0h1m8 0h1m11 0h1m1 0h9m1 0h3m1 0h14m1 0h3m2 0h1m1 0h14m1 0h13m1 0h18m2 0h2m1 0h25m1 0h6m1 0h8m1 0h4m1 0h2m2 0h4m1 0h4m3 0h29M0 19.5h43m1 0h23m1 0h22m1 0h6m2 0h15m1 0h11m2 0h61m1 0h7m1 0h10m1 0h5m1 0h22m1 0h30m1 0h2m1 0h12m1 0h9M0 20.5h7m1 0h14m1 0h2m1 0h1m1 0h32m1 0h9m1 0h7m1 0h18m1 0h7m1 0h1m1 0h1m1 0h10m1 0h2m1 0h2m2 0h1m1 0h10m4 0h1m8 0h1m1 0h1m1 0h1m1 0h19m1 0h1m12 0h1m1 0h7m1 0h9m1 0h11m1 0h3m1 0h2m1 0h17m1 0h13m1 0h31M0 21.5h1m1 0h27m1 0h65m1 0h17m2 0h7m1 0h1m2 0h1m1 0h3m1 0h16m1 0h33m1 0h15m1 0h28m1 0h3m2 0h5m1 0h26m1 0h5m1 0h22M0 22.5h16m1 0h2m1 0h12m1 0h1m3 0h1m4 0h8m1 0h3m1 0h5m2 0h7m1 0h3m3 0h2m4 0h1m5 0h17m1 0h21m1 0h7m1 0h5m2 0h11m1 0h1m1 0h1m1 0h2m1 0h19m1 0h2m1 0h14m1 0h2m5 0h8m4 0h9m1 0h10m1 0h21m1 0h18m1 0h13M0 23.5h1m1 0h114m1 0h6m1 0h3m1 0h19m1 0h9m2 0h8m1 0h49m1 0h17m1 0h18m1 0h13m3 0h22M0 24.5h2m2 0h14m16 0h1m2 0h2m1 0h3m2 0h15m5 0h1m1 0h1m2 0h1m2 0h2m1 0h2m1 0h1m5 0h1m1 0h4m2 0h4m4 0h1m6 0h5m2 0h6m8 0h3m4 0h1m4 0h25m1 0h8m1 0h3m1 0h10m1 0h25m5 0h1m3 0h13m5 0h14m1 0h4m3 0h13m1 0h9m1 0h1m2 0h2M0 25.5h30m4 0h12m1 0h80m1 0h166M0 26.5h3m1 0h3m7 0h1m8 0h3m1 0h2m5 0h2m1 0h1m7 0h2m4 0h4m11 0h1m2 0h1m6 0h1m1 0h5m12 0h18m5 0h1m1 0h1m4 0h2m1 0h1m1 0h1m11 0h1m4 0h5m1 0h1m7 0h5m1 0h3m1 0h1m4 0h15m1 0h2m1 0h3m8 0h2m1 0h1m2 0h1m5 0h5m1 0h1m2 0h3m5 0h1m6 0h4m2 0h1m7 0h4m5 0h1m1 0h5m7 0h2m3 0h1m2 0h1m2 0h1m2 0h1M0 27.5h3m1 0h16m2 0h5m1 0h33m1 0h44m3 0h16m3 0h6m1 0h21m2 0h2m1 0h9m2 0h20m1 0h11m4 0h73m1 0h12M0 28.5h8m1 0h4m5 0h3m1 0h1m3 0h3m1 0h1m10 0h4m11 0h4m3 0h4m1 0h3m7 0h2m2 0h1m3 0h1m1 0h22m1 0h2m1 0h9m14 0h4m1 0h3m6 0h5m1 0h16m5 0h7m3 0h7m4 0h5m2 0h6m3 0h7m1 0h2m31 0h7m1 0h2m10 0h9m5 0h2m1 0h1M0 29.5h7m2 0h73m1 0h32m2 0h10m1 0h22m3 0h55m1 0h11m1 0h5m1 0h2m1 0h12m1 0h9m1 0h11m1 0h29M1 30.5h1m3 0h1m1 0h1m2 0h1m2 0h4m1 0h3m3 0h3m3 0h4m5 0h1m1 0h2m2 0h1m1 0h2m4 0h5m1 0h1m2 0h2m4 0h3m1 0h2m8 0h1m1 0h2m6 0h9m3 0h3m2 0h1m2 0h1m4 0h1m2 0h3m3 0h1m1 0h1m2 0h1m1 0h1m3 0h1m5 0h1m13 0h2m1 0h1m3 0h1m4 0h1m2 0h8m2 0h1m9 0h1m1 0h1m7 0h1m3 0h7m1 0h4m15 0h5m6 0h1m1 0h1m3 0h2m3 0h2m1 0h1m1 0h1m4 0h1m7 0h4m1 0h3m1 0h3m1 0h4m2 0h1M0 31.5h13m3 0h18m2 0h17m2 0h72m2 0h26m2 0h33m3 0h9m3 0h15m1 0h19m2 0h16m1 0h9m1 0h7m1 0h17M1 32.5h1m13 0h2m1 0h2m2 0h1m4 0h5m3 0h2m4 0h11m1 0h6m8 0h3m2 0h1m1 0h1m2 0h1m4 0h1m1 0h3m1 0h2m1 0h4m14 0h7m1 0h1m1 0h2m7 0h1m2 0h1m1 0h8m9 0h7m3 0h2m8 0h10m7 0h3m1 0h4m5 0h3m1 0h7m4 0h1m1 0h1m3 0h7m1 0h2m1 0h7m5 0h4m2 0h1m2 0h5m11 0h2m1 0h3m1 0h1m5 0h2m2 0h8M0 33.5h22m1 0h11m2 0h29m1 0h13m1 0h25m1 0h17m1 0h3m1 0h27m3 0h33m2 0h37m1 0h43m1 0h2m1 0h16M0 34.5h4m2 0h4m5 0h1m4 0h1m5 0h7m1 0h4m6 0h5m1 0h1m2 0h1m3 0h1m16 0h1m2 0h1m1 0h8m1 0h7m15 0h4m10 0h1m10 0h1m1 0h4m12 0h1m7 0h1m8 0h6m3 0h4m1 0h1m1 0h12m3 0h30m7 0h7m5 0h8m1 0h4m1 0h7m1 0h3m13 0h1M0 35.5h30m2 0h9m1 0h35m5 0h45m1 0h13m2 0h113m2 0h20m1 0h15M0 36.5h4m1 0h1m7 0h4m1 0h7m1 0h5m2 0h9m1 0h18m1 0h4m1 0h2m1 0h2m1 0h3m1 0h1m1 0h22m1 0h1m1 0h2m1 0h2m1 0h7m6 0h4m2 0h3m1 0h10m1 0h2m1 0h3m1 0h1m1 0h2m1 0h1m3 0h15m2 0h6m1 0h1m1 0h1m1 0h11m1 0h25m6 0h1m1 0h3m1 0h8m1 0h1m1 0h23m1 0h4m1 0h4m1 0h4m1 0h2m1 0h4M0 37.5h13m1 0h33m1 0h21m1 0h42m1 0h2m1 0h11m1 0h58m2 0h12m1 0h45m1 0h47M0 38.5h6m1 0h4m1 0h88m16 0h1m2 0h8m2 0h31m1 0h14m1 0h54m1 0h26m6 0h18m1 0h7m1 0h4M0 39.5h96m3 0h27m2 0h36m1 0h26m1 0h41m1 0h59M4 40.5h42m2 0h3m1 0h1m2 0h41m3 0h1m12 0h15m1 0h5m1 0h7m6 0h1m2 0h4m1 0h38m3 0h1m1 0h1m1 0h29m2 0h1m4 0h12m3 0h7m1 0h24m4 0h7M0 41.5h18m1 0h61m1 0h5m1 0h40m1 0h3m1 0h61m1 0h30m2 0h50m1 0h17M1 42.5h2m1 0h3m15 0h5m2 0h3m5 0h5m2 0h1m3 0h1m3 0h1m3 0h3m3 0h3m1 0h1m2 0h2m1 0h11m9 0h1m7 0h4m1 0h4m2 0h6m1 0h1m1 0h1m2 0h1m1 0h2m1 0h4m5 0h4m11 0h3m1 0h45m1 0h2m3 0h2m3 0h1m1 0h3m1 0h1m3 0h1m1 0h5m1 0h4m3 0h1m12 0h3m1 0h5m2 0h2m5 0h18m1 0h7M0 43.5h10m1 0h68m2 0h44m1 0h1m1 0h34m1 0h19m3 0h30m1 0h78M0 44.5h1m2 0h8m15 0h4m1 0h1m1 0h1m3 0h1m2 0h1m2 0h6m13 0h3m1 0h1m9 0h4m1 0h1m2 0h1m1 0h1m1 0h3m1 0h7m3 0h6m2 0h3m3 0h1m4 0h4m6 0h1m4 0h3m3 0h2m1 0h12m7 0h1m2 0h6m7 0h1m2 0h5m1 0h1m3 0h3m5 0h5m1 0h7m6 0h1m1 0h14m2 0h4m1 0h2m3 0h1m2 0h1m2 0h2m1 0h1m3 0h2m6 0h5m1 0h6m1 0h1m1 0h1m2 0h5M0 45.5h12m3 0h54m5 0h23m2 0h28m1 0h72m3 0h64m6 0h21M0 46.5h1m4 0h1m4 0h1m15 0h2m3 0h1m1 0h2m25 0h1m1 0h1m2 0h2m1 0h1m1 0h1m1 0h1m5 0h1m3 0h2m2 0h4m13 0h1m8 0h3m1 0h1m1 0h1m1 0h6m3 0h10m7 0h3m2 0h1m4 0h5m1 0h1m4 0h1m2 0h5m1 0h2m1 0h4m1 0h4m1 0h2m1 0h3m7 0h1m2 0h5m5 0h3m1 0h3m2 0h11m2 0h5m1 0h3m8 0h2m6 0h1m1 0h2m1 0h4m2 0h3m4 0h1m3 0h1m2 0h1m1 0h1M0 47.5h12m1 0h11m1 0h70m2 0h30m1 0h15m1 0h59m1 0h90M7 48.5h5m1 0h2m1 0h1m24 0h1m2 0h1m3 0h2m8 0h6m1 0h5m2 0h5m1 0h5m5 0h1m1 0h1m8 0h1m3 0h1m8 0h1m1 0h1m2 0h2m1 0h1m1 0h5m1 0h1m2 0h1m1 0h1m1 0h1m4 0h4m2 0h1m9 0h2m6 0h4m1 0h16m2 0h1m10 0h3m7 0h1m1 0h2m4 0h6m1 0h2m3 0h1m1 0h11m2 0h1m15 0h6m3 0h13m6 0h1m1 0h1m1 0h3M0 49.5h30m1 0h19m1 0h29m2 0h1m4 0h3m2 0h27m1 0h7m1 0h62m7 0h16m2 0h20m2 0h29m1 0h27M8 50.5h2m5 0h2m1 0h2m2 0h3m9 0h3m1 0h3m1 0h3m3 0h1m8 0h4m3 0h1m1 0h1m1 0h3m2 0h4m1 0h1m2 0h1m2 0h2m1 0h4m1 0h3m8 0h1m4 0h4m8 0h5m1 0h1m1 0h3m2 0h1m1 0h1m2 0h3m1 0h1m3 0h1m9 0h1m7 0h3m4 0h1m3 0h2m1 0h3m1 0h1m4 0h1m1 0h3m6 0h1m9 0h2m6 0h1m2 0h3m1 0h2m5 0h1m2 0h1m1 0h6m2 0h1m3 0h4m2 0h3m2 0h2m2 0h1m1 0h1m2 0h5m1 0h3m6 0h3M0 51.5h48m1 0h2m1 0h18m1 0h56m1 0h15m1 0h45m1 0h10m1 0h48m2 0h1m1 0h41M11 52.5h1m1 0h2m5 0h13m8 0h2m8 0h8m7 0h3m5 0h1m8 0h3m2 0h1m2 0h4m1 0h3m1 0h1m2 0h3m5 0h1m3 0h2m3 0h1m2 0h2m4 0h5m4 0h3m5 0h1m1 0h4m2 0h3m8 0h2m10 0h1m1 0h2m6 0h1m4 0h1m1 0h1m2 0h5m18 0h2m1 0h4m3 0h10m8 0h5m1 0h1m2 0h4m1 0h3m5 0h6m5 0h4m1 0h3M0 53.5h11m2 0h2m1 0h58m1 0h8m1 0h12m4 0h10m1 0h5m2 0h9m1 0h7m3 0h4m1 0h10m2 0h29m6 0h9m1 0h5m1 0h33m1 0h1m1 0h38m2 0h10M3 54.5h3m5 0h1m1 0h1m7 0h4m1 0h4m1 0h1m6 0h1m11 0h2m1 0h3m1 0h1m3 0h6m4 0h8m2 0h1m1 0h4m1 0h1m4 0h2m1 0h2m6 0h2m17 0h2m3 0h1m2 0h3m9 0h4m3 0h1m2 0h5m5 0h1m1 0h3m3 0h4m3 0h4m4 0h2m4 0h4m1 0h4m7 0h4m9 0h7m1 0h2m1 0h5m4 0h3m7 0h2m4 0h3m3 0h3m1 0h1m2 0h1m1 0h1m2 0h2m1 0h1m3 0h4m1 0h1m5 0h1M0 55.5h2m2 0h6m1 0h2m1 0h6m1 0h11m1 0h1m3 0h4m2 0h2m2 0h6m1 0h6m1 0h7m1 0h7m1 0h7m2 0h1m1 0h2m1 0h1m5 0h1m1 0h4m2 0h1m1 0h2m2 0h11m2 0h2m2 0h9m3 0h2m1 0h2m2 0h11m2 0h1m2 0h1m6 0h10m1 0h4m1 0h46m1 0h7m2 0h28m2 0h3m5 0h2m1 0h10M3 56.5h4m6 0h1m5 0h1m1 0h2m3 0h4m2 0h1m7 0h1m10 0h1m1 0h7m3 0h1m8 0h3m6 0h1m1 0h1m1 0h6m1 0h3m1 0h3m6 0h1m9 0h4m4 0h1m5 0h11m1 0h3m10 0h16m10 0h2m1 0h8m1 0h3m5 0h2m6 0h3m7 0h3m4 0h1m4 0h1m1 0h1m7 0h5m14 0h5m4 0h18m6 0h1M2 57.5h3m3 0h9m1 0h9m2 0h6m4 0h5m1 0h5m2 0h1m1 0h13m2 0h6m2 0h4m2 0h10m1 0h6m2 0h3m1 0h3m1 0h6m1 0h8m1 0h1m4 0h19m2 0h3m2 0h9m1 0h3m2 0h4m2 0h9m2 0h15m3 0h9m1 0h2m1 0h2m3 0h6m1 0h14m1 0h1m1 0h3m1 0h2m1 0h1m1 0h9m1 0h6m1 0h1m1 0h2m1 0h5m1 0h1m1 0h3M3 58.5h5m5 0h7m1 0h4m1 0h5m1 0h1m1 0h8m2 0h1m1 0h2m1 0h2m1 0h8m3 0h5m1 0h1m1 0h4m2 0h1m1 0h3m3 0h6m1 0h3m1 0h3m1 0h4m1 0h2m1 0h6m1 0h5m3 0h1m4 0h3m1 0h14m5 0h10m1 0h9m2 0h3m2 0h1m1 0h2m1 0h5m5 0h1m5 0h1m3 0h4m2 0h2m4 0h2m1 0h1m1 0h5m1 0h3m1 0h2m2 0h3m2 0h3m1 0h3m4 0h1m2 0h1m1 0h13m1 0h12m1 0h4m1 0h1m2 0h1m1 0h1M13 59.5h1m5 0h1m3 0h2m5 0h1m1 0h1m1 0h2m2 0h1m2 0h1m2 0h1m10 0h3m5 0h1m9 0h1m5 0h2m6 0h1m6 0h1m10 0h1m6 0h2m3 0h1m17 0h3m2 0h1m1 0h2m10 0h2m1 0h3m5 0h2m1 0h1m12 0h1m23 0h2m8 0h2m3 0h2m1 0h2m2 0h1m4 0h1m10 0h2m14 0h1m7 0h1m8 0h3m1 0h1m1 0h1M3 60.5h1m1 0h5m2 0h2m5 0h8m1 0h12m1 0h2m1 0h2m1 0h1m1 0h11m3 0h1m1 0h2m4 0h6m2 0h3m2 0h7m3 0h8m1 0h4m2 0h5m1 0h6m2 0h1m4 0h3m1 0h12m2 0h1m1 0h1m3 0h9m3 0h3m1 0h3m2 0h3m1 0h2m1 0h3m2 0h1m13 0h13m1 0h4m1 0h4m1 0h5m2 0h2m2 0h3m1 0h2m2 0h8m1 0h4m2 0h11m1 0h1m2 0h1m2 0h14M19 61.5h1m1 0h4m6 0h1m2 0h1m3 0h1m2 0h2m12 0h2m6 0h1m23 0h1m12 0h2m3 0h1m6 0h2m3 0h3m8 0h1m6 0h1m1 0h1m2 0h1m1 0h2m2 0h1m7 0h1m3 0h1m6 0h2m1 0h1m4 0h3m4 0h2m17 0h3m13 0h2m3 0h2m1 0h3m1 0h1m31 0h1m7 0h1m8 0h1m1 0h1m1 0h3m3 0h2M3 62.5h1m1 0h3m1 0h2m3 0h11m3 0h4m2 0h5m2 0h5m1 0h1m1 0h1m1 0h7m2 0h4m2 0h2m1 0h3m1 0h4m2 0h3m2 0h5m5 0h8m1 0h3m3 0h7m1 0h4m7 0h1m4 0h3m1 0h7m2 0h3m2 0h1m2 0h2m1 0h6m1 0h7m2 0h3m1 0h2m1 0h3m2 0h1m1 0h6m4 0h12m4 0h9m1 0h12m1 0h6m1 0h1m1 0h1m2 0h8m2 0h4m3 0h3m1 0h2m1 0h1m2 0h2m2 0h8m1 0h5M3 63.5h1m3 0h1m10 0h2m1 0h4m4 0h1m1 0h1m2 0h1m1 0h3m2 0h2m12 0h2m9 0h1m6 0h1m13 0h1m6 0h1m5 0h2m3 0h2m1 0h1m3 0h2m3 0h2m9 0h1m11 0h1m2 0h1m2 0h1m7 0h2m2 0h2m6 0h3m4 0h2m6 0h1m8 0h1m8 0h1m1 0h1m13 0h2m3 0h2m1 0h3m2 0h2m2 0h1m10 0h2m14 0h1m7 0h1m8 0h1m3 0h3m5 0h1m1 0h1M3 64.5h1m2 0h2m1 0h5m1 0h11m1 0h1m1 0h10m1 0h5m2 0h1m1 0h9m2 0h4m1 0h3m2 0h2m1 0h3m1 0h1m1 0h3m3 0h4m2 0h5m1 0h10m1 0h7m1 0h3m1 0h6m2 0h1m5 0h18m1 0h3m2 0h3m5 0h6m1 0h2m1 0h5m1 0h5m2 0h2m2 0h2m2 0h12m1 0h1m2 0h9m1 0h8m1 0h3m1 0h3m3 0h1m1 0h8m3 0h11m1 0h4m1 0h1m2 0h10m3 0h5M3 65.5h1m3 0h1m10 0h1m2 0h4m4 0h1m1 0h8m2 0h2m1 0h1m6 0h2m3 0h2m8 0h1m6 0h1m26 0h2m3 0h2m2 0h1m3 0h2m2 0h2m9 0h1m11 0h1m1 0h2m2 0h2m18 0h3m4 0h2m6 0h1m2 0h1m5 0h1m8 0h1m3 0h2m11 0h1m6 0h1m1 0h1m2 0h2m13 0h1m23 0h2m7 0h1m3 0h3m5 0h1M0 66.5h1m2 0h5m1 0h2m1 0h1m1 0h25m1 0h6m1 0h3m1 0h4m1 0h4m3 0h8m5 0h2m1 0h1m1 0h6m1 0h4m4 0h11m2 0h17m2 0h2m1 0h1m3 0h17m5 0h1m1 0h2m5 0h4m1 0h1m1 0h7m1 0h28m4 0h2m1 0h2m2 0h2m1 0h1m1 0h1m1 0h4m1 0h1m1 0h1m1 0h16m2 0h1m2 0h9m1 0h2m1 0h1m3 0h12m1 0h4m1 0h1M4 67.5h1m2 0h1m10 0h5m6 0h8m1 0h1m2 0h2m1 0h1m6 0h2m3 0h2m6 0h4m1 0h1m22 0h1m1 0h1m5 0h4m1 0h2m6 0h3m2 0h1m26 0h1m2 0h1m6 0h1m1 0h1m1 0h1m7 0h2m6 0h1m7 0h1m6 0h1m8 0h3m26 0h3m1 0h1m8 0h1m34 0h1m3 0h6m2 0h1M1 68.5h1m1 0h8m1 0h1m1 0h3m1 0h7m1 0h34m4 0h7m2 0h1m2 0h2m1 0h1m1 0h5m1 0h1m3 0h2m3 0h27m1 0h2m5 0h8m1 0h1m1 0h4m1 0h6m2 0h1m1 0h4m2 0h6m2 0h1m1 0h1m1 0h9m1 0h25m1 0h2m1 0h3m2 0h3m1 0h1m1 0h8m1 0h8m1 0h2m1 0h2m1 0h3m2 0h2m1 0h5m1 0h3m8 0h16m3 0h1M7 69.5h1m10 0h1m2 0h2m6 0h1m1 0h3m1 0h3m3 0h2m1 0h2m5 0h2m2 0h1m1 0h1m6 0h4m1 0h1m31 0h3m1 0h2m2 0h3m2 0h2m2 0h1m1 0h1m10 0h1m10 0h1m1 0h2m2 0h1m6 0h1m8 0h1m2 0h2m6 0h1m7 0h1m6 0h1m8 0h3m5 0h4m4 0h1m4 0h1m7 0h4m9 0h1m1 0h2m10 0h1m3 0h1m7 0h1m9 0h1m2 0h6m2 0h1M1 70.5h1m4 0h3m3 0h5m1 0h7m2 0h11m3 0h16m5 0h12m5 0h5m1 0h5m1 0h1m1 0h6m1 0h7m2 0h2m1 0h13m3 0h5m1 0h3m3 0h6m1 0h5m2 0h4m3 0h1m1 0h6m1 0h2m1 0h19m1 0h19m3 0h1m3 0h5m1 0h1m1 0h18m1 0h2m1 0h2m1 0h3m1 0h6m1 0h3m1 0h2m3 0h1m1 0h13m1 0h3m1 0h2M7 71.5h1m13 0h2m6 0h1m1 0h3m1 0h2m5 0h1m1 0h2m4 0h3m2 0h1m7 0h3m1 0h1m1 0h1m17 0h1m6 0h4m3 0h1m3 0h2m3 0h2m2 0h1m5 0h1m10 0h1m11 0h1m1 0h1m2 0h1m5 0h2m3 0h1m4 0h1m3 0h1m11 0h2m1 0h1m6 0h1m10 0h1m5 0h4m17 0h3m10 0h4m14 0h1m7 0h1m9 0h1m2 0h1m4 0h1m2 0h1M0 72.5h1m4 0h14m1 0h5m3 0h6m1 0h2m1 0h2m1 0h19m3 0h3m1 0h5m2 0h1m4 0h2m1 0h1m1 0h5m1 0h2m2 0h4m2 0h9m1 0h2m1 0h4m1 0h2m1 0h1m1 0h2m1 0h1m1 0h5m1 0h3m1 0h1m1 0h6m1 0h5m2 0h3m1 0h3m1 0h10m3 0h1m1 0h5m1 0h2m1 0h1m1 0h3m1 0h4m1 0h1m1 0h13m1 0h2m1 0h2m1 0h5m3 0h6m1 0h11m1 0h2m1 0h9m5 0h7m4 0h8m3 0h9M7 73.5h1m3 0h2m5 0h1m14 0h1m1 0h2m1 0h1m3 0h1m1 0h2m4 0h3m3 0h2m6 0h2m1 0h1m1 0h1m17 0h1m7 0h3m3 0h1m3 0h2m3 0h1m7 0h1m1 0h1m10 0h1m11 0h3m2 0h1m5 0h2m1 0h1m1 0h1m4 0h1m15 0h2m1 0h1m2 0h1m6 0h1m6 0h2m5 0h4m5 0h1m10 0h4m1 0h1m8 0h1m36 0h1m6 0h4m1 0h1M0 74.5h13m1 0h1m1 0h5m2 0h1m2 0h4m1 0h1m1 0h6m2 0h7m1 0h2m1 0h1m3 0h4m2 0h1m1 0h8m2 0h1m4 0h10m2 0h1m1 0h1m1 0h9m1 0h7m1 0h3m1 0h5m1 0h2m1 0h1m1 0h5m1 0h3m1 0h1m1 0h4m1 0h8m1 0h3m1 0h2m1 0h1m1 0h5m1 0h3m2 0h5m1 0h2m1 0h1m1 0h3m1 0h2m2 0h3m1 0h1m1 0h13m1 0h4m2 0h1m2 0h9m1 0h1m1 0h8m3 0h1m1 0h2m1 0h5m1 0h5m1 0h5m1 0h2m2 0h2m2 0h3m1 0h14M11 75.5h2m5 0h1m8 0h2m4 0h4m1 0h1m5 0h2m4 0h2m3 0h1m9 0h1m1 0h1m19 0h1m3 0h1m3 0h2m1 0h1m1 0h4m1 0h3m2 0h1m4 0h1m2 0h1m23 0h2m1 0h1m1 0h2m6 0h1m8 0h1m10 0h1m4 0h2m3 0h2m6 0h1m5 0h1m1 0h1m5 0h4m5 0h1m10 0h2m3 0h1m10 0h1m11 0h1m22 0h1m4 0h1m1 0h4m1 0h1M0 76.5h2m1 0h2m5 0h4m1 0h4m1 0h4m2 0h4m1 0h6m2 0h3m1 0h6m1 0h2m2 0h2m1 0h3m1 0h1m2 0h4m2 0h2m1 0h6m2 0h4m1 0h4m1 0h6m1 0h10m1 0h7m2 0h3m2 0h3m2 0h3m2 0h6m1 0h1m1 0h11m1 0h6m1 0h2m1 0h3m2 0h7m4 0h2m3 0h3m1 0h7m2 0h5m2 0h12m2 0h1m1 0h1m1 0h10m1 0h3m2 0h6m5 0h2m3 0h5m1 0h1m1 0h1m2 0h3m3 0h1m3 0h4m1 0h13M4 77.5h1m6 0h2m5 0h1m3 0h1m5 0h1m4 0h3m8 0h2m4 0h2m3 0h1m5 0h1m3 0h1m1 0h1m19 0h1m3 0h3m4 0h1m1 0h1m4 0h3m1 0h1m33 0h3m1 0h2m6 0h1m8 0h1m3 0h1m6 0h1m4 0h1m4 0h2m14 0h1m5 0h4m5 0h1m9 0h3m3 0h1m3 0h1m18 0h1m11 0h1m9 0h2m4 0h3m2 0h1m1 0h1M0 78.5h3m1 0h1m1 0h1m3 0h3m1 0h5m3 0h2m1 0h1m1 0h2m3 0h5m4 0h5m2 0h3m3 0h2m1 0h3m1 0h8m2 0h1m1 0h1m1 0h14m2 0h5m1 0h4m4 0h5m2 0h3m1 0h1m1 0h3m1 0h1m2 0h1m2 0h2m3 0h2m4 0h2m2 0h8m1 0h1m1 0h5m1 0h1m1 0h3m1 0h5m1 0h9m4 0h9m2 0h2m3 0h1m1 0h1m1 0h1m1 0h10m1 0h1m2 0h1m1 0h10m1 0h1m1 0h1m4 0h1m2 0h1m3 0h3m1 0h2m1 0h1m1 0h3m2 0h6m1 0h7m1 0h9m1 0h7M3 79.5h2m6 0h2m9 0h1m5 0h1m4 0h3m6 0h1m5 0h3m14 0h1m1 0h1m5 0h1m3 0h1m9 0h1m3 0h4m3 0h1m1 0h1m4 0h6m3 0h1m3 0h2m20 0h1m1 0h4m2 0h1m6 0h1m8 0h1m2 0h1m17 0h2m14 0h1m8 0h1m4 0h2m9 0h3m3 0h1m15 0h1m6 0h1m10 0h2m9 0h2m4 0h1m4 0h1M0 80.5h5m1 0h7m2 0h3m1 0h4m2 0h1m2 0h1m2 0h8m1 0h4m1 0h7m1 0h3m1 0h3m2 0h1m2 0h1m1 0h4m1 0h2m1 0h4m1 0h19m1 0h2m3 0h5m2 0h1m1 0h2m2 0h5m2 0h1m2 0h3m2 0h2m3 0h3m1 0h4m1 0h5m2 0h4m2 0h3m1 0h1m1 0h2m2 0h1m1 0h4m2 0h3m1 0h1m2 0h5m1 0h3m2 0h2m1 0h1m1 0h5m1 0h6m1 0h3m1 0h1m4 0h10m1 0h2m1 0h3m1 0h5m2 0h3m1 0h2m1 0h5m2 0h6m1 0h1m7 0h3m1 0h4m1 0h3m2 0h3M4 81.5h1m6 0h2m9 0h1m5 0h1m2 0h5m5 0h2m6 0h2m4 0h1m1 0h1m9 0h1m1 0h1m3 0h1m7 0h3m3 0h1m3 0h2m1 0h1m2 0h2m7 0h3m5 0h1m4 0h2m19 0h1m1 0h4m18 0h1m20 0h2m14 0h1m8 0h1m5 0h1m9 0h3m3 0h1m15 0h1m6 0h1m10 0h2m9 0h2m4 0h1m1 0h4M0 82.5h8m1 0h5m1 0h8m2 0h1m2 0h1m2 0h5m1 0h1m1 0h4m1 0h4m1 0h3m1 0h5m2 0h3m1 0h2m1 0h4m1 0h6m1 0h10m1 0h11m2 0h1m1 0h8m1 0h1m1 0h1m1 0h6m1 0h2m1 0h3m3 0h1m4 0h2m1 0h7m2 0h1m2 0h1m1 0h4m1 0h2m1 0h1m1 0h5m1 0h4m2 0h1m2 0h6m2 0h1m3 0h1m2 0h1m1 0h8m2 0h3m1 0h3m1 0h2m3 0h1m1 0h10m1 0h2m3 0h1m1 0h4m1 0h1m1 0h12m3 0h7m6 0h3m1 0h9m1 0h1m1 0h2M3 83.5h2m6 0h2m18 0h1m1 0h1m1 0h1m12 0h1m1 0h1m4 0h3m3 0h1m7 0h1m11 0h3m3 0h1m3 0h2m1 0h1m2 0h2m1 0h1m5 0h3m5 0h1m4 0h2m19 0h1m3 0h2m55 0h1m24 0h3m3 0h1m9 0h2m2 0h1m1 0h1m6 0h1m11 0h1m9 0h1m5 0h6M0 84.5h2m1 0h5m1 0h5m1 0h5m1 0h1m1 0h1m1 0h1m1 0h1m1 0h1m1 0h3m1 0h1m1 0h1m1 0h4m2 0h7m3 0h1m1 0h3m1 0h5m1 0h4m1 0h1m1 0h4m1 0h7m1 0h2m1 0h14m1 0h4m3 0h1m1 0h2m2 0h6m4 0h1m5 0h1m1 0h2m1 0h2m1 0h4m2 0h1m1 0h2m4 0h8m4 0h3m2 0h2m3 0h2m1 0h5m1 0h3m8 0h5m1 0h2m2 0h3m1 0h18m1 0h2m1 0h1m3 0h7m1 0h14m5 0h4m3 0h5m2 0h10m1 0h1M12 85.5h1m20 0h1m1 0h1m3 0h1m11 0h1m3 0h1m13 0h1m11 0h3m3 0h1m3 0h3m6 0h4m2 0h3m5 0h2m24 0h1m3 0h2m40 0h1m14 0h1m8 0h1m15 0h3m3 0h1m9 0h2m1 0h1m2 0h1m6 0h1m11 0h1m15 0h6M1 86.5h4m1 0h7m1 0h2m2 0h4m1 0h1m1 0h2m1 0h2m1 0h3m1 0h5m1 0h2m1 0h3m1 0h1m1 0h8m1 0h1m1 0h4m2 0h5m1 0h1m1 0h2m2 0h6m1 0h3m1 0h4m1 0h9m2 0h3m5 0h4m1 0h6m3 0h1m3 0h6m1 0h9m2 0h2m2 0h3m1 0h3m1 0h2m5 0h2m2 0h3m2 0h2m1 0h3m5 0h1m1 0h1m3 0h1m3 0h5m1 0h1m2 0h3m1 0h12m2 0h7m2 0h1m2 0h15m2 0h3m1 0h1m2 0h1m3 0h12m1 0h10m1 0h1M12 87.5h1m5 0h1m14 0h1m1 0h1m8 0h1m6 0h1m17 0h1m11 0h3m16 0h1m2 0h1m2 0h3m5 0h2m24 0h1m3 0h1m3 0h1m5 0h2m30 0h1m14 0h1m8 0h1m4 0h1m10 0h2m4 0h1m9 0h3m2 0h2m6 0h1m11 0h1m16 0h1m1 0h3m1 0h1M2 88.5h3m2 0h1m1 0h4m1 0h6m1 0h3m1 0h2m1 0h2m2 0h5m1 0h5m1 0h5m2 0h1m3 0h3m1 0h1m1 0h1m2 0h3m1 0h6m2 0h9m1 0h1m1 0h1m1 0h4m1 0h1m4 0h1m1 0h14m1 0h4m1 0h1m7 0h1m1 0h2m2 0h7m4 0h2m3 0h5m1 0h5m1 0h2m1 0h2m4 0h3m2 0h2m2 0h2m2 0h1m2 0h7m3 0h1m1 0h3m1 0h1m4 0h15m1 0h4m1 0h3m1 0h5m1 0h10m1 0h5m2 0h1m1 0h2m2 0h1m1 0h4m3 0h1m1 0h3m2 0h1m2 0h7m2 0h1M11 89.5h2m5 0h1m13 0h2m1 0h1m4 0h1m3 0h1m6 0h1m5 0h1m11 0h1m33 0h1m1 0h4m5 0h1m24 0h2m13 0h2m8 0h1m45 0h1m4 0h2m9 0h2m4 0h1m9 0h2m3 0h1m35 0h2m1 0h3M3 90.5h2m4 0h1m1 0h4m2 0h3m1 0h4m3 0h2m2 0h5m1 0h5m1 0h1m1 0h1m1 0h4m3 0h1m1 0h1m2 0h15m3 0h5m3 0h1m1 0h1m1 0h3m5 0h4m1 0h9m2 0h7m9 0h1m2 0h1m2 0h9m2 0h1m2 0h1m1 0h5m2 0h2m1 0h1m1 0h2m1 0h2m3 0h2m1 0h1m3 0h1m3 0h1m1 0h3m1 0h1m4 0h1m6 0h3m1 0h1m1 0h2m1 0h1m1 0h2m2 0h6m3 0h2m1 0h12m1 0h5m1 0h1m1 0h2m5 0h1m2 0h4m1 0h7m3 0h5m1 0h5m1 0h4m3 0h1M18 91.5h1m13 0h2m1 0h1m12 0h2m1 0h1m3 0h1m1 0h1m11 0h1m4 0h1m7 0h1m4 0h1m2 0h2m11 0h1m1 0h4m5 0h1m23 0h3m13 0h2m4 0h1m3 0h1m20 0h1m24 0h1m18 0h1m1 0h2m9 0h1m12 0h1m28 0h1m1 0h1m1 0h1M0 92.5h2m1 0h5m1 0h1m2 0h3m2 0h2m2 0h2m1 0h1m1 0h4m1 0h6m4 0h2m2 0h1m2 0h4m3 0h4m1 0h10m1 0h2m2 0h11m1 0h7m2 0h3m1 0h2m1 0h1m1 0h11m1 0h4m2 0h3m4 0h1m2 0h1m2 0h1m1 0h3m1 0h4m3 0h4m1 0h3m2 0h8m1 0h1m1 0h8m1 0h1m2 0h4m4 0h1m2 0h2m1 0h1m1 0h2m2 0h3m1 0h1m1 0h1m1 0h1m1 0h2m2 0h6m1 0h5m1 0h1m1 0h4m1 0h1m1 0h13m4 0h2m1 0h1m1 0h1m3 0h1m2 0h4m7 0h2m2 0h3m1 0h3m4 0h1M18 93.5h1m13 0h1m6 0h1m9 0h1m1 0h1m3 0h1m13 0h1m11 0h2m8 0h1m1 0h1m9 0h1m3 0h2m29 0h3m3 0h1m2 0h1m7 0h1m4 0h2m2 0h1m5 0h1m1 0h1m2 0h1m34 0h1m13 0h4m1 0h1m1 0h1m13 0h2m8 0h1m11 0h2m9 0h1m4 0h2m1 0h1m1 0h1m4 0h1M3 94.5h1m1 0h3m3 0h8m2 0h2m1 0h3m2 0h1m1 0h3m1 0h2m2 0h4m3 0h2m1 0h9m2 0h4m5 0h8m2 0h6m6 0h1m1 0h1m2 0h2m2 0h1m1 0h7m1 0h10m1 0h1m1 0h1m1 0h1m2 0h3m1 0h5m1 0h3m3 0h2m2 0h1m2 0h8m1 0h19m5 0h1m1 0h1m1 0h3m1 0h1m1 0h6m1 0h10m2 0h2m1 0h2m2 0h1m2 0h12m1 0h5m1 0h1m2 0h7m3 0h1m1 0h2m1 0h1m2 0h8m2 0h1m4 0h9m1 0h1m3 0h2M18 95.5h1m30 0h1m1 0h1m3 0h1m13 0h1m21 0h1m1 0h1m9 0h1m29 0h1m2 0h4m7 0h1m7 0h1m4 0h2m2 0h1m4 0h2m4 0h1m34 0h1m15 0h2m1 0h1m1 0h1m14 0h2m7 0h1m10 0h1m17 0h3m1 0h1m4 0h1M2 96.5h2m1 0h1m3 0h1m1 0h4m3 0h1m1 0h7m1 0h10m1 0h1m1 0h1m4 0h7m1 0h4m2 0h2m1 0h1m6 0h5m2 0h1m1 0h2m2 0h3m1 0h2m1 0h8m3 0h6m1 0h1m1 0h6m3 0h1m2 0h2m1 0h1m5 0h9m3 0h1m4 0h6m1 0h7m1 0h2m2 0h7m1 0h1m1 0h3m3 0h3m1 0h4m1 0h1m1 0h6m1 0h4m1 0h5m2 0h1m1 0h1m1 0h1m2 0h1m2 0h13m2 0h2m2 0h1m2 0h6m2 0h3m1 0h2m1 0h3m1 0h4m5 0h1m2 0h4m2 0h1m1 0h3m1 0h1m1 0h1m1 0h2M48 97.5h2m1 0h2m2 0h1m21 0h1m9 0h1m2 0h2m10 0h2m10 0h1m20 0h2m1 0h1m21 0h2m8 0h2m3 0h1m9 0h1m24 0h1m5 0h1m10 0h1m1 0h1m16 0h1m8 0h1m9 0h2m10 0h1m6 0h3m1 0h1m1 0h1M2 98.5h2m1 0h10m1 0h2m1 0h2m1 0h1m1 0h4m6 0h3m3 0h2m3 0h9m1 0h1m4 0h1m1 0h1m1 0h1m1 0h1m2 0h2m2 0h2m1 0h2m1 0h1m1 0h1m2 0h1m2 0h2m1 0h3m4 0h2m2 0h1m1 0h4m1 0h1m1 0h6m2 0h2m4 0h2m2 0h2m1 0h8m4 0h3m2 0h5m1 0h8m5 0h1m2 0h11m2 0h10m5 0h4m1 0h2m1 0h1m1 0h4m3 0h3m2 0h2m2 0h1m2 0h5m1 0h3m2 0h2m2 0h5m1 0h8m2 0h1m1 0h1m3 0h4m1 0h2m2 0h2m1 0h2m2 0h3m1 0h10M48 99.5h2m1 0h2m2 0h1m27 0h1m3 0h1m2 0h3m19 0h4m16 0h2m1 0h2m7 0h1m3 0h1m11 0h2m8 0h2m13 0h2m29 0h1m12 0h1m16 0h1m18 0h1m18 0h3M3 100.5h1m2 0h9m1 0h3m1 0h3m1 0h3m11 0h4m1 0h3m1 0h3m1 0h6m1 0h1m2 0h1m1 0h2m1 0h1m2 0h3m1 0h2m2 0h4m1 0h3m2 0h13m1 0h6m2 0h10m2 0h4m3 0h2m1 0h10m2 0h2m2 0h5m2 0h8m2 0h2m1 0h2m1 0h3m3 0h1m1 0h3m2 0h6m2 0h4m1 0h1m2 0h12m2 0h4m3 0h1m1 0h1m2 0h1m1 0h3m3 0h3m1 0h1m1 0h2m1 0h3m1 0h6m1 0h2m3 0h1m1 0h1m6 0h1m1 0h2m2 0h4m1 0h9m1 0h2m1 0h3M18 101.5h1m30 0h1m1 0h2m2 0h1m27 0h1m6 0h4m18 0h2m1 0h1m5 0h1m10 0h2m1 0h3m7 0h1m1 0h2m11 0h2m8 0h2m13 0h2m29 0h1m27 0h1m1 0h1m36 0h1M0 102.5h1m2 0h1m3 0h8m1 0h6m2 0h1m1 0h1m4 0h2m2 0h1m1 0h5m1 0h3m2 0h2m1 0h6m1 0h1m2 0h1m1 0h3m3 0h1m1 0h1m6 0h7m3 0h1m1 0h10m2 0h7m1 0h6m3 0h3m1 0h3m2 0h6m1 0h17m1 0h4m1 0h4m1 0h2m2 0h4m1 0h1m2 0h3m1 0h2m1 0h1m2 0h4m2 0h1m4 0h6m1 0h9m1 0h1m2 0h2m1 0h2m1 0h1m2 0h2m1 0h2m3 0h3m3 0h2m1 0h6m2 0h6m2 0h1m1 0h2m4 0h2m1 0h2m2 0h4m2 0h5m3 0h4m1 0h2M17 103.5h2m13 0h1m16 0h1m2 0h1m2 0h1m23 0h3m1 0h1m3 0h1m2 0h2m2 0h1m8 0h1m1 0h1m1 0h2m3 0h2m1 0h1m3 0h3m10 0h2m1 0h1m24 0h2m8 0h2m38 0h1m35 0h2m28 0h1M3 104.5h8m2 0h9m1 0h2m6 0h2m2 0h11m2 0h2m1 0h3m1 0h1m1 0h3m1 0h5m5 0h1m1 0h1m2 0h1m2 0h4m1 0h4m2 0h2m1 0h7m1 0h8m1 0h1m1 0h4m2 0h6m2 0h1m3 0h14m1 0h1m2 0h2m1 0h1m1 0h3m1 0h5m2 0h1m2 0h4m1 0h2m1 0h2m3 0h1m5 0h3m3 0h5m1 0h1m1 0h2m3 0h7m1 0h2m4 0h2m1 0h1m3 0h4m4 0h2m6 0h1m2 0h4m1 0h5m1 0h1m1 0h1m1 0h1m6 0h1m1 0h9m4 0h4m1 0h2m1 0h1m1 0h2M17 105.5h2m30 0h1m2 0h1m2 0h1m7 0h1m15 0h3m5 0h1m2 0h1m3 0h1m7 0h2m1 0h4m3 0h4m3 0h3m13 0h2m23 0h1m8 0h2m4 0h1m17 0h2m15 0h1m34 0h3m4 0h1m23 0h2M4 106.5h7m3 0h6m1 0h5m3 0h4m2 0h7m1 0h1m1 0h9m1 0h2m1 0h6m1 0h1m3 0h5m1 0h3m1 0h5m1 0h1m1 0h1m2 0h7m3 0h1m1 0h15m2 0h4m1 0h3m3 0h3m2 0h3m1 0h7m2 0h2m1 0h1m1 0h3m1 0h4m4 0h1m1 0h1m1 0h4m1 0h3m3 0h2m1 0h1m5 0h1m2 0h3m1 0h3m1 0h2m2 0h1m2 0h8m5 0h1m1 0h1m1 0h1m2 0h3m4 0h2m1 0h6m2 0h4m2 0h6m1 0h5m2 0h4m1 0h5m1 0h3m3 0h1m5 0h3M17 107.5h2m12 0h1m17 0h1m1 0h2m2 0h1m7 0h1m13 0h1m1 0h3m1 0h1m3 0h1m2 0h1m11 0h2m1 0h4m3 0h4m3 0h4m2 0h2m8 0h3m4 0h1m1 0h2m14 0h1m8 0h3m3 0h1m16 0h3m21 0h1m29 0h2m4 0h1m13 0h1m10 0h1m10 0h1m1 0h1M0 108.5h1m3 0h7m5 0h4m2 0h3m2 0h2m2 0h2m1 0h9m1 0h1m1 0h14m2 0h3m2 0h1m1 0h3m4 0h6m1 0h1m3 0h1m2 0h1m2 0h2m4 0h1m2 0h9m1 0h5m1 0h9m1 0h2m1 0h7m1 0h9m3 0h5m3 0h3m5 0h1m1 0h4m1 0h3m2 0h1m4 0h4m1 0h1m2 0h6m2 0h1m2 0h2m1 0h1m3 0h1m2 0h2m1 0h1m3 0h1m1 0h1m2 0h1m2 0h1m1 0h1m3 0h3m1 0h1m1 0h3m2 0h4m3 0h3m1 0h1m1 0h1m1 0h3m2 0h3m2 0h4m2 0h3m3 0h1m1 0h2m2 0h4m1 0h1M17 109.5h1m9 0h1m20 0h1m16 0h1m10 0h2m1 0h3m5 0h1m2 0h1m11 0h2m1 0h2m5 0h2m4 0h3m1 0h1m1 0h1m7 0h2m1 0h3m6 0h2m14 0h2m7 0h2m4 0h1m18 0h1m50 0h2m31 0h1m4 0h1m4 0h1m1 0h1M0 110.5h4m2 0h1m2 0h2m2 0h2m1 0h4m1 0h9m1 0h2m1 0h3m1 0h5m1 0h1m1 0h3m2 0h1m1 0h1m1 0h5m1 0h3m1 0h1m1 0h1m1 0h3m4 0h7m3 0h8m1 0h3m1 0h1m2 0h2m1 0h3m2 0h1m1 0h3m4 0h7m2 0h2m2 0h6m1 0h3m1 0h3m1 0h3m2 0h6m1 0h3m1 0h4m2 0h3m1 0h4m2 0h1m1 0h10m1 0h6m1 0h3m4 0h1m1 0h1m5 0h1m1 0h1m2 0h5m1 0h1m2 0h3m1 0h2m1 0h1m1 0h6m1 0h3m1 0h1m3 0h4m3 0h10m1 0h4m3 0h3m2 0h1m4 0h6M1 111.5h2m29 0h1m15 0h1m7 0h2m7 0h1m13 0h4m7 0h1m11 0h1m2 0h2m12 0h2m3 0h1m7 0h2m1 0h3m6 0h2m14 0h2m13 0h1m18 0h1m1 0h1m19 0h1m29 0h1m19 0h3m21 0h1M1 112.5h3m1 0h1m3 0h2m4 0h2m1 0h2m1 0h4m3 0h2m1 0h2m1 0h2m1 0h1m8 0h8m1 0h5m1 0h1m2 0h1m1 0h2m1 0h3m1 0h1m3 0h7m2 0h2m1 0h2m1 0h6m2 0h1m1 0h1m2 0h3m4 0h1m2 0h1m2 0h3m3 0h3m1 0h10m1 0h7m1 0h2m2 0h1m1 0h1m1 0h3m1 0h4m3 0h1m2 0h3m1 0h1m1 0h2m1 0h1m1 0h11m2 0h4m2 0h3m3 0h1m2 0h1m5 0h1m1 0h2m4 0h2m1 0h1m3 0h2m1 0h1m4 0h3m3 0h1m2 0h1m2 0h1m2 0h2m1 0h7m1 0h6m1 0h5m1 0h2m4 0h1m4 0h6M32 113.5h1m15 0h1m2 0h1m4 0h2m18 0h1m2 0h4m7 0h1m11 0h1m3 0h2m6 0h2m10 0h1m5 0h1m2 0h3m5 0h1m1 0h1m14 0h1m12 0h1m1 0h1m19 0h2m19 0h1m29 0h1m16 0h6m18 0h1M1 114.5h2m1 0h2m2 0h3m3 0h3m1 0h2m1 0h4m2 0h6m1 0h2m1 0h1m3 0h2m1 0h1m2 0h1m3 0h1m3 0h5m1 0h1m2 0h3m4 0h4m2 0h6m1 0h1m1 0h2m2 0h1m1 0h6m2 0h1m1 0h1m2 0h4m3 0h1m1 0h3m3 0h3m3 0h1m1 0h10m2 0h8m1 0h3m3 0h3m2 0h3m2 0h1m4 0h2m1 0h1m1 0h1m1 0h1m1 0h2m1 0h6m2 0h1m2 0h1m1 0h2m2 0h3m1 0h1m1 0h1m3 0h6m1 0h3m3 0h4m6 0h1m1 0h1m2 0h1m5 0h5m1 0h3m3 0h3m2 0h2m1 0h6m1 0h9m2 0h1m4 0h2m2 0h1m1 0h2M28 115.5h1m2 0h2m18 0h1m12 0h2m15 0h3m6 0h1m11 0h2m2 0h1m7 0h2m16 0h1m2 0h3m7 0h1m14 0h1m10 0h1m3 0h1m40 0h1m29 0h2m16 0h1m1 0h2m9 0h1m9 0h1M1 116.5h2m5 0h3m3 0h7m1 0h1m1 0h1m2 0h9m1 0h1m1 0h2m3 0h1m2 0h1m1 0h3m2 0h2m3 0h1m1 0h1m2 0h3m1 0h2m1 0h2m1 0h3m1 0h6m3 0h12m1 0h8m5 0h8m1 0h1m3 0h1m1 0h1m1 0h11m1 0h4m2 0h5m2 0h1m4 0h3m2 0h1m3 0h1m1 0h1m1 0h1m1 0h1m1 0h1m2 0h1m1 0h1m2 0h3m1 0h8m2 0h7m3 0h2m3 0h1m1 0h3m3 0h3m1 0h2m4 0h1m4 0h2m1 0h4m1 0h3m1 0h5m1 0h5m3 0h6m4 0h1m1 0h2m1 0h5m3 0h2m2 0h1m1 0h2M17 117.5h1m10 0h1m2 0h2m18 0h1m5 0h1m6 0h2m10 0h1m5 0h1m4 0h1m2 0h1m11 0h1m3 0h1m7 0h3m2 0h1m1 0h1m10 0h1m10 0h1m1 0h1m14 0h2m9 0h1m3 0h1m69 0h3m16 0h1m2 0h1m19 0h1M1 118.5h2m6 0h2m3 0h1m1 0h10m1 0h2m2 0h4m4 0h6m3 0h8m1 0h1m2 0h7m1 0h2m1 0h2m2 0h4m2 0h3m1 0h4m1 0h6m1 0h2m1 0h3m1 0h1m1 0h3m2 0h7m4 0h3m1 0h1m1 0h1m1 0h3m3 0h1m1 0h2m1 0h1m1 0h5m1 0h4m2 0h1m1 0h1m2 0h1m1 0h1m2 0h1m1 0h1m1 0h3m1 0h1m1 0h5m1 0h2m7 0h1m2 0h1m1 0h1m1 0h2m1 0h4m5 0h8m1 0h1m2 0h1m2 0h3m1 0h1m3 0h2m5 0h3m1 0h1m1 0h3m1 0h2m1 0h1m2 0h2m3 0h1m1 0h7m1 0h2m6 0h10m1 0h4M17 119.5h1m10 0h1m2 0h2m10 0h1m6 0h3m2 0h1m7 0h3m10 0h1m5 0h2m6 0h1m11 0h2m2 0h1m7 0h2m27 0h2m2 0h1m25 0h1m71 0h3m15 0h2m25 0h1M0 120.5h10m4 0h11m3 0h1m2 0h5m3 0h5m2 0h3m1 0h4m1 0h3m2 0h6m2 0h4m3 0h2m2 0h5m1 0h4m1 0h3m2 0h4m1 0h4m1 0h3m6 0h7m1 0h2m1 0h2m1 0h1m1 0h2m3 0h2m2 0h7m1 0h1m1 0h4m3 0h2m3 0h3m1 0h1m1 0h1m1 0h1m3 0h5m1 0h4m4 0h1m5 0h1m1 0h4m1 0h1m2 0h6m1 0h3m2 0h1m2 0h1m2 0h1m3 0h2m1 0h5m3 0h1m1 0h2m1 0h1m1 0h11m1 0h2m4 0h8m2 0h1m1 0h3m6 0h6m2 0h3M17 121.5h1m9 0h1m3 0h2m10 0h1m6 0h3m2 0h3m4 0h2m5 0h1m6 0h1m4 0h5m20 0h1m30 0h1m2 0h1m2 0h1m3 0h1m13 0h1m11 0h1m6 0h2m13 0h2m42 0h1m5 0h3m15 0h2m2 0h1m6 0h1M0 122.5h5m2 0h2m5 0h2m1 0h1m1 0h6m2 0h2m1 0h4m2 0h1m6 0h1m2 0h3m2 0h3m1 0h3m2 0h5m1 0h6m1 0h4m1 0h2m1 0h3m1 0h5m1 0h3m1 0h2m1 0h1m1 0h1m1 0h2m2 0h3m8 0h3m2 0h2m2 0h1m1 0h1m1 0h5m1 0h2m1 0h7m2 0h5m3 0h3m1 0h8m1 0h1m3 0h10m5 0h2m1 0h1m1 0h4m1 0h1m1 0h1m1 0h8m1 0h2m1 0h2m1 0h3m1 0h1m3 0h2m1 0h4m2 0h1m1 0h12m1 0h1m1 0h1m6 0h11m1 0h1m1 0h3m4 0h5m3 0h1m3 0h1M17 123.5h1m13 0h1m19 0h1m3 0h2m6 0h1m2 0h1m14 0h1m1 0h1m1 0h1m1 0h1m5 0h1m12 0h2m10 0h1m1 0h1m11 0h2m9 0h1m1 0h1m14 0h2m11 0h1m6 0h2m12 0h3m18 0h1m2 0h1m21 0h1m1 0h6m15 0h2m1 0h1m7 0h1M1 124.5h4m2 0h2m3 0h2m3 0h1m1 0h1m4 0h1m2 0h3m1 0h2m1 0h3m2 0h1m3 0h1m1 0h3m2 0h7m3 0h1m2 0h1m2 0h1m1 0h1m3 0h3m2 0h5m1 0h11m1 0h4m3 0h2m1 0h5m4 0h1m2 0h1m1 0h4m3 0h1m1 0h1m1 0h5m2 0h2m1 0h1m2 0h5m2 0h1m2 0h1m2 0h2m2 0h10m3 0h1m2 0h7m8 0h6m1 0h1m7 0h4m2 0h1m1 0h2m1 0h3m2 0h1m1 0h1m1 0h1m1 0h4m4 0h2m1 0h9m3 0h1m2 0h15m3 0h5m2 0h2m3 0h1m2 0h1m3 0h1M28 125.5h1m2 0h1m19 0h1m3 0h2m21 0h1m2 0h1m1 0h5m5 0h1m12 0h2m24 0h2m6 0h1m1 0h1m1 0h2m14 0h2m2 0h1m8 0h1m6 0h1m13 0h2m19 0h1m2 0h2m22 0h1m2 0h1m1 0h1m26 0h1M1 126.5h2m1 0h1m3 0h1m2 0h2m1 0h2m2 0h1m4 0h2m2 0h3m1 0h3m1 0h1m2 0h2m1 0h3m1 0h3m2 0h2m1 0h4m4 0h6m1 0h1m4 0h6m1 0h2m1 0h5m2 0h4m1 0h4m1 0h2m1 0h1m1 0h8m1 0h9m1 0h3m1 0h1m1 0h5m5 0h1m1 0h1m1 0h4m1 0h2m2 0h1m2 0h3m1 0h6m1 0h3m3 0h1m2 0h2m1 0h7m7 0h3m2 0h1m1 0h2m1 0h6m1 0h1m2 0h1m1 0h9m2 0h1m1 0h9m3 0h4m1 0h4m2 0h7m1 0h1m7 0h5m1 0h4m2 0h2m6 0h1m1 0h2M17 127.5h1m6 0h1m3 0h1m2 0h2m17 0h2m2 0h1m9 0h2m10 0h3m5 0h4m2 0h1m2 0h1m11 0h2m12 0h2m12 0h1m6 0h1m3 0h1m49 0h2m8 0h1m10 0h1m1 0h3m19 0h1m5 0h1m17 0h1m4 0h1m5 0h1M1 128.5h2m1 0h1m3 0h5m2 0h1m7 0h2m2 0h9m2 0h2m4 0h13m2 0h1m2 0h2m1 0h1m2 0h1m2 0h1m3 0h4m2 0h7m2 0h4m4 0h3m1 0h5m1 0h9m2 0h2m1 0h5m1 0h1m1 0h2m1 0h1m6 0h1m3 0h2m5 0h1m1 0h1m2 0h2m1 0h2m1 0h4m1 0h7m2 0h3m1 0h4m1 0h4m4 0h3m2 0h7m1 0h3m1 0h1m2 0h1m1 0h10m1 0h1m5 0h8m1 0h1m1 0h4m1 0h1m1 0h1m3 0h1m1 0h4m1 0h1m1 0h2m1 0h3m4 0h8m4 0h6M24 129.5h1m2 0h2m22 0h1m2 0h1m1 0h1m20 0h1m12 0h1m2 0h1m8 0h2m1 0h4m7 0h1m2 0h2m23 0h1m41 0h1m4 0h1m2 0h2m8 0h1m10 0h1m1 0h3m27 0h1m15 0h2m1 0h2M1 130.5h1m4 0h1m1 0h5m4 0h8m2 0h10m2 0h2m7 0h2m1 0h8m3 0h5m4 0h1m2 0h4m1 0h1m2 0h1m2 0h4m1 0h4m1 0h13m1 0h8m1 0h4m2 0h3m1 0h1m1 0h1m1 0h2m6 0h6m3 0h1m1 0h4m1 0h2m1 0h1m1 0h1m1 0h3m1 0h7m2 0h6m3 0h3m1 0h1m1 0h1m1 0h4m1 0h5m1 0h2m1 0h1m2 0h1m2 0h1m1 0h7m3 0h2m3 0h10m1 0h3m1 0h1m1 0h1m1 0h3m2 0h1m1 0h3m1 0h2m1 0h2m1 0h3m4 0h5m1 0h1m1 0h2m2 0h1m3 0h3m1 0h1M24 131.5h1m3 0h1m25 0h1m2 0h1m6 0h1m12 0h1m15 0h1m8 0h2m2 0h1m2 0h1m1 0h1m4 0h1m1 0h3m1 0h1m19 0h3m16 0h1m2 0h1m21 0h1m7 0h1m1 0h1m7 0h1m10 0h1m3 0h1m25 0h1m11 0h2m4 0h2m1 0h3m12 0h2M1 132.5h1m1 0h1m2 0h1m1 0h7m2 0h9m1 0h5m2 0h3m2 0h8m3 0h1m1 0h7m3 0h3m1 0h3m2 0h3m1 0h1m1 0h1m4 0h1m4 0h2m4 0h1m1 0h3m1 0h1m1 0h9m1 0h1m1 0h14m1 0h1m1 0h1m2 0h4m3 0h6m1 0h1m1 0h2m2 0h2m1 0h6m1 0h3m1 0h1m1 0h4m5 0h2m5 0h3m1 0h1m2 0h5m2 0h6m1 0h1m2 0h2m2 0h1m1 0h2m2 0h1m2 0h1m1 0h1m1 0h2m2 0h4m1 0h13m1 0h10m1 0h1m1 0h3m1 0h5m2 0h5m1 0h1m1 0h2m2 0h1m3 0h4M23 133.5h2m2 0h1m13 0h2m9 0h1m2 0h3m18 0h2m15 0h1m8 0h2m4 0h2m6 0h1m1 0h3m21 0h3m16 0h1m2 0h1m21 0h1m7 0h1m8 0h1m11 0h1m23 0h1m2 0h1m1 0h2m10 0h1m6 0h2m1 0h2m5 0h1M6 134.5h1m1 0h1m1 0h1m1 0h3m2 0h1m1 0h9m3 0h1m2 0h3m1 0h9m1 0h19m1 0h1m2 0h7m5 0h8m2 0h1m1 0h2m2 0h1m1 0h4m1 0h11m1 0h5m3 0h1m1 0h5m2 0h1m1 0h2m1 0h6m1 0h1m1 0h2m1 0h3m1 0h4m1 0h7m1 0h2m1 0h1m5 0h5m2 0h3m1 0h1m1 0h5m2 0h6m1 0h12m1 0h6m3 0h2m1 0h29m4 0h5m1 0h2m2 0h4m2 0h3m3 0h1m1 0h1m5 0h1M41 135.5h3m6 0h4m22 0h2m6 0h3m6 0h1m8 0h2m3 0h4m5 0h1m1 0h4m20 0h2m1 0h1m40 0h1m4 0h1m2 0h1m6 0h1m1 0h1m35 0h1m2 0h4m1 0h1m16 0h1m1 0h2m5 0h1M4 136.5h3m4 0h4m4 0h3m1 0h1m1 0h24m1 0h6m1 0h1m1 0h1m3 0h16m5 0h7m1 0h6m2 0h11m1 0h2m1 0h2m1 0h4m2 0h3m1 0h2m2 0h1m1 0h2m1 0h9m1 0h2m1 0h1m1 0h3m1 0h1m7 0h4m1 0h12m1 0h15m1 0h1m2 0h4m1 0h1m3 0h3m2 0h2m1 0h2m3 0h1m1 0h1m1 0h8m3 0h12m1 0h8m4 0h6m2 0h1m1 0h5m1 0h4m2 0h1m1 0h2m1 0h1m2 0h1M19 137.5h2m21 0h3m5 0h5m10 0h1m10 0h2m6 0h3m6 0h1m8 0h1m2 0h5m6 0h1m1 0h4m18 0h1m1 0h1m37 0h1m5 0h1m2 0h1m1 0h1m2 0h3m4 0h1m1 0h1m6 0h1m18 0h3m7 0h2m1 0h4m9 0h1m2 0h1m4 0h1m2 0h3M0 138.5h6m5 0h5m1 0h1m1 0h18m1 0h2m1 0h1m1 0h4m1 0h1m1 0h10m3 0h1m1 0h2m1 0h1m2 0h20m1 0h6m2 0h9m1 0h3m3 0h1m1 0h5m1 0h3m1 0h2m3 0h2m1 0h1m1 0h3m1 0h1m5 0h1m1 0h1m1 0h2m6 0h22m2 0h13m1 0h1m2 0h6m4 0h4m1 0h1m1 0h4m1 0h1m4 0h19m5 0h5m1 0h1m4 0h2m1 0h3m1 0h5m1 0h2m1 0h2m1 0h1m1 0h4m2 0h1m2 0h1M19 139.5h2m20 0h1m1 0h3m5 0h7m18 0h5m3 0h3m15 0h1m2 0h2m4 0h1m8 0h3m43 0h1m10 0h3m1 0h1m4 0h1m2 0h1m1 0h1m2 0h3m4 0h1m1 0h2m1 0h1m24 0h1m7 0h2m14 0h1m2 0h1m7 0h3m21 0h1M0 140.5h4m1 0h2m2 0h5m3 0h4m2 0h2m5 0h1m2 0h4m1 0h3m1 0h8m1 0h9m3 0h10m1 0h1m1 0h29m1 0h7m2 0h4m1 0h3m1 0h3m1 0h18m1 0h4m2 0h2m5 0h5m1 0h5m1 0h3m2 0h5m2 0h4m1 0h18m3 0h3m5 0h1m4 0h1m3 0h1m2 0h16m5 0h3m1 0h1m1 0h5m1 0h2m1 0h6m2 0h4m2 0h3m1 0h4m2 0h1m2 0h1M19 141.5h2m2 0h1m19 0h1m7 0h7m6 0h1m11 0h5m5 0h1m3 0h1m11 0h2m2 0h1m1 0h1m1 0h2m8 0h1m14 0h3m2 0h1m22 0h2m1 0h1m10 0h5m4 0h1m2 0h1m1 0h1m2 0h2m3 0h1m1 0h1m1 0h2m1 0h1m3 0h1m20 0h1m7 0h2m5 0h2m7 0h1m1 0h2m4 0h2m1 0h3m11 0h3m7 0h1M0 142.5h1m2 0h1m1 0h2m1 0h7m4 0h10m1 0h2m1 0h1m3 0h4m1 0h2m1 0h16m1 0h1m1 0h1m2 0h5m1 0h2m1 0h5m2 0h11m3 0h1m2 0h1m1 0h11m3 0h6m3 0h2m5 0h2m1 0h7m2 0h6m3 0h5m1 0h3m1 0h2m1 0h1m2 0h2m1 0h24m1 0h1m1 0h9m2 0h5m2 0h2m5 0h5m1 0h3m2 0h19m1 0h6m1 0h3m1 0h10m2 0h9m1 0h6M11 143.5h1m7 0h2m3 0h1m8 0h1m8 0h2m6 0h2m1 0h5m6 0h1m11 0h5m5 0h1m3 0h1m14 0h7m4 0h1m1 0h2m15 0h1m4 0h1m22 0h2m1 0h1m8 0h1m1 0h3m1 0h1m3 0h2m7 0h2m3 0h1m3 0h2m1 0h1m3 0h1m20 0h1m7 0h2m4 0h4m6 0h1m1 0h2m4 0h2m1 0h2m12 0h3M0 144.5h1m2 0h1m1 0h1m2 0h5m1 0h1m4 0h13m1 0h1m3 0h4m1 0h4m3 0h3m1 0h8m3 0h9m1 0h1m1 0h5m2 0h12m2 0h4m4 0h8m1 0h6m1 0h2m1 0h1m4 0h4m1 0h2m1 0h10m1 0h10m1 0h1m2 0h5m5 0h8m1 0h9m1 0h1m1 0h7m1 0h7m2 0h1m2 0h3m1 0h5m1 0h6m1 0h19m2 0h14m1 0h2m1 0h1m1 0h16m1 0h1m2 0h2M11 145.5h1m7 0h1m4 0h1m17 0h2m1 0h1m4 0h2m1 0h5m4 0h1m1 0h1m6 0h1m4 0h5m3 0h3m20 0h4m7 0h2m1 0h1m18 0h1m21 0h5m10 0h3m5 0h1m8 0h2m2 0h1m2 0h1m1 0h2m1 0h1m3 0h1m15 0h2m5 0h2m4 0h2m6 0h2m6 0h1m1 0h2m4 0h2m1 0h3m11 0h3m7 0h1M0 146.5h6m2 0h4m2 0h1m2 0h3m2 0h4m1 0h2m1 0h2m1 0h1m3 0h4m1 0h17m3 0h1m1 0h18m1 0h18m3 0h1m2 0h4m1 0h3m2 0h6m1 0h1m1 0h1m1 0h7m1 0h7m1 0h2m2 0h3m1 0h5m2 0h8m1 0h12m1 0h1m1 0h3m1 0h5m1 0h3m2 0h1m2 0h8m1 0h12m1 0h1m1 0h10m1 0h8m2 0h3m2 0h10m2 0h7m2 0h2m3 0h1m2 0h10m1 0h1m1 0h1M3 147.5h1m7 0h1m7 0h1m4 0h1m6 0h1m10 0h2m1 0h1m2 0h4m2 0h4m4 0h1m8 0h2m3 0h4m1 0h1m1 0h4m6 0h1m13 0h4m9 0h3m17 0h1m2 0h1m18 0h5m8 0h1m1 0h3m5 0h1m5 0h1m2 0h2m2 0h1m2 0h1m1 0h4m3 0h1m15 0h2m1 0h3m1 0h1m5 0h2m7 0h1m2 0h1m1 0h3m1 0h2m4 0h2m1 0h3m11 0h3m4 0h2m2 0h1M0 148.5h6m1 0h8m2 0h4m1 0h4m1 0h2m1 0h4m5 0h14m1 0h5m3 0h1m1 0h9m3 0h20m1 0h4m1 0h1m1 0h2m1 0h18m1 0h1m1 0h4m3 0h2m1 0h3m1 0h2m1 0h1m2 0h3m1 0h7m1 0h26m1 0h1m2 0h9m2 0h8m1 0h12m1 0h9m1 0h11m1 0h1m1 0h9m1 0h2m2 0h1m1 0h10m4 0h2m1 0h10m1 0h1m1 0h1M3 149.5h1m7 0h1m7 0h2m2 0h2m6 0h2m12 0h1m2 0h2m4 0h4m13 0h2m3 0h4m3 0h4m6 0h1m2 0h1m11 0h1m1 0h1m5 0h1m3 0h3m17 0h1m1 0h1m14 0h2m3 0h5m10 0h5m3 0h1m5 0h1m3 0h1m7 0h4m3 0h1m16 0h1m1 0h3m1 0h2m13 0h1m2 0h1m1 0h3m1 0h2m7 0h3m11 0h3m4 0h2m2 0h1m1 0h1M2 150.5h2m1 0h15m2 0h7m1 0h4m3 0h4m1 0h17m3 0h1m1 0h1m1 0h1m2 0h12m1 0h6m2 0h1m1 0h2m1 0h8m1 0h7m1 0h13m3 0h5m2 0h2m1 0h11m3 0h2m3 0h3m1 0h15m1 0h5m3 0h7m2 0h4m3 0h8m1 0h3m1 0h12m1 0h5m1 0h1m2 0h5m4 0h7m1 0h2m1 0h6m1 0h2m1 0h7m1 0h5m1 0h3m1 0h6m1 0h1m1 0h1M11 151.5h2m6 0h1m11 0h2m10 0h1m1 0h1m7 0h5m13 0h2m6 0h1m3 0h4m6 0h2m1 0h1m10 0h2m9 0h1m3 0h1m6 0h3m8 0h1m16 0h2m3 0h2m1 0h2m6 0h1m3 0h5m3 0h1m5 0h1m13 0h1m11 0h3m7 0h1m1 0h3m6 0h1m7 0h3m2 0h1m1 0h2m1 0h3m7 0h3m3 0h1m7 0h3m4 0h2m2 0h1m1 0h1M2 152.5h1m2 0h3m1 0h12m1 0h1m2 0h1m2 0h6m3 0h5m1 0h6m2 0h8m3 0h1m1 0h1m1 0h11m2 0h1m1 0h6m5 0h11m1 0h10m2 0h7m2 0h1m2 0h9m1 0h3m2 0h1m2 0h6m1 0h3m1 0h3m1 0h4m1 0h1m2 0h2m2 0h2m2 0h5m2 0h14m5 0h1m1 0h1m1 0h2m1 0h2m5 0h1m1 0h1m1 0h11m1 0h2m1 0h5m1 0h3m1 0h9m1 0h8m1 0h8m1 0h4m1 0h4m2 0h4m1 0h4M11 153.5h2m6 0h1m11 0h2m8 0h1m3 0h1m5 0h1m3 0h3m12 0h3m6 0h1m2 0h5m6 0h4m14 0h1m6 0h1m3 0h1m5 0h4m3 0h2m3 0h1m8 0h3m5 0h3m2 0h2m1 0h1m7 0h2m3 0h4m3 0h2m4 0h1m13 0h1m11 0h1m1 0h1m6 0h2m1 0h3m6 0h1m7 0h3m2 0h5m1 0h2m4 0h1m1 0h4m3 0h1m7 0h3m4 0h2m1 0h2M0 154.5h1m1 0h2m1 0h2m1 0h6m5 0h4m2 0h4m2 0h12m1 0h8m1 0h1m1 0h4m2 0h3m1 0h1m1 0h8m2 0h3m2 0h5m1 0h2m2 0h11m1 0h6m2 0h5m1 0h5m2 0h2m1 0h17m1 0h1m1 0h8m1 0h3m1 0h15m2 0h11m2 0h3m5 0h3m1 0h1m1 0h4m8 0h4m2 0h9m2 0h1m1 0h5m1 0h18m2 0h11m1 0h9m2 0h4m1 0h3M5 155.5h2m4 0h2m18 0h2m8 0h2m1 0h2m1 0h5m2 0h4m13 0h2m6 0h1m2 0h1m10 0h1m22 0h1m1 0h1m3 0h1m12 0h3m2 0h1m1 0h2m6 0h2m5 0h3m2 0h2m9 0h2m3 0h4m3 0h2m5 0h2m5 0h1m1 0h1m3 0h1m11 0h1m1 0h1m6 0h2m1 0h3m13 0h4m2 0h5m1 0h2m4 0h6m3 0h1m7 0h3m3 0h3m1 0h1m1 0h2M0 156.5h1m1 0h1m2 0h11m4 0h4m3 0h1m1 0h23m1 0h1m1 0h5m1 0h3m1 0h10m1 0h4m1 0h2m1 0h1m1 0h1m1 0h2m1 0h4m1 0h1m2 0h4m1 0h2m1 0h4m1 0h1m1 0h5m3 0h4m5 0h1m1 0h11m1 0h2m3 0h11m1 0h2m1 0h1m1 0h3m1 0h12m1 0h3m2 0h6m1 0h6m3 0h2m3 0h1m5 0h16m2 0h1m5 0h1m1 0h8m1 0h9m2 0h11m2 0h8m2 0h4m1 0h1m1 0h1M11 157.5h2m28 0h2m4 0h4m4 0h3m13 0h2m6 0h1m1 0h2m10 0h1m12 0h1m9 0h1m1 0h1m16 0h3m2 0h1m1 0h3m5 0h2m5 0h3m13 0h3m1 0h3m5 0h2m4 0h1m1 0h1m4 0h2m5 0h1m11 0h3m6 0h2m1 0h3m13 0h1m1 0h2m2 0h5m1 0h2m4 0h1m1 0h2m15 0h1m3 0h3m1 0h1m1 0h1M0 158.5h8m1 0h7m1 0h1m2 0h4m3 0h1m1 0h14m1 0h20m1 0h1m1 0h7m1 0h5m1 0h2m1 0h6m1 0h3m2 0h1m2 0h8m1 0h1m3 0h1m1 0h6m8 0h1m2 0h1m1 0h13m1 0h13m1 0h2m1 0h19m1 0h3m2 0h5m1 0h6m1 0h6m2 0h1m4 0h31m1 0h2m2 0h13m2 0h1m2 0h4m2 0h5m1 0h3m2 0h8M7 159.5h1m3 0h2m28 0h2m1 0h1m2 0h4m3 0h4m2 0h1m6 0h1m3 0h2m4 0h3m1 0h2m2 0h2m6 0h1m10 0h3m1 0h1m9 0h2m2 0h1m11 0h4m2 0h1m1 0h2m5 0h3m5 0h3m1 0h1m4 0h1m6 0h1m1 0h1m1 0h3m5 0h2m9 0h1m1 0h2m3 0h1m1 0h2m10 0h1m8 0h2m1 0h1m2 0h3m10 0h1m1 0h1m3 0h8m4 0h1m1 0h2m19 0h2m3 0h3M0 160.5h8m1 0h4m1 0h3m1 0h1m1 0h4m1 0h3m3 0h4m1 0h7m1 0h1m1 0h15m2 0h5m3 0h3m1 0h1m1 0h12m2 0h3m1 0h2m1 0h11m1 0h5m1 0h4m2 0h5m1 0h1m1 0h2m1 0h11m1 0h24m1 0h1m1 0h11m1 0h6m1 0h1m2 0h6m1 0h6m1 0h12m1 0h7m1 0h2m1 0h17m2 0h13m1 0h11m1 0h4m1 0h6m2 0h4M3 161.5h2m2 0h1m3 0h2m8 0h2m16 0h4m1 0h1m1 0h4m4 0h4m2 0h1m6 0h1m3 0h3m4 0h1m2 0h5m7 0h1m2 0h1m11 0h1m9 0h2m2 0h1m12 0h3m2 0h1m1 0h2m5 0h3m5 0h4m4 0h2m6 0h1m1 0h1m1 0h3m5 0h2m4 0h1m3 0h5m3 0h1m2 0h1m3 0h1m15 0h2m4 0h1m12 0h1m1 0h1m3 0h8m4 0h1m2 0h3m3 0h1m7 0h1m5 0h2m3 0h3M1 162.5h12m1 0h1m1 0h7m2 0h3m3 0h3m2 0h14m1 0h1m1 0h9m1 0h9m1 0h3m1 0h2m2 0h6m1 0h1m1 0h11m6 0h2m1 0h3m2 0h1m1 0h4m1 0h5m1 0h16m1 0h9m1 0h8m1 0h5m1 0h1m1 0h28m1 0h6m1 0h9m4 0h1m2 0h4m1 0h2m1 0h8m4 0h5m2 0h25m1 0h5m1 0h1m1 0h9M3 163.5h2m6 0h2m8 0h2m16 0h5m2 0h3m6 0h3m2 0h1m6 0h3m1 0h1m1 0h1m4 0h1m1 0h2m1 0h3m7 0h1m2 0h1m10 0h2m6 0h1m2 0h3m1 0h1m12 0h2m2 0h2m8 0h3m6 0h3m13 0h2m1 0h3m5 0h2m7 0h4m1 0h1m6 0h1m19 0h1m3 0h1m1 0h1m12 0h1m1 0h2m2 0h8m2 0h4m3 0h1m3 0h1m7 0h1m6 0h2m1 0h4M2 164.5h4m1 0h7m5 0h9m3 0h2m3 0h8m2 0h7m1 0h25m1 0h6m1 0h14m3 0h23m1 0h9m2 0h15m1 0h1m1 0h5m2 0h2m1 0h2m1 0h1m1 0h16m1 0h3m2 0h8m1 0h6m1 0h7m1 0h1m1 0h8m1 0h6m1 0h6m1 0h6m2 0h18m2 0h6m1 0h3m6 0h1m2 0h4M3 165.5h2m3 0h5m8 0h4m2 0h1m13 0h3m5 0h3m4 0h2m2 0h1m6 0h3m1 0h3m4 0h1m1 0h2m1 0h3m7 0h1m1 0h2m10 0h2m5 0h2m1 0h7m4 0h1m6 0h2m3 0h1m5 0h1m2 0h3m6 0h4m12 0h1m2 0h3m5 0h2m7 0h6m1 0h1m4 0h3m12 0h1m4 0h1m2 0h2m1 0h1m1 0h1m12 0h2m2 0h8m2 0h3m4 0h1m3 0h1m14 0h1m3 0h1m1 0h1M3 166.5h3m2 0h6m1 0h15m1 0h2m3 0h2m3 0h5m4 0h3m3 0h20m1 0h11m4 0h20m2 0h10m1 0h1m2 0h2m2 0h22m1 0h1m2 0h8m1 0h4m1 0h8m1 0h31m1 0h4m3 0h16m3 0h3m1 0h3m1 0h2m1 0h16m2 0h1m1 0h4m2 0h1m1 0h1m1 0h4m3 0h1m2 0h2m1 0h1M3 167.5h2m3 0h1m1 0h3m4 0h1m3 0h2m1 0h1m2 0h2m2 0h2m8 0h3m1 0h1m4 0h2m2 0h1m1 0h2m2 0h1m6 0h3m1 0h3m4 0h1m1 0h2m1 0h4m6 0h1m1 0h2m7 0h1m2 0h2m5 0h2m2 0h1m1 0h4m4 0h1m7 0h5m8 0h3m6 0h4m2 0h2m8 0h1m10 0h2m4 0h7m1 0h3m1 0h8m5 0h1m4 0h1m8 0h1m1 0h1m1 0h1m13 0h1m2 0h1m1 0h2m1 0h2m3 0h4m3 0h1m3 0h1m5 0h1m9 0h1m2 0h1m1 0h1M1 168.5h5m2 0h17m1 0h11m1 0h9m2 0h4m3 0h5m1 0h3m1 0h23m1 0h13m1 0h8m2 0h3m1 0h1m1 0h7m1 0h3m1 0h3m1 0h11m1 0h14m2 0h2m1 0h4m2 0h3m1 0h1m1 0h33m1 0h4m4 0h15m3 0h2m1 0h3m2 0h3m1 0h6m1 0h2m1 0h6m1 0h1m1 0h1m1 0h3m1 0h8m1 0h2m1 0h6M3 169.5h2m3 0h1m1 0h3m4 0h1m3 0h2m8 0h2m7 0h4m1 0h1m4 0h1m9 0h1m6 0h3m1 0h2m5 0h4m1 0h4m5 0h2m10 0h1m9 0h3m1 0h1m1 0h4m11 0h6m8 0h2m6 0h5m13 0h1m15 0h4m1 0h4m1 0h1m1 0h8m3 0h1m1 0h1m4 0h1m7 0h2m1 0h1m1 0h1m13 0h1m2 0h1m1 0h2m1 0h1m4 0h5m2 0h1m3 0h1m5 0h1m1 0h1m5 0h1m1 0h1m2 0h1m1 0h1M0 170.5h1m1 0h4m2 0h7m1 0h9m1 0h2m1 0h7m1 0h2m1 0h7m1 0h6m1 0h6m1 0h11m4 0h5m1 0h6m1 0h8m1 0h1m1 0h5m1 0h2m4 0h6m1 0h5m3 0h1m1 0h16m1 0h5m4 0h6m2 0h1m1 0h5m1 0h1m1 0h4m2 0h8m1 0h13m1 0h23m2 0h7m1 0h3m1 0h5m1 0h4m1 0h7m1 0h1m1 0h13m1 0h9m1 0h2m1 0h6M3 171.5h2m2 0h6m4 0h1m6 0h1m6 0h2m7 0h4m1 0h1m2 0h3m2 0h1m6 0h1m10 0h2m6 0h3m1 0h5m3 0h2m9 0h1m1 0h1m2 0h1m6 0h2m1 0h2m1 0h1m17 0h2m9 0h2m6 0h4m16 0h1m1 0h1m11 0h4m4 0h1m1 0h1m1 0h1m2 0h3m5 0h1m5 0h2m7 0h1m1 0h2m1 0h1m11 0h3m2 0h7m5 0h3m2 0h1m3 0h1m5 0h1m1 0h1m5 0h1m3 0h2m1 0h1M0 172.5h1m1 0h4m1 0h7m2 0h9m2 0h8m2 0h18m3 0h1m1 0h6m1 0h3m1 0h3m1 0h19m5 0h1m1 0h2m1 0h2m1 0h3m1 0h10m1 0h1m1 0h1m3 0h1m1 0h11m1 0h2m1 0h7m1 0h15m1 0h2m2 0h2m1 0h8m1 0h1m1 0h1m2 0h10m1 0h1m1 0h8m3 0h3m1 0h8m2 0h5m1 0h1m1 0h3m1 0h10m1 0h9m2 0h4m2 0h3m1 0h7m1 0h14M3 173.5h2m2 0h5m5 0h1m4 0h1m4 0h1m3 0h2m7 0h6m2 0h4m1 0h2m5 0h1m10 0h2m6 0h1m4 0h4m3 0h3m8 0h1m1 0h1m2 0h2m5 0h2m1 0h1m1 0h2m7 0h1m9 0h2m6 0h1m2 0h2m6 0h4m1 0h5m7 0h1m1 0h4m11 0h4m4 0h3m6 0h1m11 0h2m7 0h1m1 0h2m1 0h1m11 0h1m6 0h1m1 0h1m7 0h3m12 0h1m1 0h1m5 0h1m3 0h2m1 0h1M0 174.5h12m1 0h1m2 0h10m1 0h1m1 0h6m2 0h18m1 0h7m1 0h5m1 0h4m2 0h4m2 0h12m2 0h10m1 0h9m1 0h4m2 0h4m1 0h1m1 0h14m2 0h22m1 0h6m1 0h8m1 0h1m1 0h1m2 0h12m3 0h2m1 0h5m1 0h2m2 0h8m2 0h2m1 0h2m1 0h5m2 0h9m1 0h1m1 0h13m1 0h3m3 0h4m1 0h1m1 0h1m2 0h5m1 0h5M3 175.5h1m3 0h4m6 0h1m3 0h3m7 0h2m10 0h3m2 0h1m1 0h1m2 0h2m12 0h2m2 0h2m9 0h1m1 0h4m4 0h1m4 0h3m3 0h2m2 0h2m5 0h2m2 0h4m1 0h1m4 0h1m9 0h3m5 0h1m3 0h2m5 0h10m7 0h1m17 0h1m1 0h4m1 0h1m1 0h1m3 0h1m4 0h1m18 0h1m1 0h1m2 0h1m10 0h2m1 0h1m4 0h1m4 0h1m1 0h6m7 0h1m4 0h1m1 0h1m5 0h1m4 0h3M1 176.5h4m1 0h6m1 0h1m2 0h2m1 0h1m1 0h7m1 0h6m2 0h2m1 0h6m1 0h10m1 0h2m1 0h2m1 0h6m1 0h2m1 0h1m1 0h4m1 0h8m2 0h2m3 0h6m2 0h6m1 0h1m2 0h13m1 0h1m1 0h3m2 0h9m2 0h2m1 0h3m1 0h1m2 0h11m2 0h2m1 0h4m4 0h4m1 0h3m4 0h10m2 0h3m2 0h12m1 0h6m1 0h3m1 0h6m2 0h6m4 0h4m1 0h11m1 0h1m3 0h1m5 0h16M2 177.5h2m3 0h4m11 0h1m1 0h1m6 0h2m7 0h1m4 0h1m2 0h3m2 0h1m8 0h1m4 0h3m12 0h5m16 0h1m10 0h2m2 0h6m4 0h1m10 0h1m6 0h1m3 0h2m5 0h5m2 0h2m8 0h1m17 0h1m1 0h8m8 0h1m5 0h1m3 0h1m12 0h1m11 0h2m4 0h1m1 0h2m2 0h2m1 0h2m1 0h2m1 0h1m5 0h1m5 0h1m1 0h1m8 0h1m1 0h3M2 178.5h3m1 0h6m1 0h1m2 0h1m1 0h2m1 0h7m1 0h17m1 0h1m1 0h5m2 0h1m1 0h3m1 0h10m1 0h2m1 0h4m1 0h6m1 0h2m1 0h3m2 0h2m5 0h1m2 0h1m1 0h4m1 0h4m1 0h6m1 0h2m1 0h3m1 0h5m1 0h7m1 0h6m1 0h2m1 0h11m2 0h2m1 0h6m1 0h3m1 0h2m1 0h2m2 0h12m3 0h2m3 0h5m1 0h10m3 0h1m2 0h1m1 0h1m5 0h2m2 0h3m1 0h1m2 0h5m1 0h10m1 0h3m1 0h1m4 0h4m3 0h1m1 0h2m1 0h5M7 179.5h4m10 0h2m8 0h1m7 0h1m10 0h2m1 0h1m6 0h1m7 0h2m11 0h1m2 0h3m5 0h1m4 0h1m16 0h2m5 0h3m4 0h1m10 0h1m6 0h1m3 0h1m6 0h1m1 0h3m2 0h2m8 0h1m1 0h1m10 0h1m2 0h2m2 0h8m4 0h1m3 0h1m3 0h1m1 0h1m4 0h1m10 0h1m18 0h4m2 0h1m2 0h1m2 0h2m1 0h1m13 0h1m8 0h1m2 0h2M1 180.5h1m1 0h1m1 0h3m1 0h4m1 0h1m2 0h3m1 0h2m4 0h1m1 0h1m1 0h2m3 0h5m3 0h8m1 0h1m2 0h2m1 0h3m2 0h6m1 0h1m2 0h1m1 0h1m2 0h4m1 0h3m1 0h1m2 0h4m2 0h3m3 0h1m2 0h1m1 0h3m2 0h4m1 0h1m1 0h4m1 0h2m1 0h3m1 0h10m1 0h19m1 0h4m6 0h9m1 0h2m1 0h2m2 0h13m7 0h5m1 0h1m3 0h3m1 0h1m1 0h1m2 0h5m4 0h9m4 0h10m1 0h9m1 0h1m4 0h4m1 0h6m1 0h2m1 0h2M6 181.5h1m2 0h2m6 0h1m3 0h2m16 0h1m20 0h1m5 0h1m1 0h2m11 0h1m2 0h3m10 0h1m16 0h2m6 0h2m4 0h1m9 0h3m7 0h3m8 0h3m2 0h3m7 0h1m12 0h1m2 0h1m2 0h3m1 0h4m9 0h4m7 0h1m8 0h3m8 0h1m10 0h1m3 0h1m3 0h1m1 0h3m2 0h2m3 0h1m4 0h1m2 0h1m8 0h1m2 0h2M1 182.5h1m2 0h1m1 0h8m3 0h1m1 0h6m2 0h1m1 0h1m1 0h1m3 0h1m1 0h3m1 0h2m1 0h1m1 0h6m3 0h1m3 0h1m2 0h2m1 0h5m2 0h5m2 0h1m1 0h1m1 0h4m1 0h1m3 0h3m2 0h2m3 0h2m2 0h1m1 0h3m1 0h8m2 0h2m1 0h2m1 0h1m1 0h1m2 0h1m2 0h5m1 0h5m1 0h14m1 0h5m5 0h3m3 0h1m4 0h5m1 0h5m2 0h5m1 0h1m1 0h2m3 0h5m1 0h3m1 0h3m1 0h1m1 0h7m5 0h7m1 0h1m1 0h1m2 0h6m1 0h13m1 0h1m2 0h3m1 0h9m1 0h5M5 183.5h2m3 0h1m6 0h1m3 0h2m8 0h1m7 0h1m1 0h1m4 0h1m1 0h1m13 0h2m2 0h1m2 0h1m3 0h1m7 0h1m1 0h2m18 0h1m10 0h2m1 0h1m20 0h3m17 0h2m6 0h1m7 0h1m12 0h1m6 0h1m4 0h1m5 0h2m4 0h3m7 0h1m10 0h1m19 0h1m3 0h1m3 0h1m6 0h2m3 0h1m4 0h1m2 0h1m5 0h1m2 0h1m2 0h2M1 184.5h1m4 0h3m1 0h4m2 0h9m2 0h1m1 0h1m2 0h1m3 0h6m2 0h1m1 0h8m3 0h3m2 0h2m1 0h2m1 0h2m3 0h1m2 0h1m3 0h5m3 0h1m2 0h4m3 0h2m2 0h1m1 0h1m7 0h8m1 0h1m3 0h2m1 0h1m2 0h2m4 0h5m1 0h2m4 0h1m2 0h8m5 0h3m2 0h1m2 0h3m1 0h6m1 0h5m2 0h1m2 0h1m1 0h1m2 0h1m5 0h2m3 0h10m1 0h2m1 0h9m1 0h3m1 0h3m1 0h8m1 0h8m1 0h3m2 0h1m1 0h2m1 0h1m1 0h2m1 0h3m1 0h3m2 0h4m1 0h5M4 185.5h1m3 0h1m8 0h1m3 0h2m24 0h1m5 0h1m8 0h2m2 0h1m2 0h1m44 0h2m1 0h1m20 0h1m1 0h1m16 0h1m8 0h1m7 0h1m13 0h1m2 0h1m2 0h1m1 0h1m2 0h1m11 0h2m1 0h1m13 0h2m18 0h1m3 0h1m2 0h3m2 0h1m6 0h2m3 0h1m4 0h1m2 0h1m5 0h1m2 0h2m1 0h2M1 186.5h6m1 0h3m1 0h3m1 0h3m1 0h4m3 0h6m2 0h4m1 0h1m1 0h1m1 0h4m2 0h4m1 0h1m2 0h1m1 0h1m1 0h2m1 0h6m1 0h1m1 0h6m1 0h1m1 0h2m1 0h3m1 0h3m1 0h1m1 0h4m3 0h1m4 0h4m1 0h5m1 0h1m1 0h1m1 0h4m1 0h1m2 0h2m4 0h2m2 0h1m1 0h4m2 0h1m1 0h17m4 0h8m1 0h4m1 0h1m1 0h10m1 0h2m1 0h1m3 0h2m2 0h3m1 0h5m1 0h3m2 0h7m2 0h7m1 0h3m1 0h13m1 0h3m2 0h1m1 0h2m1 0h1m1 0h2m1 0h1m1 0h1m2 0h1m3 0h4m1 0h5M3 187.5h1m1 0h1m3 0h1m7 0h1m5 0h1m3 0h1m1 0h4m11 0h2m1 0h1m4 0h1m9 0h2m5 0h1m17 0h1m3 0h2m4 0h2m4 0h1m5 0h3m2 0h2m12 0h1m29 0h1m6 0h2m9 0h4m11 0h3m1 0h3m2 0h1m5 0h1m4 0h2m7 0h1m1 0h1m5 0h2m22 0h1m3 0h2m3 0h1m5 0h2m8 0h1m2 0h1m5 0h1m2 0h1m2 0h2M1 188.5h1m1 0h3m2 0h7m1 0h4m3 0h3m2 0h2m1 0h8m2 0h1m2 0h3m2 0h1m2 0h2m1 0h1m3 0h2m1 0h14m2 0h2m2 0h3m1 0h2m1 0h11m1 0h4m1 0h2m1 0h3m1 0h5m1 0h3m3 0h2m1 0h2m1 0h3m3 0h10m1 0h3m1 0h1m1 0h1m2 0h4m1 0h6m2 0h10m1 0h2m1 0h5m1 0h3m1 0h5m1 0h1m1 0h2m2 0h2m1 0h5m4 0h1m1 0h3m1 0h13m1 0h4m1 0h2m1 0h10m1 0h2m2 0h2m1 0h7m1 0h4m1 0h2m1 0h1m3 0h4m1 0h5M1 189.5h1m1 0h1m5 0h2m6 0h1m6 0h1m3 0h2m1 0h2m8 0h1m2 0h2m6 0h1m9 0h2m5 0h1m3 0h1m13 0h1m3 0h2m4 0h3m2 0h3m4 0h3m2 0h2m12 0h1m10 0h2m7 0h1m15 0h3m11 0h2m2 0h1m8 0h1m3 0h4m1 0h1m5 0h1m4 0h3m6 0h3m5 0h4m25 0h2m2 0h2m2 0h1m11 0h1m2 0h1m5 0h1m2 0h2m1 0h2M0 190.5h2m1 0h3m2 0h6m2 0h2m2 0h5m3 0h11m2 0h1m2 0h6m1 0h3m1 0h6m1 0h4m2 0h7m1 0h4m3 0h3m1 0h1m3 0h10m1 0h4m1 0h5m1 0h4m2 0h3m3 0h2m1 0h2m1 0h5m2 0h4m2 0h2m2 0h7m2 0h1m2 0h1m1 0h6m2 0h3m3 0h4m1 0h2m1 0h5m1 0h3m1 0h10m1 0h3m3 0h3m4 0h1m1 0h6m1 0h11m2 0h3m1 0h1m1 0h6m1 0h2m1 0h7m1 0h2m2 0h1m1 0h2m1 0h1m1 0h1m1 0h1m2 0h3m1 0h4m1 0h5M1 191.5h1m1 0h1m2 0h1m2 0h2m6 0h1m6 0h1m2 0h1m3 0h1m9 0h1m3 0h1m5 0h1m10 0h2m5 0h1m3 0h1m17 0h1m5 0h2m3 0h3m9 0h2m22 0h1m5 0h1m3 0h1m2 0h1m12 0h4m11 0h1m11 0h1m4 0h1m3 0h1m5 0h1m13 0h3m5 0h5m15 0h1m11 0h3m14 0h1m8 0h1m3 0h1m1 0h1M0 192.5h7m2 0h2m1 0h2m2 0h2m2 0h5m1 0h3m2 0h1m1 0h1m3 0h7m1 0h2m2 0h1m1 0h1m4 0h1m1 0h3m1 0h2m1 0h5m2 0h8m4 0h5m1 0h2m2 0h7m1 0h4m1 0h5m1 0h5m1 0h4m2 0h2m3 0h3m2 0h2m1 0h1m1 0h6m2 0h2m1 0h4m7 0h11m3 0h6m2 0h1m1 0h5m1 0h5m1 0h16m6 0h6m1 0h7m1 0h2m3 0h3m1 0h1m1 0h9m1 0h1m1 0h5m4 0h1m2 0h4m1 0h1m1 0h2m1 0h1m1 0h1m1 0h4m1 0h2m1 0h1M1 193.5h1m1 0h3m3 0h2m6 0h1m6 0h1m2 0h1m3 0h1m9 0h2m9 0h1m9 0h2m9 0h1m17 0h1m5 0h2m3 0h3m10 0h1m1 0h1m20 0h1m8 0h2m16 0h4m7 0h1m2 0h1m12 0h1m3 0h1m14 0h1m8 0h3m5 0h1m2 0h2m15 0h1m2 0h2m7 0h2m15 0h2m7 0h1m3 0h1m2 0h1M1 194.5h6m2 0h5m1 0h4m1 0h5m2 0h2m1 0h4m7 0h5m1 0h1m4 0h3m1 0h1m3 0h4m2 0h2m3 0h7m1 0h1m4 0h2m1 0h2m1 0h5m2 0h2m3 0h3m8 0h5m2 0h1m1 0h1m3 0h1m1 0h5m2 0h1m2 0h1m2 0h3m1 0h5m1 0h1m10 0h10m2 0h1m1 0h2m1 0h1m1 0h2m1 0h1m3 0h5m1 0h4m3 0h2m2 0h4m1 0h4m1 0h3m2 0h4m1 0h1m1 0h2m2 0h7m2 0h3m1 0h1m1 0h9m1 0h6m1 0h1m1 0h1m1 0h6m1 0h7m1 0h1m2 0h3m1 0h2m1 0h2M3 195.5h3m3 0h2m6 0h1m5 0h2m2 0h1m3 0h1m10 0h1m7 0h1m12 0h1m23 0h1m9 0h2m3 0h3m9 0h2m1 0h1m10 0h1m9 0h1m8 0h3m1 0h1m13 0h4m5 0h1m1 0h2m1 0h1m11 0h1m2 0h3m3 0h1m19 0h3m8 0h2m15 0h1m2 0h1m8 0h1m4 0h1m11 0h2m1 0h1m5 0h1m3 0h2m1 0h1M3 196.5h3m2 0h6m3 0h2m1 0h1m2 0h2m1 0h2m2 0h5m5 0h2m1 0h3m4 0h1m1 0h5m5 0h7m2 0h1m2 0h4m3 0h1m1 0h3m1 0h2m3 0h1m1 0h7m1 0h14m1 0h1m2 0h1m5 0h1m1 0h2m1 0h2m2 0h4m1 0h12m1 0h1m2 0h3m6 0h6m2 0h2m1 0h2m1 0h11m1 0h8m2 0h2m1 0h5m2 0h3m1 0h3m2 0h4m4 0h6m1 0h3m1 0h3m5 0h2m2 0h3m2 0h1m1 0h3m2 0h1m1 0h7m4 0h5m1 0h1m3 0h2m2 0h1m1 0h2M3 197.5h2m4 0h2m6 0h1m5 0h2m2 0h1m3 0h2m8 0h1m10 0h1m11 0h3m20 0h1m9 0h2m3 0h3m12 0h1m20 0h1m5 0h1m6 0h1m13 0h4m5 0h1m1 0h2m13 0h1m2 0h5m21 0h3m9 0h1m15 0h1m2 0h2m3 0h1m3 0h1m4 0h1m1 0h2m3 0h1m3 0h1m1 0h1m1 0h1m5 0h1m5 0h2M1 198.5h6m1 0h5m1 0h1m2 0h1m2 0h5m2 0h6m5 0h1m1 0h3m1 0h2m1 0h1m2 0h1m1 0h4m2 0h2m2 0h1m1 0h6m2 0h7m2 0h4m2 0h2m1 0h1m2 0h6m1 0h1m1 0h4m1 0h4m1 0h2m3 0h1m1 0h6m1 0h1m1 0h1m2 0h3m1 0h4m2 0h4m3 0h1m2 0h3m1 0h1m2 0h2m2 0h9m1 0h3m1 0h3m7 0h4m1 0h27m1 0h6m3 0h1m1 0h4m3 0h1m7 0h4m2 0h3m1 0h4m1 0h1m1 0h10m2 0h3m1 0h5m3 0h1m2 0h5M1 199.5h4m3 0h3m6 0h1m5 0h2m2 0h3m1 0h2m8 0h1m5 0h1m2 0h3m2 0h1m9 0h4m4 0h1m13 0h1m9 0h2m5 0h1m12 0h1m3 0h2m12 0h4m9 0h1m2 0h1m13 0h4m5 0h1m1 0h3m12 0h1m2 0h5m6 0h1m5 0h1m1 0h1m6 0h3m5 0h1m3 0h1m15 0h1m2 0h2m3 0h3m6 0h1m1 0h2m7 0h1m1 0h3m5 0h1m4 0h3M58 200.5h2m78 0h2m101 0h3m1 0h3m7 0h2M2 201.5h3m8 0h3m10 0h2m30 0h2m4 0h3m27 0h2m5 0h3m5 0h2m27 0h2m40 0h3m44 0h3m11 0h3m1 0h3m7 0h2M2 202.5h3m3 0h2m3 0h3m1 0h3m1 0h3m2 0h2m11 0h3m16 0h2m4 0h3m17 0h2m8 0h3m4 0h3m5 0h2m1 0h6m3 0h2m5 0h2m2 0h2m4 0h2m17 0h3m9 0h2m9 0h6m10 0h2m29 0h3m11 0h12m2 0h2m6 0h3m5 0h3m2 0h2m2 0h2M2 203.5h3m3 0h2m3 0h11m2 0h2m1 0h2m8 0h3m9 0h3m1 0h5m3 0h4m2 0h7m1 0h9m4 0h2m2 0h6m1 0h3m2 0h5m1 0h6m1 0h4m5 0h2m2 0h4m2 0h3m1 0h2m4 0h6m3 0h3m1 0h3m5 0h2m4 0h3m2 0h6m8 0h4m9 0h3m3 0h4m10 0h3m1 0h2m1 0h2m5 0h12m2 0h11m5 0h3m2 0h6m10 0h2M2 204.5h4m1 0h3m2 0h16m1 0h8m2 0h9m1 0h11m1 0h28m1 0h2m1 0h18m1 0h11m3 0h1m1 0h3m1 0h4m2 0h3m1 0h18m1 0h3m5 0h2m2 0h5m2 0h7m1 0h4m1 0h25m9 0h3m1 0h5m2 0h31m1 0h24M0 205.5h127m1 0h166M0 206.5h2m1 0h2m65 0h3m39 0h3m77 0h3m89 0h3M0 207.5h5m3 0h5m9 0h3m2 0h2m6 0h3m9 0h2m4 0h3m5 0h5m4 0h4m6 0h5m3 0h4m4 0h5m5 0h3m1 0h8m1 0h2m11 0h4m8 0h3m9 0h7m7 0h13m2 0h6m1 0h3m13 0h3m4 0h3m3 0h4m1 0h2m10 0h3m1 0h4m2 0h10m13 0h2m2 0h3m6 0h4m2 0h3M0 208.5h5m2 0h9m3 0h2m1 0h3m2 0h12m6 0h4m2 0h9m1 0h5m1 0h12m1 0h6m1 0h5m3 0h6m5 0h15m1 0h5m1 0h3m1 0h4m1 0h4m2 0h4m2 0h16m1 0h2m2 0h13m2 0h6m1 0h3m5 0h3m1 0h9m2 0h19m1 0h2m1 0h8m2 0h11m2 0h5m3 0h24M0 209.5h5m1 0h10m1 0h4m1 0h17m6 0h4m2 0h9m1 0h5m1 0h27m1 0h7m3 0h22m1 0h14m1 0h22m1 0h17m2 0h10m5 0h13m1 0h33m1 0h11m2 0h33M0 210.5h49m1 0h10m1 0h43m1 0h22m1 0h14m1 0h22m1 0h30m4 0h94M0 211.5h127m1 0h166M0 212.5h127m1 0h166M0 213.5h127m1 0h166M0 214.5h127m1 0h166M0 215.5h127m1 0h166M43 216.5h4m32 0h2m91 0h3m26 0h5m13 0h3m12 0h2m37 0h5M9 217.5h3m4 0h2m2 0h3m1 0h4m1 0h2m10 0h15m14 0h4m3 0h4m5 0h3m1 0h2m10 0h3m1 0h3m3 0h3m1 0h3m3 0h5m1 0h5m2 0h4m1 0h4m4 0h4m20 0h3m1 0h3m1 0h2m3 0h5m11 0h5m8 0h3m2 0h4m5 0h3m1 0h6m2 0h4m6 0h2m2 0h2m6 0h2m9 0h5m4 0h4M1 218.5h4m4 0h5m2 0h3m1 0h8m1 0h2m1 0h3m3 0h21m2 0h3m3 0h7m3 0h4m3 0h5m1 0h3m1 0h5m3 0h3m1 0h3m1 0h10m2 0h5m1 0h11m1 0h4m1 0h2m1 0h8m1 0h3m1 0h4m2 0h8m1 0h7m2 0h5m2 0h4m5 0h6m1 0h18m2 0h10m2 0h16m3 0h6m2 0h2m1 0h2m1 0h8m1 0h9M1 219.5h18m1 0h8m1 0h37m1 0h16m1 0h9m1 0h5m1 0h9m1 0h11m1 0h5m1 0h19m1 0h43m1 0h4m1 0h41m2 0h25m2 0h2m1 0h2m1 0h8m1 0h12M0 220.5h127m1 0h166M0 221.5h127m1 0h166M0 222.5h127m1 0h166M0 223.5h127m1 0h166M0 224.5h127m1 0h166M0 225.5h127m1 0h166M14 226.5h2m14 0h3m11 0h3m6 0h3m10 0h2m12 0h2m19 0h2m61 0h3m1 0h3m15 0h3m1 0h3m33 0h3m18 0h3M0 227.5h5m6 0h2m1 0h2m1 0h2m1 0h5m2 0h6m5 0h12m3 0h3m6 0h7m4 0h4m3 0h4m1 0h3m6 0h4m3 0h2m1 0h2m12 0h3m3 0h3m1 0h1m3 0h4m6 0h2m10 0h3m5 0h5m1 0h3m1 0h3m10 0h9m4 0h2m8 0h9m6 0h6m1 0h3m1 0h2m11 0h4m4 0h2m11 0h4m8 0h5m3 0h3m1 0h2M0 228.5h5m6 0h5m1 0h2m1 0h5m1 0h10m2 0h12m1 0h5m4 0h10m2 0h12m1 0h3m2 0h2m2 0h4m3 0h5m5 0h3m4 0h5m1 0h3m1 0h1m3 0h7m3 0h2m1 0h4m3 0h8m2 0h13m1 0h21m1 0h19m3 0h2m1 0h10m1 0h2m1 0h7m1 0h9m1 0h2m2 0h3m3 0h7m1 0h5m2 0h5m2 0h4m1 0h2M0 229.5h93m1 0h6m1 0h8m2 0h16m1 0h3m1 0h7m3 0h19m1 0h35m1 0h46m1 0h9m1 0h17m1 0h21M0 230.5h100m1 0h26m1 0h11m1 0h154M0 231.5h127m1 0h166M0 232.5h127m1 0h166M0 233.5h127m1 0h166M0 234.5h127m1 0h166M0 235.5h127m1 0h166M26 236.5h3m16 0h3m17 0h3m9 0h2m14 0h2m23 0h3m35 0h3m18 0h3m26 0h3m11 0h2m15 0h2m30 0h3m4 0h2m11 0h2M1 237.5h4m3 0h2m1 0h2m2 0h4m1 0h5m1 0h3m16 0h3m8 0h2m2 0h2m3 0h3m3 0h3m3 0h2m1 0h6m5 0h8m2 0h5m6 0h9m19 0h3m10 0h6m3 0h3m2 0h4m6 0h4m15 0h2m7 0h4m6 0h4m1 0h2m5 0h3m7 0h2m6 0h4m1 0h11m4 0h3m1 0h5m2 0h2m2 0h4m5 0h4M1 238.5h4m3 0h2m1 0h14m1 0h10m1 0h4m4 0h5m6 0h2m2 0h2m3 0h3m3 0h3m1 0h24m2 0h5m1 0h3m1 0h10m2 0h4m4 0h8m1 0h6m2 0h33m2 0h6m2 0h7m2 0h4m1 0h8m2 0h7m1 0h2m2 0h12m1 0h4m1 0h4m1 0h13m2 0h22m1 0h5M0 239.5h100m1 0h26m1 0h94m1 0h71M0 240.5h127m1 0h166M0 241.5h127m1 0h166M0 242.5h127m1 0h166M0 243.5h127m1 0h166M0 244.5h127m1 0h166M0 245.5h127m1 0h166M0 246.5h127m1 0h166M30 247.5h2m32 0h3m71 0h6m15 0h2m19 0h3m25 0h2m19 0h3M15 248.5h3m3 0h4m5 0h2m1 0h6m2 0h3m8 0h3m8 0h5m14 0h2m4 0h4m1 0h2m7 0h3m3 0h3m7 0h4m8 0h5m3 0h7m4 0h4m6 0h2m1 0h3m4 0h6m1 0h2m2 0h3m4 0h3m1 0h5m12 0h2m1 0h9m1 0h7m1 0h5m3 0h3m2 0h7m2 0h17m1 0h3m3 0h5m11 0h3M0 249.5h3m3 0h5m1 0h6m3 0h5m2 0h18m2 0h2m1 0h7m5 0h5m1 0h15m2 0h6m1 0h2m4 0h14m1 0h13m1 0h7m3 0h8m1 0h6m2 0h3m1 0h2m1 0h13m1 0h2m2 0h6m1 0h3m1 0h5m1 0h2m2 0h3m2 0h14m1 0h13m1 0h6m1 0h8m1 0h29m1 0h6m1 0h6M0 250.5h3m2 0h53m5 0h21m2 0h41m1 0h7m1 0h42m2 0h20m1 0h3m2 0h14m1 0h66m1 0h6M0 251.5h60m2 0h65m1 0h76m1 0h15m1 0h73M0 252.5h127m1 0h166M0 253.5h127m1 0h166M0 254.5h127m1 0h166M0 255.5h127m1 0h166M0 256.5h127m1 0h166M20 257.5h3m9 0h2m15 0h3m21 0h3m4 0h3m4 0h3m29 0h2m2 0h3m18 0h3m40 0h3m11 0h3m15 0h3m37 0h3M0 258.5h3m4 0h2m3 0h3m5 0h9m3 0h2m1 0h3m1 0h5m3 0h13m10 0h2m1 0h5m2 0h3m4 0h5m9 0h7m7 0h6m2 0h3m15 0h6m1 0h3m8 0h3m8 0h4m3 0h3m5 0h8m1 0h3m4 0h8m6 0h3m1 0h4m3 0h2m9 0h4m5 0h3m9 0h4m1 0h3m5 0h5m5 0h2m9 0h2M0 259.5h3m1 0h6m2 0h3m5 0h14m1 0h26m1 0h4m1 0h5m1 0h23m3 0h10m2 0h2m2 0h12m11 0h16m3 0h5m1 0h5m1 0h7m1 0h7m1 0h12m4 0h8m6 0h10m1 0h2m1 0h2m4 0h6m1 0h9m3 0h2m2 0h10m3 0h5m2 0h2m1 0h2m4 0h4m1 0h2M0 260.5h16m2 0h48m1 0h5m1 0h36m2 0h2m1 0h13m1 0h1m6 0h19m3 0h76m1 0h46m1 0h2m1 0h10M0 261.5h66m1 0h5m1 0h54m1 0h26m1 0h139M0 262.5h127m1 0h166M0 263.5h127m1 0h166M0 264.5h127m1 0h166M0 265.5h127m1 0h166M0 266.5h127m1 0h166M4 267.5h2m13 0h2m10 0h3m29 0h3m16 0h3m31 0h5m17 0h3m37 0h2m65 0h3m22 0h2m14 0h2M4 268.5h2m3 0h2m3 0h2m3 0h5m7 0h5m2 0h4m3 0h4m5 0h4m2 0h2m1 0h8m4 0h3m2 0h5m2 0h3m6 0h3m2 0h3m2 0h6m2 0h7m7 0h1m2 0h14m3 0h6m6 0h5m6 0h2m4 0h6m5 0h3m8 0h3m2 0h3m3 0h4m11 0h4m6 0h4m6 0h3m2 0h5m4 0h4m4 0h5m2 0h6m2 0h6m3 0h2M0 269.5h1m1 0h6m1 0h4m1 0h2m3 0h5m2 0h10m1 0h5m2 0h5m1 0h2m2 0h4m2 0h11m4 0h3m2 0h10m3 0h2m1 0h3m2 0h3m1 0h22m1 0h1m2 0h35m3 0h4m3 0h9m2 0h4m2 0h14m3 0h8m7 0h6m4 0h4m3 0h6m2 0h8m1 0h7m1 0h13m1 0h7m3 0h3M0 270.5h24m1 0h24m1 0h40m2 0h12m1 0h22m1 0h39m2 0h62m1 0h9m1 0h6m2 0h8m1 0h7m1 0h27M0 271.5h91m1 0h35m1 0h113m1 0h7m1 0h44M0 272.5h127m1 0h166M0 273.5h127m1 0h166M0 274.5h127m1 0h166M0 275.5h127m1 0h166M0 276.5h127m1 0h166M42 277.5h3m20 0h3m54 0h3m8 0h3m22 0h2m1 0h5m7 0h3m14 0h3m27 0h2m15 0h2m33 0h3m1 0h2m8 0h2M2 278.5h14m3 0h2m1 0h2m2 0h2m2 0h3m2 0h4m1 0h5m12 0h2m6 0h9m1 0h3m3 0h3m16 0h2m14 0h3m3 0h5m1 0h3m2 0h8m2 0h3m3 0h3m3 0h11m7 0h6m8 0h6m3 0h3m6 0h2m1 0h14m4 0h2m9 0h6m4 0h7m13 0h2m1 0h5m1 0h2m8 0h2m1 0h4M0 279.5h16m1 0h4m1 0h3m1 0h2m2 0h4m1 0h4m1 0h6m4 0h2m2 0h5m4 0h15m1 0h5m3 0h5m2 0h14m1 0h3m4 0h3m3 0h5m1 0h14m1 0h3m3 0h3m1 0h27m2 0h12m2 0h11m1 0h23m1 0h3m2 0h26m1 0h17m1 0h3m1 0h7M0 280.5h16m1 0h22m1 0h22m1 0h49m2 0h5m1 0h7m1 0h14m1 0h4m1 0h32m2 0h54m1 0h26m1 0h29M0 281.5h39m1 0h87m1 0h14m1 0h37m2 0h111M0 282.5h127m1 0h166M0 283.5h127m1 0h166M0 284.5h127m1 0h166M0 285.5h127m1 0h166M0 286.5h127m1 0h166M32 287.5h3m11 0h3m31 0h3m1 0h3m28 0h3m53 0h2m2 0h2m8 0h5m83 0h2m15 0h3M0 288.5h3m4 0h3m2 0h5m13 0h5m2 0h2m2 0h3m2 0h6m2 0h3m3 0h2m5 0h5m4 0h3m1 0h7m7 0h3m4 0h3m2 0h20m2 0h2m5 0h4m17 0h2m3 0h2m8 0h2m2 0h2m1 0h2m2 0h14m7 0h2m5 0h6m7 0h3m9 0h10m2 0h4m10 0h4m3 0h2m1 0h5m7 0h3m4 0h3M0 289.5h3m3 0h4m2 0h8m2 0h5m3 0h14m2 0h6m2 0h8m5 0h5m1 0h19m2 0h3m1 0h7m1 0h20m2 0h3m1 0h7m5 0h5m3 0h3m1 0h7m3 0h2m1 0h4m2 0h2m1 0h2m1 0h24m3 0h10m2 0h2m1 0h3m1 0h3m1 0h15m1 0h6m3 0h2m1 0h18m3 0h2m1 0h6m1 0h3M0 290.5h3m1 0h7m1 0h50m1 0h30m1 0h11m1 0h21m1 0h21m2 0h26m1 0h27m2 0h11m2 0h34m1 0h38M0 291.5h93m1 0h11m1 0h21m1 0h126m1 0h38M0 292.5h127m1 0h166M0 293.5h127m1 0h166M0 294.5h127m1 0h166M0 295.5h127m1 0h166M0 296.5h127m1 0h166M11 297.5h2m7 0h2m12 0h5m15 0h3m37 0h5m100 0h3m2 0h3m33 0h3m4 0h2m14 0h3m2 0h3M0 298.5h1m3 0h3m4 0h2m1 0h2m1 0h7m1 0h2m3 0h2m2 0h8m3 0h3m5 0h4m8 0h3m4 0h3m1 0h6m2 0h2m1 0h2m5 0h6m5 0h2m2 0h3m6 0h4m9 0h3m7 0h3m5 0h4m22 0h11m1 0h4m1 0h3m1 0h6m2 0h10m2 0h2m2 0h6m6 0h5m3 0h3m1 0h5m6 0h2m5 0h11m6 0h4M0 299.5h16m1 0h15m1 0h9m2 0h4m3 0h6m3 0h3m2 0h18m1 0h8m2 0h6m1 0h3m1 0h2m2 0h3m5 0h9m5 0h3m1 0h2m2 0h19m1 0h4m1 0h5m6 0h11m1 0h4m1 0h3m1 0h6m2 0h14m2 0h10m2 0h28m2 0h11m1 0h4m1 0h4m6 0h4M0 300.5h32m1 0h16m1 0h33m1 0h8m1 0h7m1 0h26m1 0h43m2 0h13m1 0h15m1 0h15m2 0h40m1 0h12m1 0h11m3 0h6M0 301.5h127m1 0h157m1 0h8M0 302.5h127m1 0h166M0 303.5h127m1 0h166M0 304.5h127m1 0h166M0 305.5h127m1 0h166M0 306.5h127m1 0h166M4 307.5h2m38 0h2m4 0h2m11 0h5m5 0h3m17 0h2m30 0h2m35 0h3m29 0h2m8 0h3m44 0h3m4 0h2m3 0h2m9 0h3M4 308.5h2m1 0h4m6 0h2m3 0h8m14 0h5m1 0h3m10 0h5m5 0h3m1 0h9m4 0h5m5 0h3m4 0h5m4 0h6m3 0h2m8 0h2m1 0h2m8 0h3m2 0h5m2 0h5m1 0h6m8 0h6m3 0h2m3 0h2m3 0h3m2 0h3m2 0h6m8 0h2m2 0h6m10 0h3m5 0h3m2 0h4m1 0h6m1 0h3m2 0h5m9 0h6M3 309.5h10m1 0h7m1 0h15m5 0h14m5 0h7m1 0h17m1 0h2m1 0h5m4 0h13m1 0h2m1 0h11m1 0h1m1 0h7m1 0h2m8 0h11m1 0h5m1 0h8m1 0h18m1 0h8m2 0h11m1 0h3m4 0h3m1 0h6m6 0h2m1 0h5m3 0h4m2 0h24m2 0h3m2 0h7M1 310.5h55m5 0h7m1 0h43m1 0h14m1 0h74m1 0h12m1 0h17m2 0h6m1 0h5m3 0h30m2 0h12M0 311.5h59m1 0h8m1 0h58m1 0h105m2 0h13m2 0h44M0 312.5h127m1 0h166M0 313.5h127m1 0h166M0 314.5h127m1 0h166M0 315.5h127m1 0h166M0 316.5h127m1 0h166M42 317.5h3m55 0h2m28 0h5m3 0h2m12 0h3m12 0h4m5 0h2m12 0h3m10 0h2m3 0h2m14 0h2m22 0h3m1 0h2m7 0h2m7 0h2m13 0h2M1 318.5h3m3 0h4m11 0h4m12 0h11m7 0h2m6 0h7m7 0h3m1 0h3m2 0h5m5 0h5m4 0h4m4 0h6m2 0h3m5 0h5m3 0h2m1 0h6m5 0h3m2 0h5m2 0h11m1 0h10m1 0h2m1 0h3m5 0h3m2 0h2m1 0h5m2 0h6m2 0h2m1 0h2m1 0h4m3 0h2m11 0h4m1 0h2m1 0h4m2 0h3m6 0h3m6 0h10M0 319.5h11m2 0h5m1 0h2m1 0h4m4 0h4m1 0h14m2 0h2m3 0h3m1 0h13m3 0h5m1 0h3m2 0h5m3 0h10m1 0h4m2 0h8m1 0h4m5 0h6m1 0h10m3 0h5m1 0h19m1 0h13m1 0h3m1 0h7m2 0h20m1 0h7m1 0h4m10 0h5m1 0h2m1 0h4m2 0h3m2 0h7m6 0h10m3 0h2M0 320.5h11m1 0h9m1 0h27m2 0h35m1 0h18m1 0h4m1 0h16m1 0h19m1 0h93m1 0h3m1 0h8m1 0h21m1 0h17M0 321.5h127m1 0h117m1 0h30m1 0h17M0 322.5h127m1 0h166M0 323.5h127m1 0h166M0 324.5h127m1 0h166M0 325.5h127m1 0h166M0 326.5h127m1 0h166M3 327.5h2m36 0h4m10 0h3m41 0h2m17 0h3m20 0h4m3 0h2m3 0h2m32 0h3m18 0h2m2 0h5m4 0h2m1 0h2m1 0h3m35 0h2m5 0h3m1 0h2m5 0h2m1 0h4M0 328.5h5m10 0h6m1 0h4m12 0h10m6 0h6m5 0h9m2 0h3m3 0h2m1 0h16m2 0h2m6 0h2m3 0h5m7 0h2m2 0h4m5 0h4m3 0h2m3 0h2m6 0h2m4 0h3m5 0h2m1 0h2m1 0h2m4 0h4m1 0h2m5 0h2m7 0h9m2 0h7m1 0h3m3 0h2m2 0h4m5 0h3m14 0h12m1 0h2m1 0h3m1 0h7m2 0h2M0 329.5h11m1 0h17m3 0h16m2 0h29m2 0h20m2 0h2m4 0h6m1 0h7m1 0h2m2 0h27m1 0h9m2 0h5m3 0h2m1 0h5m4 0h9m1 0h4m7 0h27m1 0h5m1 0h3m1 0h5m2 0h3m7 0h12m1 0h6m1 0h11M0 330.5h108m1 0h6m1 0h11m1 0h49m1 0h18m1 0h7m1 0h52m4 0h33M0 331.5h127m1 0h68m1 0h97M0 332.5h127m1 0h166M0 333.5h127m1 0h166M0 334.5h127m1 0h166M0 335.5h127m1 0h166M0 336.5h127m1 0h166M13 337.5h3m24 0h2m18 0h2m26 0h3m25 0h2m10 0h1m11 0h3m8 0h3m3 0h3m33 0h3m9 0h2m22 0h3m5 0h2m10 0h2m7 0h2m25 0h2M6 338.5h12m4 0h2m11 0h2m3 0h2m2 0h2m2 0h2m7 0h5m9 0h3m1 0h3m4 0h4m2 0h3m3 0h3m7 0h5m5 0h4m2 0h3m5 0h3m9 0h6m5 0h3m2 0h4m3 0h2m7 0h7m3 0h6m3 0h5m1 0h2m3 0h8m4 0h7m8 0h3m2 0h2m1 0h2m1 0h5m3 0h3m1 0h2m4 0h2m2 0h4m4 0h2m2 0h3m5 0h2m1 0h2M0 339.5h18m1 0h5m5 0h2m4 0h2m3 0h10m7 0h7m2 0h2m1 0h9m4 0h9m3 0h8m1 0h15m2 0h6m2 0h8m2 0h9m1 0h6m2 0h4m1 0h6m2 0h11m1 0h7m2 0h6m1 0h3m2 0h8m1 0h10m1 0h3m2 0h24m1 0h4m2 0h2m1 0h8m1 0h3m1 0h13M0 340.5h24m1 0h2m1 0h4m1 0h19m1 0h15m1 0h10m2 0h11m2 0h33m1 0h8m1 0h10m1 0h12m1 0h6m2 0h20m1 0h20m1 0h49m1 0h30m1 0h2M0 341.5h127m1 0h39m2 0h125M0 342.5h127m1 0h166M0 343.5h127m1 0h166M0 344.5h127m1 0h166M0 345.5h127m1 0h166M0 346.5h127m1 0h166M0 347.5h127m1 0h166M42 348.5h3m4 0h3m32 0h2m8 0h3m8 0h2m15 0h3m10 0h2m43 0h3m15 0h3m5 0h3m11 0h2m2 0h2m44 0h2M0 349.5h3m1 0h7m3 0h10m4 0h2m4 0h5m1 0h17m1 0h2m3 0h7m4 0h2m3 0h2m1 0h4m1 0h10m8 0h2m8 0h3m3 0h4m4 0h2m1 0h5m2 0h2m4 0h12m2 0h2m2 0h2m1 0h2m7 0h3m2 0h3m4 0h3m8 0h4m1 0h6m2 0h3m6 0h6m3 0h3m12 0h3m2 0h6m7 0h2m1 0h3m2 0h4m1 0h3m1 0h5m5 0h4M0 350.5h3m1 0h26m4 0h23m1 0h2m1 0h15m1 0h4m1 0h16m4 0h8m1 0h2m2 0h12m1 0h3m1 0h33m1 0h7m2 0h4m1 0h6m1 0h5m2 0h23m3 0h6m3 0h6m1 0h5m1 0h14m1 0h7m1 0h3m2 0h17m2 0h5M0 351.5h60m1 0h39m2 0h8m1 0h2m1 0h13m1 0h3m1 0h33m1 0h13m1 0h46m1 0h8m1 0h52m1 0h5M0 352.5h127m1 0h37m1 0h13m1 0h46m1 0h67M0 353.5h127m1 0h166M0 354.5h127m1 0h166M0 355.5h127m1 0h166M0 356.5h127m1 0h166M0 357.5h127m1 0h166M1 358.5h2m59 0h2m5 0h2m1 0h4m18 0h3m16 0h2m32 0h2m7 0h2m4 0h3m38 0h3m38 0h2m25 0h3M0 359.5h3m4 0h3m1 0h2m2 0h2m9 0h5m1 0h2m1 0h3m4 0h3m3 0h2m6 0h3m1 0h4m3 0h4m1 0h9m3 0h2m8 0h3m6 0h2m1 0h6m1 0h4m2 0h3m6 0h3m4 0h3m1 0h2m3 0h5m7 0h4m2 0h5m12 0h2m1 0h7m3 0h3m4 0h3m1 0h8m10 0h5m8 0h2m1 0h3m4 0h2m5 0h3m5 0h3m3 0h4m1 0h5M0 360.5h13m2 0h6m4 0h9m1 0h3m1 0h6m3 0h3m3 0h5m1 0h4m2 0h5m1 0h9m2 0h3m1 0h10m2 0h3m1 0h2m1 0h21m1 0h25m3 0h11m2 0h2m2 0h5m1 0h16m1 0h15m1 0h15m5 0h8m4 0h2m2 0h6m4 0h4m3 0h10m2 0h2m5 0h6m2 0h2M0 361.5h45m1 0h5m2 0h33m1 0h18m1 0h21m1 0h25m3 0h12m1 0h26m1 0h15m1 0h15m5 0h10m1 0h3m2 0h6m4 0h6m1 0h11m1 0h4m3 0h10M0 362.5h86m1 0h40m1 0h27m1 0h71m1 0h26m4 0h36M0 363.5h127m1 0h166M0 364.5h127m1 0h166M0 365.5h127m1 0h166M0 366.5h127m1 0h166M0 367.5h127m1 0h166M7 368.5h3m5 0h2m2 0h2m24 0h3m45 0h2m2 0h3m66 0h2m69 0h4m4 0h3m4 0h3m3 0h3M2 369.5h3m1 0h12m1 0h6m2 0h2m1 0h3m2 0h2m2 0h3m3 0h4m4 0h3m1 0h4m1 0h3m7 0h7m5 0h4m3 0h10m6 0h3m4 0h3m4 0h2m12 0h4m6 0h2m6 0h2m4 0h2m5 0h4m2 0h3m1 0h2m5 0h3m1 0h3m4 0h3m2 0h5m3 0h3m5 0h4m1 0h2m3 0h2m1 0h3m3 0h2m1 0h11m4 0h4m2 0h3m4 0h3m1 0h3m1 0h3m1 0h6m1 0h3m2 0h2M2 370.5h23m1 0h3m1 0h26m1 0h4m1 0h18m2 0h6m2 0h23m1 0h3m1 0h5m2 0h2m3 0h9m6 0h4m4 0h12m1 0h9m1 0h2m5 0h3m1 0h4m2 0h26m1 0h2m3 0h2m1 0h5m1 0h2m1 0h13m1 0h11m3 0h3m1 0h14m1 0h4m1 0h2m1 0h2M0 371.5h1m1 0h27m1 0h31m1 0h19m1 0h35m1 0h9m2 0h10m1 0h3m2 0h7m1 0h33m1 0h4m1 0h30m3 0h11m1 0h57M0 372.5h61m1 0h19m1 0h45m1 0h63m1 0h31m1 0h12m1 0h57M0 373.5h127m1 0h166M0 374.5h127m1 0h166M0 375.5h127m1 0h166M0 376.5h127m1 0h166M0 377.5h127m1 0h166M27 378.5h2m3 0h3m37 0h2m4 0h5m67 0h2m23 0h2m4 0h2m80 0h2m8 0h3m5 0h2m3 0h2M0 379.5h3m2 0h5m5 0h6m3 0h2m1 0h2m1 0h5m9 0h4m1 0h3m1 0h3m2 0h2m2 0h4m3 0h2m1 0h2m4 0h5m4 0h3m7 0h3m4 0h3m2 0h3m2 0h12m2 0h9m4 0h8m1 0h5m2 0h3m5 0h3m7 0h3m3 0h2m1 0h2m1 0h2m9 0h6m9 0h5m5 0h4m8 0h3m1 0h2m1 0h9m8 0h3m1 0h2m6 0h13m2 0h2m1 0h5M0 380.5h3m1 0h25m1 0h5m2 0h11m1 0h3m1 0h13m2 0h3m1 0h2m3 0h7m3 0h3m4 0h19m1 0h12m2 0h9m3 0h9m1 0h5m1 0h6m1 0h5m3 0h2m2 0h5m1 0h8m1 0h7m1 0h6m1 0h3m2 0h8m3 0h6m2 0h12m1 0h14m1 0h5m1 0h3m5 0h23M0 381.5h36m1 0h11m1 0h3m1 0h13m1 0h4m1 0h4m1 0h13m4 0h32m2 0h61m1 0h30m1 0h47m3 0h23M0 382.5h66m1 0h9m1 0h50m1 0h140m3 0h23M0 383.5h127m1 0h143m1 0h22M0 384.5h127m1 0h143m1 0h22M0 385.5h127m1 0h143m1 0h22M0 386.5h127m1 0h143m1 0h22M0 387.5h127m1 0h143m1 0h22M30 388.5h3m30 0h3m50 0h2m62 0h9m10 0h3m14 0h3m8 0h3m2 0h3m2 0h2m12 0h4m1 0h2m21 0h3M22 389.5h6m2 0h3m11 0h5m9 0h2m3 0h5m2 0h2m5 0h10m15 0h3m1 0h2m1 0h2m1 0h3m1 0h2m1 0h2m8 0h4m9 0h2m5 0h9m9 0h3m1 0h3m1 0h3m2 0h9m2 0h3m4 0h4m2 0h7m5 0h5m2 0h2m1 0h4m1 0h4m2 0h4m3 0h3m3 0h5m1 0h6m1 0h2m5 0h1m4 0h7m1 0h3M0 390.5h2m4 0h5m6 0h22m1 0h3m1 0h16m1 0h12m1 0h13m2 0h3m5 0h3m2 0h16m1 0h2m1 0h4m2 0h10m2 0h4m5 0h11m2 0h3m2 0h7m1 0h3m1 0h10m1 0h21m2 0h8m1 0h3m1 0h15m1 0h20m1 0h8m1 0h2m1 0h18M0 391.5h5m1 0h7m1 0h2m1 0h43m1 0h27m1 0h5m1 0h5m2 0h25m1 0h113m1 0h29m1 0h21M0 392.5h13m1 0h2m1 0h77m1 0h5m1 0h26m1 0h143m1 0h22M0 393.5h127m1 0h143m1 0h22M0 394.5h127m1 0h143m1 0h22M0 395.5h127m1 0h143m1 0h22M0 396.5h1m3 0h5m4 0h1m4 0h5m4 0h3m7 0h5m4 0h2m3 0h1m11 0h1m2 0h11m6 0h3m1 0h3m2 0h3m3 0h1m2 0h6m2 0h2m4 0h2m6 0h3m2 0h2m10 0h3m1 0h5m6 0h2m8 0h3m1 0h1m1 0h2m17 0h7m5 0h2m5 0h1m5 0h5m8 0h3m3 0h2m1 0h2m3 0h1m4 0h2m1 0h2m1 0h3m10 0h5m1 0h2m1 0h1m1 0h1m2 0h2m10 0h2M0 397.5h31m2 0h11m1 0h8m2 0h36m1 0h16m1 0h5m1 0h11m2 0h2m1 0h12m1 0h17m1 0h11m2 0h13m1 0h8m2 0h45m3 0h2m1 0h2m1 0h5m2 0h5m1 0h5m1 0h13m2 0h4m1 0h2M0 398.5h127m1 0h143m1 0h22M0 399.5h9m1 0h1m1 0h10m5 0h8m1 0h1m1 0h18m4 0h25m1 0h5m3 0h33m1 0h63m4 0h8m1 0h43m1 0h1m3 0h19m1 0h7m1 0h7m1 0h6M5 400.5h2m10 0h3m1 0h1m7 0h4m1 0h1m7 0h2m2 0h1m3 0h1m1 0h1m2 0h1m6 0h1m1 0h1m4 0h3m3 0h1m3 0h3m2 0h2m1 0h1m6 0h1m1 0h2m1 0h1m12 0h4m4 0h1m5 0h1m10 0h1m4 0h1m1 0h1m2 0h3m4 0h2m2 0h1m1 0h1m5 0h1m1 0h1m1 0h1m8 0h10m1 0h4m3 0h1m1 0h1m7 0h3m1 0h1m7 0h1m1 0h1m1 0h3m18 0h3m10 0h1m1 0h1m1 0h3m5 0h2m1 0h6m2 0h2M80 401.5h1m6 0h2m24 0h1m54 0h1m11 0h1m3 0h1m23 0h1m14 0h1m38 0h1m11 0h1m5 0h1M87 402.5h2M87 403.5h2M87 404.5h2M87 405.5h2" stroke="#f0f921"/><path d="M36 0.5h1m3 0h2m1 0h1m10 0h1m6 0h1m5 0h1m13 0h1m5 0h1m1 0h3m57 0h1m1 0h5m2 0h2m1 0h3m2 0h3m3 0h2m6 0h2m5 0h3m1 0h1m1 0h1m1 0h1m1 0h1m1 0h1m22 0h1m20 0h1m3 0h1m2 0h1m16 0h2m7 0h1m3 0h2m10 0h1M21 1.5h1m2 0h1m11 0h1m1 0h1m1 0h1m2 0h2m4 0h2m10 0h1m6 0h3m7 0h1m4 0h1m5 0h1m38 0h2m2 0h2m1 0h1m11 0h2m3 0h1m7 0h1m6 0h1m1 0h2m1 0h3m4 0h1m3 0h1m2 0h1m2 0h2m7 0h2m29 0h1m9 0h3m9 0h1m2 0h1m5 0h4m4 0h1m1 0h1m4 0h1m5 0h1m2 0h1m3 0h4M16 2.5h1m26 0h2m3 0h1m4 0h1m9 0h1m6 0h1m6 0h1m4 0h1m5 0h2m25 0h1m3 0h1m6 0h1m1 0h1m2 0h1m11 0h1m9 0h1m23 0h2m5 0h1m6 0h1m1 0h2m34 0h1m4 0h1m5 0h1m3 0h1m6 0h3m4 0h1m11 0h2m6 0h1m1 0h3m4 0h1m5 0h1M1 3.5h1m9 0h1m11 0h2m3 0h1m2 0h1m2 0h2m3 0h2m8 0h1m9 0h2m3 0h1m1 0h1m8 0h1m2 0h1m7 0h1m2 0h1m21 0h1m3 0h1m13 0h1m2 0h1m7 0h1m1 0h1m6 0h1m2 0h1m2 0h1m2 0h1m2 0h1m7 0h1m6 0h2m2 0h2m5 0h1m2 0h2m3 0h1m24 0h2m14 0h2m4 0h1m1 0h1m4 0h3m2 0h1m2 0h2m1 0h1m1 0h1m2 0h1m1 0h1m3 0h1m1 0h2m1 0h1m1 0h1m10 0h3M4 4.5h1m4 0h3m4 0h1m3 0h2m4 0h1m2 0h1m3 0h4m4 0h1m1 0h1m14 0h1m3 0h3m3 0h1m10 0h2m1 0h1m1 0h1m5 0h1m40 0h1m2 0h1m2 0h1m7 0h1m1 0h1m5 0h1m2 0h1m7 0h1m7 0h2m8 0h1m7 0h1m4 0h1m1 0h1m29 0h1m4 0h1m4 0h2m7 0h1m14 0h1m2 0h2m26 0h1M18 5.5h1m5 0h1m1 0h3m6 0h1m6 0h2m1 0h2m2 0h2m1 0h1m5 0h1m10 0h1m11 0h1m5 0h3m29 0h1m9 0h1m5 0h1m1 0h1m15 0h1m3 0h1m7 0h1m1 0h1m3 0h3m3 0h1m3 0h2m6 0h1m3 0h1m20 0h1m12 0h1m5 0h1m6 0h1m5 0h1m2 0h1m1 0h1m7 0h1m5 0h1m1 0h1m2 0h1m7 0h1m3 0h1m2 0h1m4 0h2M9 6.5h1m11 0h1m3 0h1m2 0h2m5 0h1m8 0h1m1 0h1m11 0h1m6 0h2m19 0h1m34 0h1m6 0h1m4 0h3m3 0h1m2 0h2m2 0h1m3 0h1m20 0h1m22 0h1m1 0h1m29 0h1m4 0h1m10 0h2m5 0h1m11 0h2m11 0h1m10 0h1M6 7.5h1m7 0h3m20 0h1m4 0h1m5 0h1m2 0h1m3 0h1m7 0h1m6 0h1m4 0h1m7 0h1m35 0h1m11 0h1m5 0h1m8 0h1m4 0h1m9 0h1m2 0h1m1 0h1m1 0h1m1 0h1m5 0h3m17 0h1m13 0h1m2 0h1m4 0h1m19 0h1m9 0h1m5 0h1m3 0h1m16 0h2m1 0h1m3 0h1m10 0h1M11 8.5h1m31 0h1m2 0h1m1 0h1m1 0h1m6 0h1m2 0h1m1 0h1m14 0h1m6 0h1m1 0h2m1 0h1m21 0h1m3 0h1m2 0h1m3 0h1m1 0h1m5 0h2m1 0h2m5 0h1m2 0h1m1 0h1m9 0h1m13 0h1m11 0h1m2 0h1m12 0h2m27 0h1m9 0h1m36 0h1m11 0h1M1 9.5h1m1 0h1m6 0h1m22 0h1m3 0h1m13 0h1m3 0h1m2 0h2m4 0h1m10 0h1m20 0h1m21 0h1m9 0h1m9 0h1m1 0h2m6 0h2m7 0h1m15 0h1m2 0h1m1 0h1m3 0h1m1 0h1m2 0h2m1 0h1m1 0h1m2 0h1m17 0h1m7 0h1m4 0h1m1 0h1m10 0h1m42 0h1m10 0h1M11 10.5h1m1 0h2m24 0h1m17 0h1m20 0h1m12 0h1m32 0h1m39 0h1m6 0h1m14 0h1m43 0h1m20 0h1m24 0h1M7 11.5h1m5 0h1m11 0h1m8 0h1m17 0h1m7 0h1m1 0h1m52 0h1m26 0h1m10 0h1m4 0h1m11 0h1m8 0h1m1 0h1m1 0h1m4 0h2m3 0h1m6 0h1m2 0h1m14 0h1m2 0h1m12 0h2m6 0h1m4 0h1m11 0h1m14 0h1m9 0h2M22 12.5h1m5 0h1m3 0h3m6 0h1m38 0h1m27 0h1m15 0h1m23 0h1m21 0h1m75 0h1m2 0h1m31 0h1m2 0h1M25 13.5h1m22 0h1m2 0h1m5 0h1m10 0h1m10 0h1m8 0h1m36 0h1m3 0h1m2 0h1m5 0h1m3 0h1m3 0h1m24 0h1m4 0h1m20 0h1m19 0h2m9 0h1m5 0h2m6 0h1m1 0h1m4 0h1m1 0h1m2 0h1m7 0h1m9 0h1m10 0h2m5 0h1M10 14.5h1m8 0h1m17 0h1m2 0h1m17 0h1m14 0h1m34 0h1m21 0h1m23 0h1m21 0h1m1 0h1m12 0h1m12 0h1m26 0h1m3 0h1m3 0h1m35 0h1m4 0h1M0 15.5h2m5 0h1m5 0h1m27 0h1m12 0h1m8 0h1m18 0h1m7 0h1m11 0h1m4 0h1m36 0h1m10 0h1m3 0h1m11 0h1m3 0h1m3 0h1m15 0h1m1 0h1m8 0h1m5 0h1m4 0h1m1 0h1m1 0h1m15 0h1m10 0h1m7 0h2m22 0h1M15 16.5h1m2 0h1m16 0h1m7 0h1m24 0h1m44 0h1m25 0h1m5 0h1m1 0h1m18 0h1m41 0h1m5 0h1m1 0h1m68 0h1m2 0h1M34 17.5h1m38 0h1m32 0h1m8 0h1m27 0h1m14 0h1m12 0h1m40 0h2m5 0h1m1 0h1m1 0h1m40 0h1m22 0h1m4 0h1M5 18.5h1m1 0h1m17 0h1m87 0h1m28 0h1m3 0h2m1 0h1m14 0h1m13 0h1m19 0h1m35 0h1m22 0h1M43 19.5h1m23 0h1m22 0h1m23 0h1m74 0h1m18 0h1m5 0h1m22 0h1m30 0h1m2 0h1m12 0h1M7 20.5h1m17 0h1m1 0h1m92 0h1m5 0h1m2 0h1m81 0h1m11 0h1m24 0h1m13 0h1M1 21.5h1m27 0h1m65 0h1m26 0h1m1 0h2m5 0h1m16 0h1m49 0h1m28 0h1m10 0h1m26 0h1m5 0h1M16 22.5h1m2 0h1m30 0h1m3 0h1m80 0h1m5 0h2m15 0h1m2 0h1m37 0h1m28 0h1m10 0h1m21 0h1m18 0h1M1 23.5h1m114 0h1m6 0h1m23 0h1m9 0h1m9 0h1m49 0h1m17 0h1m18 0h1m15 0h1m22 0h1" stroke="#f4ec26"/><path d="M2 0.5h1m1 0h2m1 0h1m1 0h2m3 0h1m4 0h2m1 0h2m2 0h9m9 0h1m3 0h1m1 0h1m2 0h1m1 0h4m1 0h1m5 0h1m2 0h3m3 0h3m1 0h2m19 0h2m2 0h2m12 0h2m1 0h1m10 0h5m1 0h5m1 0h5m64 0h2m2 0h1m2 0h2m4 0h1m1 0h1m1 0h2m4 0h4m1 0h2m1 0h1m8 0h1m1 0h1m1 0h2m2 0h2m1 0h1m1 0h1m3 0h5M3 1.5h3m1 0h1m1 0h5m1 0h1m1 0h1m2 0h1m1 0h1m2 0h2m2 0h2m2 0h2m16 0h1m8 0h1m5 0h1m4 0h1m3 0h1m1 0h1m27 0h1m5 0h4m3 0h2m3 0h1m12 0h1m3 0h1m4 0h1m68 0h1m1 0h2m1 0h6m1 0h1m5 0h6m4 0h1m1 0h1m13 0h1m14 0h1M1 2.5h5m1 0h6m1 0h2m9 0h1m1 0h1m1 0h1m4 0h1m61 0h1m3 0h2m3 0h1m6 0h1m8 0h1m1 0h1m1 0h1m12 0h1m6 0h1m65 0h1m2 0h4m5 0h4m5 0h2m1 0h3M2 3.5h1m1 0h2m1 0h1m1 0h2m1 0h1m17 0h1m65 0h1m1 0h2m1 0h1m3 0h1m6 0h2m3 0h1m1 0h5m1 0h1m80 0h1m5 0h2m1 0h5m3 0h1m1 0h2M0 4.5h1m11 0h1m83 0h1m1 0h1m13 0h2m3 0h1m2 0h1m1 0h4m76 0h1m3 0h1m3 0h4m1 0h2m1 0h2m3 0h4M0 5.5h2m4 0h1m5 0h1m83 0h1m1 0h3m4 0h3m2 0h5m2 0h1m4 0h1m2 0h1m75 0h1m2 0h1m1 0h2m2 0h1m1 0h2m9 0h1m1 0h2M96 6.5h1m1 0h1m1 0h1m3 0h1m1 0h1m6 0h1m6 0h1m1 0h1m1 0h2m78 0h1m1 0h2m2 0h2m3 0h1m8 0h2M96 7.5h1m2 0h2m2 0h2m1 0h2m1 0h2m3 0h1m2 0h1m82 0h3m1 0h1m1 0h3m2 0h2m10 0h1m1 0h1M99 8.5h1m3 0h1m3 0h1m1 0h1m90 0h1m1 0h2m1 0h8M97 9.5h1m1 0h2m1 0h2m2 0h4m3 0h1m86 0h4m1 0h2m1 0h2m2 0h1M103 10.5h1m2 0h1m93 0h1m3 0h1m4 0h1m2 0h1M92 11.5h1m2 0h1m1 0h3m2 0h2m2 0h4m3 0h1m91 0h1m2 0h2m2 0h1M103 12.5h1m101 0h1M92 13.5h4m1 0h2m4 0h1m5 0h1m95 0h1M92 14.5h1m2 0h1m1 0h2m113 0h1M92 15.5h1m2 0h1m2 0h1M93 16.5h1m4 0h1M92 17.5h2" stroke="#f8df25"/><path d="M0 0.5h2m1 0h1m2 0h1m1 0h1m2 0h3m1 0h1m1 0h1m7 0h1m25 0h1m16 0h1m27 0h1m2 0h1m20 0h1m1 0h4m76 0h1m1 0h1m2 0h1m3 0h1m4 0h1m1 0h2m3 0h2m7 0h2m1 0h1M0 1.5h3m3 0h1m1 0h1m5 0h1m12 0h1m68 0h1m1 0h1m1 0h2m2 0h1m1 0h2m1 0h2m6 0h1m2 0h3m1 0h2m75 0h2m1 0h3m3 0h2m1 0h1m1 0h1m2 0h1m6 0h1M0 2.5h1m5 0h1m90 0h3m2 0h1m1 0h1m1 0h1m1 0h1m4 0h1m3 0h1m2 0h1m1 0h1m1 0h1m79 0h1m1 0h1m2 0h2m1 0h2m4 0h2M6 3.5h1m93 0h1m1 0h1m1 0h1m1 0h3m1 0h1m3 0h1m9 0h1m75 0h3m1 0h2m1 0h1m1 0h3m12 0h1M200 4.5h2m1 0h3m1 0h3M92 5.5h3m2 0h1m5 0h1m5 0h1m92 0h2m1 0h1m2 0h1M97 6.5h1m4 0h2m4 0h2m93 0h1m1 0h1m2 0h2M93 7.5h1m1 0h1m1 0h2m3 0h1m5 0h1m4 0h1m89 0h1m1 0h1m3 0h1M98 8.5h1m3 0h1m5 0h1m4 0h1M92 9.5h4m2 0h1M113 10.5h1M93 11.5h2" stroke="#fcce25"/><path d="M94 0.5h1m2 0h2m4 0h1m96 0h2m1 0h1m1 0h2m3 0h1m1 0h1m2 0h1m9 0h1M92 1.5h1m2 0h1m1 0h1m1 0h1m2 0h2m99 0h1m4 0h1m3 0h1M93 2.5h1m9 0h1m5 0h1m95 0h1m1 0h1M94 3.5h2m1 0h1m5 0h1m5 0h1m93 0h1M92 4.5h3m2 0h1M95 5.5h1m6 0h1m5 0h1m91 0h1m8 0h1M93 6.5h3M92 7.5h1m1 0h1M92 8.5h1" stroke="#fcb82f"/><path d="M92 0.5h2m1 0h1m6 0h1m105 0h2M93 1.5h2m13 0h1m91 0h1m8 0h1M92 2.5h1m1 0h2M92 3.5h2M95 4.5h1" stroke="#fca636"/><path d="M6 4.5h1M11 5.5h1m209 0h1m2 0h1" stroke="#f2844b"/><path d="M207 1.5h1M208 3.5h1M116 6.5h2m94 0h1" stroke="#cc4778"/><path d="M208 2.5h1M0 3.5h1M115 5.5h1m95 0h1" stroke="#9c179e"/><path d="M114 4.5h2" stroke="#41049d"/></g>
<style type="text/css">*{stroke-linejoin: round; stroke-linecap: butt}</style>
</defs>
<g id="figure_1">
<g id="patch_1">
<path d="M 0 720
L 1008 720
L 1008 0
L 0 0
z
" style="fill: #ffffff"/>
</g>
<g id="axes_1">
<g id="patch_2">
<path d="M 114.192 341.424
L 326.580 341.424
L 326.580 46.944
L 114.192 46.944
z
" style="fill: #ffffff"/>
</g>
<g id="p0" transform="scale(0.72)"><use href="#chla" x="160" y="66"/></g>
<g id="matplotlib.axis_1">
<g id="xtick_1">
<g id="line2d_1">
<defs>
<path id="m1504cfccaf" d="M 0 0
L 0 3.6
" style="stroke: #000000; stroke-width: 0.8"/>
</defs>
<g>
<use href="#m1504cfccaf" x="119.880" y="341.640" style="stroke: #000000; stroke-width: 0.8"/>
</g>
</g>
<g id="text_1">
<text style="font-size: 10px; font-family: 'DejaVu Sans', 'Liberation Sans', sans-serif; text-anchor: middle" x="119.755" y="356.400">2022.5</text>
</g>
</g>
<g id="xtick_2">
<g id="line2d_2">
<g>
<use href="#m1504cfccaf" x="157.320" y="341.640" style="stroke: #000000; stroke-width: 0.8"/>
</g>
</g>
<g id="text_2">
<text style="font-size: 10px; font-family: 'DejaVu Sans', 'Liberation Sans', sans-serif; text-anchor: middle" x="156.670" y="356.400">2023.0</text>
</g>
</g>
<g id="xtick_3">
<g id="line2d_3">
<g>
<use href="#m1504cfccaf" x="194.040" y="341.640" style="stroke: #000000; stroke-width: 0.8"/>
</g>
</g>
<g id="text_3">
<text style="font-size: 10px; font-family: 'DejaVu Sans', 'Liberation Sans', sans-serif; text-anchor: middle" x="193.585" y="356.400">2023.5</text>
</g>
</g>
<g id="xtick_4">
<g id="line2d_4">
<g>
<use href="#m1504cfccaf" x="230.760" y="341.640" style="stroke: #000000; stroke-width: 0.8"/>
</g>
</g>
<g id="text_4">
<text style="font-size: 10px; font-family: 'DejaVu Sans', 'Liberation Sans', sans-serif; text-anchor: middle" x="230.500" y="356.400">2024.0</text>
</g>
</g>
<g id="xtick_5">
<g id="line2d_5">
<g>
<use href="#m1504cfccaf" x="267.480" y="341.640" style="stroke: #000000; stroke-width: 0.8"/>
</g>
</g>
<g id="text_5">
<text style="font-size: 10px; font-family: 'DejaVu Sans', 'Liberation Sans', sans-serif; text-anchor: middle" x="267.415" y="356.400">2024.5</text>
</g>
</g>
<g id="xtick_6">
<g id="line2d_6">
<g>
<use href="#m1504cfccaf" x="304.920" y="341.640" style="stroke: #000000; stroke-width: 0.8"/>
</g>
</g>
<g id="text_6">
<text style="font-size: 10px; font-family: 'DejaVu Sans', 'Liberation Sans', sans-serif; text-anchor: middle" x="304.330" y="356.400">2025.0</text>
</g>
</g>
</g>
<g id="matplotlib.axis_2">
<g id="ytick_1">
<g id="line2d_7">
<defs>
<path id="m5d545ce8f8" d="M 0 0
L -3.6 0
" style="stroke: #000000; stroke-width: 0.8"/>
</defs>
<g>
<use href="#m5d545ce8f8" x="114.840" y="47.160" style="stroke: #000000; stroke-width: 0.8"/>
</g>
</g>
<g id="text_7">
<text style="font-size: 10px; font-family: 'DejaVu Sans', 'Liberation Sans', sans-serif; text-anchor: end" x="107.192" y="51.120">0</text>
</g>
</g>
<g id="ytick_2">
<g id="line2d_8">
<g>
<use href="#m5d545ce8f8" x="114.840" y="83.880" style="stroke: #000000; stroke-width: 0.8"/>
</g>
</g>
<g id="text_8">
<text style="font-size: 10px; font-family: 'DejaVu Sans', 'Liberation Sans', sans-serif; text-anchor: end" x="107.192" y="87.120">250</text>
</g>
</g>
<g id="ytick_3">
<g id="line2d_9">
<g>
<use href="#m5d545ce8f8" x="114.840" y="119.880" style="stroke: #000000; stroke-width: 0.8"/>
</g>
</g>
<g id="text_9">
<text style="font-size: 10px; font-family: 'DejaVu Sans', 'Liberation Sans', sans-serif; text-anchor: end" x="107.192" y="123.840">500</text>
</g>
</g>
<g id="ytick_4">
<g id="line2d_10">
<g>
<use href="#m5d545ce8f8" x="114.840" y="156.600" style="stroke: #000000; stroke-width: 0.8"/>
</g>
</g>
<g id="text_10">
<text style="font-size: 10px; font-family: 'DejaVu Sans', 'Liberation Sans', sans-serif; text-anchor: end" x="107.192" y="160.560">750</text>
</g>
</g>
<g id="ytick_5">
<g id="line2d_11">
<g>
<use href="#m5d545ce8f8" x="114.840" y="192.600" style="stroke: #000000; stroke-width: 0.8"/>
</g>
</g>
<g id="text_11">
<text style="font-size: 10px; font-family: 'DejaVu Sans', 'Liberation Sans', sans-serif; text-anchor: end" x="107.192" y="196.560">1000</text>
</g>
</g>
<g id="ytick_6">
<g id="line2d_12">
<g>
<use href="#m5d545ce8f8" x="114.840" y="229.320" style="stroke: #000000; stroke-width: 0.8"/>
</g>
</g>
<g id="text_12">
<text style="font-size: 10px; font-family: 'DejaVu Sans', 'Liberation Sans', sans-serif; text-anchor: end" x="107.192" y="233.280">1250</text>
</g>
</g>
<g id="ytick_7">
<g id="line2d_13">
<g>
<use href="#m5d545ce8f8" x="114.840" y="265.320" style="stroke: #000000; stroke-width: 0.8"/>
</g>
</g>
<g id="text_13">
<text style="font-size: 10px; font-family: 'DejaVu Sans', 'Liberation Sans', sans-serif; text-anchor: end" x="107.192" y="269.280">1500</text>
</g>
</g>
<g id="ytick_8">
<g id="line2d_14">
<g>
<use href="#m5d545ce8f8" x="114.840" y="302.040" style="stroke: #000000; stroke-width: 0.8"/>
</g>
</g>
<g id="text_14">
<text style="font-size: 10px; font-family: 'DejaVu Sans', 'Liberation Sans', sans-serif; text-anchor: end" x="107.192" y="306.000">1750</text>
</g>
</g>
<g id="ytick_9">
<g id="line2d_15">
<g>
<use href="#m5d545ce8f8" x="114.840" y="338.040" style="stroke: #000000; stroke-width: 0.8"/>
</g>
</g>
<g id="text_15">
<text style="font-size: 10px; font-family: 'DejaVu Sans', 'Liberation Sans', sans-serif; text-anchor: end" x="107.192" y="342.000">2000</text>
</g>
</g>
</g>
<g id="patch_3">
<path d="M 114.840 341.640
L 114.840 47.160
" style="fill: none; stroke: #000000; stroke-width: 0.8; stroke-linejoin: miter; stroke-linecap: square"/>
</g>
<g id="patch_4">
<path d="M 327.240 341.640
L 327.240 47.160
" style="fill: none; stroke: #000000; stroke-width: 0.8; stroke-linejoin: miter; stroke-linecap: square"/>
</g>
<g id="patch_5">
<path d="M 114.840 341.640
L 327.240 341.640
" style="fill: none; stroke: #000000; stroke-width: 0.8; stroke-linejoin: miter; stroke-linecap: square"/>
</g>
<g id="patch_6">
<path d="M 114.840 47.160
L 327.240 47.160
" style="fill: none; stroke: #000000; stroke-width: 0.8; stroke-linejoin: miter; stroke-linecap: square"/>
</g>
<g id="text_16">
<text style="font-size: 12px; font-family: 'DejaVu Sans', 'Liberation Sans', sans-serif; text-anchor: middle" x="220.386" y="41.040">CHLA_FLUORESCENCE</text>
</g>
</g>
<g id="axes_2">
<g id="patch_7">
<path d="M 422.953 341.424
L 635.341 341.424
L 635.341 46.944
L 422.953 46.944
z
" style="fill: #ffffff"/>
</g>
<g id="p1" transform="scale(0.72)"><use href="#chla" x="588" y="66"/><rect x="738" y="66" width="1" height="408" fill="#fff"/></g>
<g id="matplotlib.axis_3">
<g id="xtick_7">
<g id="line2d_16">
<g>
<use href="#m1504cfccaf" x="428.760" y="341.640" style="stroke: #000000; stroke-width: 0.8"/>
</g>
</g>
<g id="text_17">
<text style="font-size: 10px; font-family: 'DejaVu Sans', 'Liberation Sans', sans-serif; text-anchor: middle" x="428.516" y="356.400">2022.5</text>
</g>
</g>
<g id="xtick_8">
<g id="line2d_17">
<g>
<use href="#m1504cfccaf" x="465.480" y="341.640" style="stroke: #000000; stroke-width: 0.8"/>
</g>
</g>
<g id="text_18">
<text style="font-size: 10px; font-family: 'DejaVu Sans', 'Liberation Sans', sans-serif; text-anchor: middle" x="465.431" y="356.400">2023.0</text>
</g>
</g>
<g id="xtick_9">
<g id="line2d_18">
<g>
<use href="#m1504cfccaf" x="502.920" y="341.640" style="stroke: #000000; stroke-width: 0.8"/>
</g>
</g>
<g id="text_19">
<text style="font-size: 10px; font-family: 'DejaVu Sans', 'Liberation Sans', sans-serif; text-anchor: middle" x="502.346" y="356.400">2023.5</text>
</g>
</g>
<g id="xtick_10">
<g id="line2d_19">
<g>
<use href="#m1504cfccaf" x="539.640" y="341.640" style="stroke: #000000; stroke-width: 0.8"/>
</g>
</g>
<g id="text_20">
<text style="font-size: 10px; font-family: 'DejaVu Sans', 'Liberation Sans', sans-serif; text-anchor: middle" x="539.261" y="356.400">2024.0</text>
</g>
</g>
<g id="xtick_11">
<g id="line2d_20">
<g>
<use href="#m1504cfccaf" x="576.360" y="341.640" style="stroke: #000000; stroke-width: 0.8"/>
</g>
</g>
<g id="text_21">
<text style="font-size: 10px; font-family: 'DejaVu Sans', 'Liberation Sans', sans-serif; text-anchor: middle" x="576.176" y="356.400">2024.5</text>
</g>
</g>
<g id="xtick_12">
<g id="line2d_21">
<g>
<use href="#m1504cfccaf" x="613.800" y="341.640" style="stroke: #000000; stroke-width: 0.8"/>
</g>
</g>
<g id="text_22">
<text style="font-size: 10px; font-family: 'DejaVu Sans', 'Liberation Sans', sans-serif; text-anchor: middle" x="613.091" y="356.400">2025.0</text>
</g>
</g>
</g>
<g id="matplotlib.axis_4">
<g id="ytick_10">
<g id="line2d_22">
<g>
<use href="#m5d545ce8f8" x="423.000" y="47.160" style="stroke: #000000; stroke-width: 0.8"/>
</g>
</g>
<g id="text_23">
<text style="font-size: 10px; font-family: 'DejaVu Sans', 'Liberation Sans', sans-serif; text-anchor: end" x="415.953" y="51.120">0</text>
</g>
</g>
<g id="ytick_11">
<g id="line2d_23">
<g>
<use href="#m5d545ce8f8" x="423.000" y="83.880" style="stroke: #000000; stroke-width: 0.8"/>
</g>
</g>
<g id="text_24">
<text style="font-size: 10px; font-family: 'DejaVu Sans', 'Liberation Sans', sans-serif; text-anchor: end" x="415.953" y="87.120">250</text>
</g>
</g>
<g id="ytick_12">
<g id="line2d_24">
<g>
<use href="#m5d545ce8f8" x="423.000" y="119.880" style="stroke: #000000; stroke-width: 0.8"/>
</g>
</g>
<g id="text_25">
<text style="font-size: 10px; font-family: 'DejaVu Sans', 'Liberation Sans', sans-serif; text-anchor: end" x="415.953" y="123.840">500</text>
</g>
</g>
<g id="ytick_13">
<g id="line2d_25">
<g>
<use href="#m5d545ce8f8" x="423.000" y="156.600" style="stroke: #000000; stroke-width: 0.8"/>
</g>
</g>
<g id="text_26">
<text style="font-size: 10px; font-family: 'DejaVu Sans', 'Liberation Sans', sans-serif; text-anchor: end" x="415.953" y="160.560">750</text>
</g>
</g>
<g id="ytick_14">
<g id="line2d_26">
<g>
<use href="#m5d545ce8f8" x="423.000" y="192.600" style="stroke: #000000; stroke-width: 0.8"/>
</g>
</g>
<g id="text_27">
<text style="font-size: 10px; font-family: 'DejaVu Sans', 'Liberation Sans', sans-serif; text-anchor: end" x="415.953" y="196.560">1000</text>
</g>
</g>
<g id="ytick_15">
<g id="line2d_27">
<g>
<use href="#m5d545ce8f8" x="423.000" y="229.320" style="stroke: #000000; stroke-width: 0.8"/>
</g>
</g>
<g id="text_28">
<text style="font-size: 10px; font-family: 'DejaVu Sans', 'Liberation Sans', sans-serif; text-anchor: end" x="415.953" y="233.280">1250</text>
</g>
</g>
<g id="ytick_16">
<g id="line2d_28">
<g>
<use href="#m5d545ce8f8" x="423.000" y="265.320" style="stroke: #000000; stroke-width: 0.8"/>
</g>
</g>
<g id="text_29">
<text style="font-size: 10px; font-family: 'DejaVu Sans', 'Liberation Sans', sans-serif; text-anchor: end" x="415.953" y="269.280">1500</text>
</g>
</g>
<g id="ytick_17">
<g id="line2d_29">
<g>
<use href="#m5d545ce8f8" x="423.000" y="302.040" style="stroke: #000000; stroke-width: 0.8"/>
</g>
</g>
<g id="text_30">
<text style="font-size: 10px; font-family: 'DejaVu Sans', 'Liberation Sans', sans-serif; text-anchor: end" x="415.953" y="306.000">1750</text>
</g>
</g>
<g id="ytick_18">
<g id="line2d_30">
<g>
<use href="#m5d545ce8f8" x="423.000" y="338.040" style="stroke: #000000; stroke-width: 0.8"/>
</g>
</g>
<g id="text_31">
<text style="font-size: 10px; font-family: 'DejaVu Sans', 'Liberation Sans', sans-serif; text-anchor: end" x="415.953" y="342.000">2000</text>
</g>
</g>
</g>
<g id="patch_8">
<path d="M 423.000 341.640
L 423.000 47.160
" style="fill: none; stroke: #000000; stroke-width: 0.8; stroke-linejoin: miter; stroke-linecap: square"/>
</g>
<g id="patch_9">
<path d="M 635.400 341.640
L 635.400 47.160
" style="fill: none; stroke: #000000; stroke-width: 0.8; stroke-linejoin: miter; stroke-linecap: square"/>
</g>
<g id="patch_10">
<path d="M 423.000 341.640
L 635.400 341.640
" style="fill: none; stroke: #000000; stroke-width: 0.8; stroke-linejoin: miter; stroke-linecap: square"/>
</g>
<g id="patch_11">
<path d="M 423.000 47.160
L 635.400 47.160
" style="fill: none; stroke: #000000; stroke-width: 0.8; stroke-linejoin: miter; stroke-linecap: square"/>
</g>
<g id="text_32">
<text style="font-size: 12px; font-family: 'DejaVu Sans', 'Liberation Sans', sans-serif; text-anchor: middle" x="529.147" y="41.040">CHLA_FLUORESCENCE_ADJUSTED</text>
</g>
</g>
<g id="axes_3">
<g id="patch_12">
<path d="M 731.714 341.424
L 944.102 341.424
L 944.102 46.944
L 731.714 46.944
z
" style="fill: #ffffff"/>
</g>
<g id="p2" transform="scale(0.72)"><g shape-rendering="crispEdges"><rect x="1017" y="66" width="294" height="400" fill="#377eb8"/><path d="M1031 466h5v1h-5zM1037 466h1v2h-1zM1039 466h4v1h-4zM1054 466h5v1h-5zM1065 466h3v1h-3zM1089 466h5v1h-5zM1098 466h3v1h-3zM1104 466h4v1h-4zM1118 466h2v1h-2zM1122 466h3v1h-3zM1126 466h2v1h-2zM1170 466h1v1h-1zM1185 466h5v1h-5zM1195 466h1v2h-1zM1204 466h2v1h-2zM1209 466h3v1h-3zM1220 466h3v1h-3zM1223 466h1v2h-1zM1234 466h3v1h-3zM1242 466h1v2h-1zM1248 466h3v1h-3zM1261 466h1v2h-1zM1262 466h2v1h-2zM1281 466h1v1h-1zM1282 466h1v2h-1zM1284 466h5v1h-5zM1300 466h1v1h-1zM1310 466h1v1h-1z" fill="#377eb8"/><path d="M1036 463h1v3h-1zM1084 463h1v3h-1zM1094 463h1v3h-1zM1125 463h1v3h-1zM1171 463h1v3h-1zM1206 463h1v3h-1zM1306 463h1v3h-1z" fill="#fff"/><rect x="1017" y="66" width="5" height="401" fill="#4daf4a"/><rect x="1017" y="458" width="1" height="9" fill="#fff"/><rect x="1018" y="464" width="1" height="3" fill="#fff"/><rect x="1144" y="66" width="2" height="3" fill="#4daf4a"/><rect x="1144" y="69" width="2" height="399" fill="#fff"/><rect x="1168" y="66" width="1" height="402" fill="#fff"/><rect x="1149" y="66" width="5" height="1" fill="#fff"/><rect x="1182" y="66" width="2" height="9" fill="#fff"/><rect x="1182" y="66" width="5" height="1" fill="#fff"/><rect x="1202" y="66" width="3" height="1" fill="#fff"/><rect x="1289" y="449" width="1" height="18" fill="#fff"/><rect x="1105" y="465" width="2" height="9" fill="#377eb8"/><path d="M1021 68h1v1h-1zM1025 67h1v1h-1zM1028 66h1v1h-1zM1048 71h2v1h-2zM1052 69h1v1h-1zM1069 70h1v1h-1zM1076 68h1v1h-1zM1086 67h2v1h-2zM1097 68h1v1h-1zM1122 66h1v1h-1zM1126 66h2v1h-2zM1137 68h2v1h-2zM1139 71h1v1h-1zM1024 76h1v1h-1zM1021 78h1v1h-1zM1083 75h1v1h-1zM1088 74h2v1h-2zM1105 73h2v1h-2zM1114 73h1v1h-1zM1127 75h2v1h-2zM1137 75h2v1h-2zM1063 79h1v1h-1zM1045 81h1v1h-1zM1045 83h1v2h-1zM1025 83h1v1h-1zM1055 83h1v1h-1zM1019 86h2v1h-2zM1099 88h2v1h-2zM1130 87h2v1h-2zM1123 90h2v2h-2zM1080 91h1v1h-1zM1087 93h1v1h-1zM1090 93h1v1h-1zM1104 91h1v1h-1zM1104 93h1v1h-1zM1101 94h1v1h-1zM1097 96h1v1h-1zM1114 95h1v1h-1zM1112 96h2v1h-2zM1018 95h1v1h-1zM1022 96h2v1h-2zM1032 98h1v1h-1zM1109 99h2v1h-2zM1049 101h1v1h-1zM1078 101h2v1h-2zM1078 104h2v1h-2zM1080 107h1v1h-1zM1088 102h2v1h-2zM1040 110h2v1h-2zM1130 108h2v1h-2zM1135 108h1v1h-1zM1024 117h1v1h-1zM1059 117h1v1h-1zM1126 115h2v1h-2zM1094 119h1v1h-1zM1104 119h1v1h-1zM1111 118h1v1h-1zM1066 123h1v1h-1zM1136 120h1v1h-1zM1139 121h1v1h-1zM1019 126h2v2h-2zM1045 126h1v2h-1zM1059 126h1v2h-1zM1070 126h1v2h-1zM1087 126h1v2h-1zM1133 126h3v1h-3zM1137 126h3v1h-3zM1160 68h1v1h-1zM1165 69h2v1h-2zM1171 71h1v1h-1zM1167 72h1v1h-1zM1170 73h1v1h-1zM1169 74h1v1h-1zM1180 72h1v1h-1zM1184 71h1v1h-1zM1185 72h2v1h-2zM1189 70h2v2h-2zM1194 69h1v1h-1zM1198 69h1v1h-1zM1195 72h1v1h-1zM1198 72h1v1h-1zM1201 71h1v1h-1zM1202 70h1v1h-1zM1209 68h1v1h-1zM1229 67h1v1h-1zM1229 70h1v1h-1zM1234 66h2v1h-2zM1240 68h1v1h-1zM1243 67h1v1h-1zM1255 67h2v1h-2zM1272 67h2v1h-2zM1275 67h1v1h-1zM1297 67h2v1h-2zM1307 67h1v1h-1zM1174 76h1v1h-1zM1175 78h2v1h-2zM1178 75h2v1h-2zM1188 77h1v1h-1zM1201 76h1v1h-1zM1216 76h1v1h-1zM1161 82h2v1h-2zM1189 81h2v1h-2zM1184 84h1v1h-1zM1189 85h2v1h-2zM1227 82h2v1h-2zM1236 80h1v1h-1zM1243 80h1v1h-1zM1262 74h2v1h-2zM1268 74h1v1h-1zM1271 78h1v1h-1zM1280 80h2v1h-2zM1299 75h1v1h-1zM1164 92h1v1h-1zM1167 93h1v1h-1zM1180 91h1v1h-1zM1181 93h1v1h-1zM1169 96h2v1h-2zM1199 93h2v1h-2zM1201 97h1v1h-1zM1247 94h1v1h-1zM1236 98h1v1h-1zM1262 96h2v1h-2zM1265 97h2v1h-2zM1282 88h1v1h-1zM1286 87h1v1h-1zM1304 90h2v1h-2zM1165 108h2v1h-2zM1172 108h2v1h-2zM1174 110h1v2h-1zM1177 111h1v1h-1zM1182 108h2v1h-2zM1187 112h1v1h-1zM1185 114h2v1h-2zM1185 116h2v1h-2zM1192 118h2v1h-2zM1199 113h2v1h-2zM1215 103h1v1h-1zM1217 111h2v1h-2zM1217 114h2v1h-2zM1212 115h1v1h-1zM1222 117h1v1h-1zM1227 105h2v1h-2zM1237 113h2v1h-2zM1240 104h1v1h-1zM1253 109h1v1h-1zM1254 114h1v1h-1zM1257 113h1v1h-1zM1261 113h1v1h-1zM1255 101h2v1h-2zM1276 112h2v1h-2zM1275 116h1v1h-1zM1279 122h1v1h-1zM1290 103h2v1h-2zM1290 106h2v1h-2zM1297 107h2v1h-2zM1164 126h1v2h-1zM1178 126h2v2h-2zM1181 126h1v2h-1zM1194 126h1v2h-1zM1233 126h1v2h-1zM1254 126h1v1h-1zM1272 126h4v1h-4z" fill="#aa9f94"/></g></g>
<g id="matplotlib.axis_5">
<g id="xtick_13">
<g id="line2d_31">
<g>
<use href="#m1504cfccaf" x="737.640" y="341.640" style="stroke: #000000; stroke-width: 0.8"/>
</g>
</g>
<g id="text_33">
<text style="font-size: 10px; font-family: 'DejaVu Sans', 'Liberation Sans', sans-serif; text-anchor: middle" x="737.277" y="356.400">2022.5</text>
</g>
</g>
<g id="xtick_14">
<g id="line2d_32">
<g>
<use href="#m1504cfccaf" x="774.360" y="341.640" style="stroke: #000000; stroke-width: 0.8"/>
</g>
</g>
<g id="text_34">
<text style="font-size: 10px; font-family: 'DejaVu Sans', 'Liberation Sans', sans-serif; text-anchor: middle" x="774.192" y="356.400">2023.0</text>
</g>
</g>
<g id="xtick_15">
<g id="line2d_33">
<g>
<use href="#m1504cfccaf" x="811.800" y="341.640" style="stroke: #000000; stroke-width: 0.8"/>
</g>
</g>
<g id="text_35">
<text style="font-size: 10px; font-family: 'DejaVu Sans', 'Liberation Sans', sans-serif; text-anchor: middle" x="811.107" y="356.400">2023.5</text>
</g>
</g>
<g id="xtick_16">
<g id="line2d_34">
<g>
<use href="#m1504cfccaf" x="848.520" y="341.640" style="stroke: #000000; stroke-width: 0.8"/>
</g>
</g>
<g id="text_36">
<text style="font-size: 10px; font-family: 'DejaVu Sans', 'Liberation Sans', sans-serif; text-anchor: middle" x="848.022" y="356.400">2024.0</text>
</g>
</g>
<g id="xtick_17">
<g id="line2d_35">
<g>
<use href="#m1504cfccaf" x="885.240" y="341.640" style="stroke: #000000; stroke-width: 0.8"/>
</g>
</g>
<g id="text_37">
<text style="font-size: 10px; font-family: 'DejaVu Sans', 'Liberation Sans', sans-serif; text-anchor: middle" x="884.938" y="356.400">2024.5</text>
</g>
</g>
<g id="xtick_18">
<g id="line2d_36">
<g>
<use href="#m1504cfccaf" x="921.960" y="341.640" style="stroke: #000000; stroke-width: 0.8"/>
</g>
</g>
<g id="text_38">
<text style="font-size: 10px; font-family: 'DejaVu Sans', 'Liberation Sans', sans-serif; text-anchor: middle" x="921.853" y="356.400">2025.0</text>
</g>
</g>
</g>
<g id="matplotlib.axis_6">
<g id="ytick_19">
<g id="line2d_37">
<g>
<use href="#m5d545ce8f8" x="731.880" y="47.160" style="stroke: #000000; stroke-width: 0.8"/>
</g>
</g>
<g id="text_39">
<text style="font-size: 10px; font-family: 'DejaVu Sans', 'Liberation Sans', sans-serif; text-anchor: end" x="724.714" y="51.120">0</text>
</g>
</g>
<g id="ytick_20">
<g id="line2d_38">
<g>
<use href="#m5d545ce8f8" x="731.880" y="83.880" style="stroke: #000000; stroke-width: 0.8"/>
</g>
</g>
<g id="text_40">
<text style="font-size: 10px; font-family: 'DejaVu Sans', 'Liberation Sans', sans-serif; text-anchor: end" x="724.714" y="87.120">250</text>
</g>
</g>
<g id="ytick_21">
<g id="line2d_39">
<g>
<use href="#m5d545ce8f8" x="731.880" y="119.880" style="stroke: #000000; stroke-width: 0.8"/>
</g>
</g>
<g id="text_41">
<text style="font-size: 10px; font-family: 'DejaVu Sans', 'Liberation Sans', sans-serif; text-anchor: end" x="724.714" y="123.840">500</text>
</g>
</g>
<g id="ytick_22">
<g id="line2d_40">
<g>
<use href="#m5d545ce8f8" x="731.880" y="156.600" style="stroke: #000000; stroke-width: 0.8"/>
</g>
</g>
<g id="text_42">
<text style="font-size: 10px; font-family: 'DejaVu Sans', 'Liberation Sans', sans-serif; text-anchor: end" x="724.714" y="160.560">750</text>
</g>
</g>
<g id="ytick_23">
<g id="line2d_41">
<g>
<use href="#m5d545ce8f8" x="731.880" y="192.600" style="stroke: #000000; stroke-width: 0.8"/>
</g>
</g>
<g id="text_43">
<text style="font-size: 10px; font-family: 'DejaVu Sans', 'Liberation Sans', sans-serif; text-anchor: end" x="724.714" y="196.560">1000</text>
</g>
</g>
<g id="ytick_24">
<g id="line2d_42">
<g>
<use href="#m5d545ce8f8" x="731.880" y="229.320" style="stroke: #000000; stroke-width: 0.8"/>
</g>
</g>
<g id="text_44">
<text style="font-size: 10px; font-family: 'DejaVu Sans', 'Liberation Sans', sans-serif; text-anchor: end" x="724.714" y="233.280">1250</text>
</g>
</g>
<g id="ytick_25">
<g id="line2d_43">
<g>
<use href="#m5d545ce8f8" x="731.880" y="265.320" style="stroke: #000000; stroke-width: 0.8"/>
</g>
</g>
<g id="text_45">
<text style="font-size: 10px; font-family: 'DejaVu Sans', 'Liberation Sans', sans-serif; text-anchor: end" x="724.714" y="269.280">1500</text>
</g>
</g>
<g id="ytick_26">
<g id="line2d_44">
<g>
<use href="#m5d545ce8f8" x="731.880" y="302.040" style="stroke: #000000; stroke-width: 0.8"/>
</g>
</g>
<g id="text_46">
<text style="font-size: 10px; font-family: 'DejaVu Sans', 'Liberation Sans', sans-serif; text-anchor: end" x="724.714" y="306.000">1750</text>
</g>
</g>
<g id="ytick_27">
<g id="line2d_45">
<g>
<use href="#m5d545ce8f8" x="731.880" y="338.040" style="stroke: #000000; stroke-width: 0.8"/>
</g>
</g>
<g id="text_47">
<text style="font-size: 10px; font-family: 'DejaVu Sans', 'Liberation Sans', sans-serif; text-anchor: end" x="724.714" y="342.000">2000</text>
</g>
</g>
</g>
<g id="patch_13">
<path d="M 731.880 341.640
L 731.880 47.160
" style="fill: none; stroke: #000000; stroke-width: 0.8; stroke-linejoin: miter; stroke-linecap: square"/>
</g>
<g id="patch_14">
<path d="M 944.280 341.640
L 944.280 47.160
" style="fill: none; stroke: #000000; stroke-width: 0.8; stroke-linejoin: miter; stroke-linecap: square"/>
</g>
<g id="patch_15">
<path d="M 731.880 341.640
L 944.280 341.640
" style="fill: none; stroke: #000000; stroke-width: 0.8; stroke-linejoin: miter; stroke-linecap: square"/>
</g>
<g id="patch_16">
<path d="M 731.880 47.160
L 944.280 47.160
" style="fill: none; stroke: #000000; stroke-width: 0.8; stroke-linejoin: miter; stroke-linecap: square"/>
</g>
<g id="text_48">
<text style="font-size: 12px; font-family: 'DejaVu Sans', 'Liberation Sans', sans-serif; text-anchor: middle" x="837.909" y="41.040">CHLA_FLUORESCENCE_ADJUSTED_QC</text>
</g>
</g>
<g id="axes_4">
<g id="patch_17">
<path d="M 114.192 692.064
L 379.677 692.064
L 379.677 397.584
L 114.192 397.584
z
" style="fill: #ffffff"/>
</g>
<g id="p3" transform="scale(0.72)"><g shape-rendering="crispEdges"><rect x="159" y="756" width="368" height="3" fill="#1f77b4"/><rect x="159" y="755" width="368" height="1" fill="#1f77b4" opacity="0.12"/><rect x="159" y="759" width="368" height="1" fill="#1f77b4" opacity="0.12"/></g></g>
<g id="matplotlib.axis_7">
<g id="xtick_19">
<g id="line2d_46">
<g>
<use href="#m1504cfccaf" x="121.320" y="692.280" style="stroke: #000000; stroke-width: 0.8"/>
</g>
</g>
<g id="text_49">
<text style="font-size: 10px; font-family: 'DejaVu Sans', 'Liberation Sans', sans-serif; text-anchor: middle" x="121.145" y="707.040">2022.5</text>
</g>
</g>
<g id="xtick_20">
<g id="line2d_47">
<g>
<use href="#m1504cfccaf" x="167.400" y="692.280" style="stroke: #000000; stroke-width: 0.8"/>
</g>
</g>
<g id="text_50">
<text style="font-size: 10px; font-family: 'DejaVu Sans', 'Liberation Sans', sans-serif; text-anchor: middle" x="167.289" y="707.040">2023.0</text>
</g>
</g>
<g id="xtick_21">
<g id="line2d_48">
<g>
<use href="#m1504cfccaf" x="213.480" y="692.280" style="stroke: #000000; stroke-width: 0.8"/>
</g>
</g>
<g id="text_51">
<text style="font-size: 10px; font-family: 'DejaVu Sans', 'Liberation Sans', sans-serif; text-anchor: middle" x="213.433" y="707.040">2023.5</text>
</g>
</g>
<g id="xtick_22">
<g id="line2d_49">
<g>
<use href="#m1504cfccaf" x="260.280" y="692.280" style="stroke: #000000; stroke-width: 0.8"/>
</g>
</g>
<g id="text_52">
<text style="font-size: 10px; font-family: 'DejaVu Sans', 'Liberation Sans', sans-serif; text-anchor: middle" x="259.577" y="707.040">2024.0</text>
</g>
</g>
<g id="xtick_23">
<g id="line2d_50">
<g>
<use href="#m1504cfccaf" x="306.360" y="692.280" style="stroke: #000000; stroke-width: 0.8"/>
</g>
</g>
<g id="text_53">
<text style="font-size: 10px; font-family: 'DejaVu Sans', 'Liberation Sans', sans-serif; text-anchor: middle" x="305.721" y="707.040">2024.5</text>
</g>
</g>
<g id="xtick_24">
<g id="line2d_51">
<g>
<use href="#m1504cfccaf" x="352.440" y="692.280" style="stroke: #000000; stroke-width: 0.8"/>
</g>
</g>
<g id="text_54">
<text style="font-size: 10px; font-family: 'DejaVu Sans', 'Liberation Sans', sans-serif; text-anchor: middle" x="351.865" y="707.040">2025.0</text>
</g>
</g>
</g>
<g id="matplotlib.axis_8">
<g id="ytick_28">
<g id="line2d_52">
<g>
<use href="#m5d545ce8f8" x="114.840" y="692.280" style="stroke: #000000; stroke-width: 0.8"/>
</g>
</g>
<g id="text_55">
<text style="font-size: 10px; font-family: 'DejaVu Sans', 'Liberation Sans', sans-serif; text-anchor: end" x="107.192" y="696.240">Real Time</text>
</g>
</g>
<g id="ytick_29">
<g id="line2d_53">
<g>
<use href="#m5d545ce8f8" x="114.840" y="545.400" style="stroke: #000000; stroke-width: 0.8"/>
</g>
</g>
<g id="text_56">
<text style="font-size: 10px; font-family: 'DejaVu Sans', 'Liberation Sans', sans-serif; text-anchor: end" x="107.192" y="548.640">Real Time Adjusted</text>
</g>
</g>
<g id="ytick_30">
<g id="line2d_54">
<g>
<use href="#m5d545ce8f8" x="114.840" y="397.800" style="stroke: #000000; stroke-width: 0.8"/>
</g>
</g>
<g id="text_57">
<text style="font-size: 10px; font-family: 'DejaVu Sans', 'Liberation Sans', sans-serif; text-anchor: end" x="107.192" y="401.760">Delayed Mode</text>
</g>
</g>
</g>
<g id="patch_18">
<path d="M 114.840 692.280
L 114.840 397.800
" style="fill: none; stroke: #000000; stroke-width: 0.8; stroke-linejoin: miter; stroke-linecap: square"/>
</g>
<g id="patch_19">
<path d="M 379.800 692.280
L 379.800 397.800
" style="fill: none; stroke: #000000; stroke-width: 0.8; stroke-linejoin: miter; stroke-linecap: square"/>
</g>
<g id="patch_20">
<path d="M 114.840 692.280
L 379.800 692.280
" style="fill: none; stroke: #000000; stroke-width: 0.8; stroke-linejoin: miter; stroke-linecap: square"/>
</g>
<g id="patch_21">
<path d="M 114.840 397.800
L 379.800 397.800
" style="fill: none; stroke: #000000; stroke-width: 0.8; stroke-linejoin: miter; stroke-linecap: square"/>
</g>
<g id="text_58">
<text style="font-size: 12px; font-family: 'DejaVu Sans', 'Liberation Sans', sans-serif" x="172.571" y="378.720">Mode. Blue=D, Red=RT,</text>
<text style="font-size: 12px; font-family: 'DejaVu Sans', 'Liberation Sans', sans-serif" x="169.878" y="391.680">Gray=Real Time Adjusted</text>
</g>
</g>
<g id="axes_5">
<g id="patch_22">
<path d="M 422.953 692.064
L 635.341 692.064
L 635.341 397.584
L 422.953 397.584
z
" style="fill: #ffffff"/>
</g>
<g id="p4" transform="scale(0.72)"><use href="#chlab" x="588" y="553"/><rect x="738" y="553" width="1" height="408" fill="#fff"/></g>
<g id="matplotlib.axis_9">
<g id="xtick_25">
<g id="line2d_55">
<g>
<use href="#m1504cfccaf" x="428.760" y="692.280" style="stroke: #000000; stroke-width: 0.8"/>
</g>
</g>
<g id="text_59">
<text style="font-size: 10px; font-family: 'DejaVu Sans', 'Liberation Sans', sans-serif; text-anchor: middle" x="428.516" y="707.040">2022.5</text>
</g>
</g>
<g id="xtick_26">
<g id="line2d_56">
<g>
<use href="#m1504cfccaf" x="465.480" y="692.280" style="stroke: #000000; stroke-width: 0.8"/>
</g>
</g>
<g id="text_60">
<text style="font-size: 10px; font-family: 'DejaVu Sans', 'Liberation Sans', sans-serif; text-anchor: middle" x="465.431" y="707.040">2023.0</text>
</g>
</g>
<g id="xtick_27">
<g id="line2d_57">
<g>
<use href="#m1504cfccaf" x="502.920" y="692.280" style="stroke: #000000; stroke-width: 0.8"/>
</g>
</g>
<g id="text_61">
<text style="font-size: 10px; font-family: 'DejaVu Sans', 'Liberation Sans', sans-serif; text-anchor: middle" x="502.346" y="707.040">2023.5</text>
</g>
</g>
<g id="xtick_28">
<g id="line2d_58">
<g>
<use href="#m1504cfccaf" x="539.640" y="692.280" style="stroke: #000000; stroke-width: 0.8"/>
</g>
</g>
<g id="text_62">
<text style="font-size: 10px; font-family: 'DejaVu Sans', 'Liberation Sans', sans-serif; text-anchor: middle" x="539.261" y="707.040">2024.0</text>
</g>
</g>
<g id="xtick_29">
<g id="line2d_59">
<g>
<use href="#m1504cfccaf" x="576.360" y="692.280" style="stroke: #000000; stroke-width: 0.8"/>
</g>
</g>
<g id="text_63">
<text style="font-size: 10px; font-family: 'DejaVu Sans', 'Liberation Sans', sans-serif; text-anchor: middle" x="576.176" y="707.040">2024.5</text>
</g>
</g>
<g id="xtick_30">
<g id="line2d_60">
<g>
<use href="#m1504cfccaf" x="613.800" y="692.280" style="stroke: #000000; stroke-width: 0.8"/>
</g>
</g>
<g id="text_64">
<text style="font-size: 10px; font-family: 'DejaVu Sans', 'Liberation Sans', sans-serif; text-anchor: middle" x="613.091" y="707.040">2025.0</text>
</g>
</g>
</g>
<g id="matplotlib.axis_10">
<g id="ytick_31">
<g id="line2d_61">
<g>
<use href="#m5d545ce8f8" x="423.000" y="397.800" style="stroke: #000000; stroke-width: 0.8"/>
</g>
</g>
<g id="text_65">
<text style="font-size: 10px; font-family: 'DejaVu Sans', 'Liberation Sans', sans-serif; text-anchor: end" x="415.953" y="401.760">0</text>
</g>
</g>
<g id="ytick_32">
<g id="line2d_62">
<g>
<use href="#m5d545ce8f8" x="423.000" y="434.520" style="stroke: #000000; stroke-width: 0.8"/>
</g>
</g>
<g id="text_66">
<text style="font-size: 10px; font-family: 'DejaVu Sans', 'Liberation Sans', sans-serif; text-anchor: end" x="415.953" y="437.760">250</text>
</g>
</g>
<g id="ytick_33">
<g id="line2d_63">
<g>
<use href="#m5d545ce8f8" x="423.000" y="470.520" style="stroke: #000000; stroke-width: 0.8"/>
</g>
</g>
<g id="text_67">
<text style="font-size: 10px; font-family: 'DejaVu Sans', 'Liberation Sans', sans-serif; text-anchor: end" x="415.953" y="474.480">500</text>
</g>
</g>
<g id="ytick_34">
<g id="line2d_64">
<g>
<use href="#m5d545ce8f8" x="423.000" y="507.240" style="stroke: #000000; stroke-width: 0.8"/>
</g>
</g>
<g id="text_68">
<text style="font-size: 10px; font-family: 'DejaVu Sans', 'Liberation Sans', sans-serif; text-anchor: end" x="415.953" y="511.200">750</text>
</g>
</g>
<g id="ytick_35">
<g id="line2d_65">
<g>
<use href="#m5d545ce8f8" x="423.000" y="543.240" style="stroke: #000000; stroke-width: 0.8"/>
</g>
</g>
<g id="text_69">
<text style="font-size: 10px; font-family: 'DejaVu Sans', 'Liberation Sans', sans-serif; text-anchor: end" x="415.953" y="547.200">1000</text>
</g>
</g>
<g id="ytick_36">
<g id="line2d_66">
<g>
<use href="#m5d545ce8f8" x="423.000" y="579.960" style="stroke: #000000; stroke-width: 0.8"/>
</g>
</g>
<g id="text_70">
<text style="font-size: 10px; font-family: 'DejaVu Sans', 'Liberation Sans', sans-serif; text-anchor: end" x="415.953" y="583.920">1250</text>
</g>
</g>
<g id="ytick_37">
<g id="line2d_67">
<g>
<use href="#m5d545ce8f8" x="423.000" y="615.960" style="stroke: #000000; stroke-width: 0.8"/>
</g>
</g>
<g id="text_71">
<text style="font-size: 10px; font-family: 'DejaVu Sans', 'Liberation Sans', sans-serif; text-anchor: end" x="415.953" y="619.920">1500</text>
</g>
</g>
<g id="ytick_38">
<g id="line2d_68">
<g>
<use href="#m5d545ce8f8" x="423.000" y="652.680" style="stroke: #000000; stroke-width: 0.8"/>
</g>
</g>
<g id="text_72">
<text style="font-size: 10px; font-family: 'DejaVu Sans', 'Liberation Sans', sans-serif; text-anchor: end" x="415.953" y="656.640">1750</text>
</g>
</g>
<g id="ytick_39">
<g id="line2d_69">
<g>
<use href="#m5d545ce8f8" x="423.000" y="688.680" style="stroke: #000000; stroke-width: 0.8"/>
</g>
</g>
<g id="text_73">
<text style="font-size: 10px; font-family: 'DejaVu Sans', 'Liberation Sans', sans-serif; text-anchor: end" x="415.953" y="692.640">2000</text>
</g>
</g>
</g>
<g id="patch_23">
<path d="M 423.000 692.280
L 423.000 397.800
" style="fill: none; stroke: #000000; stroke-width: 0.8; stroke-linejoin: miter; stroke-linecap: square"/>
</g>
<g id="patch_24">
<path d="M 635.400 692.280
L 635.400 397.800
" style="fill: none; stroke: #000000; stroke-width: 0.8; stroke-linejoin: miter; stroke-linecap: square"/>
</g>
<g id="patch_25">
<path d="M 423.000 692.280
L 635.400 692.280
" style="fill: none; stroke: #000000; stroke-width: 0.8; stroke-linejoin: miter; stroke-linecap: square"/>
</g>
<g id="patch_26">
<path d="M 423.000 397.800
L 635.400 397.800
" style="fill: none; stroke: #000000; stroke-width: 0.8; stroke-linejoin: miter; stroke-linecap: square"/>
</g>
<g id="text_74">
<text style="font-size: 12px; font-family: 'DejaVu Sans', 'Liberation Sans', sans-serif" x="386.255" y="378.000">CHLA_FLUORESCENCE_ADJUSTED_BGCArgoPlus</text>
<text style="font-size: 12px; font-family: 'DejaVu Sans', 'Liberation Sans', sans-serif" x="486.732" y="391.680">Processing: F_</text>
</g>
</g>
<g id="axes_6">
<g id="patch_27">
<path d="M 731.714 692.064
L 997.2 692.064
L 997.2 397.584
L 731.714 397.584
z
" style="fill: #ffffff"/>
</g>
<g id="p5" transform="scale(0.72)"></g>
<g id="matplotlib.axis_11">
<g id="xtick_31">
<g id="line2d_70">
<g>
<use href="#m1504cfccaf" x="739.080" y="692.280" style="stroke: #000000; stroke-width: 0.8"/>
</g>
</g>
<g id="text_75">
<text style="font-size: 10px; font-family: 'DejaVu Sans', 'Liberation Sans', sans-serif; text-anchor: middle" x="738.668" y="707.040">2022.5</text>
</g>
</g>
<g id="xtick_32">
<g id="line2d_71">
<g>
<use href="#m1504cfccaf" x="785.160" y="692.280" style="stroke: #000000; stroke-width: 0.8"/>
</g>
</g>
<g id="text_76">
<text style="font-size: 10px; font-family: 'DejaVu Sans', 'Liberation Sans', sans-serif; text-anchor: middle" x="784.812" y="707.040">2023.0</text>
</g>
</g>
<g id="xtick_33">
<g id="line2d_72">
<g>
<use href="#m1504cfccaf" x="831.240" y="692.280" style="stroke: #000000; stroke-width: 0.8"/>
</g>
</g>
<g id="text_77">
<text style="font-size: 10px; font-family: 'DejaVu Sans', 'Liberation Sans', sans-serif; text-anchor: middle" x="830.955" y="707.040">2023.5</text>
</g>
</g>
<g id="xtick_34">
<g id="line2d_73">
<g>
<use href="#m1504cfccaf" x="877.320" y="692.280" style="stroke: #000000; stroke-width: 0.8"/>
</g>
</g>
<g id="text_78">
<text style="font-size: 10px; font-family: 'DejaVu Sans', 'Liberation Sans', sans-serif; text-anchor: middle" x="877.099" y="707.040">2024.0</text>
</g>
</g>
<g id="xtick_35">
<g id="line2d_74">
<g>
<use href="#m1504cfccaf" x="923.400" y="692.280" style="stroke: #000000; stroke-width: 0.8"/>
</g>
</g>
<g id="text_79">
<text style="font-size: 10px; font-family: 'DejaVu Sans', 'Liberation Sans', sans-serif; text-anchor: middle" x="923.243" y="707.040">2024.5</text>
</g>
</g>
<g id="xtick_36">
<g id="line2d_75">
<g>
<use href="#m1504cfccaf" x="969.480" y="692.280" style="stroke: #000000; stroke-width: 0.8"/>
</g>
</g>
<g id="text_80">
<text style="font-size: 10px; font-family: 'DejaVu Sans', 'Liberation Sans', sans-serif; text-anchor: middle" x="969.387" y="707.040">2025.0</text>
</g>
</g>
</g>
<g id="matplotlib.axis_12">
<g id="ytick_40">
<g id="line2d_76">
<g>
<use href="#m5d545ce8f8" x="731.880" y="397.800" style="stroke: #000000; stroke-width: 0.8"/>
</g>
</g>
<g id="text_81">
<text style="font-size: 10px; font-family: 'DejaVu Sans', 'Liberation Sans', sans-serif; text-anchor: end" x="724.714" y="401.760">0</text>
</g>
</g>
<g id="ytick_41">
<g id="line2d_77">
<g>
<use href="#m5d545ce8f8" x="731.880" y="434.520" style="stroke: #000000; stroke-width: 0.8"/>
</g>
</g>
<g id="text_82">
<text style="font-size: 10px; font-family: 'DejaVu Sans', 'Liberation Sans', sans-serif; text-anchor: end" x="724.714" y="437.760">250</text>
</g>
</g>
<g id="ytick_42">
<g id="line2d_78">
<g>
<use href="#m5d545ce8f8" x="731.880" y="470.520" style="stroke: #000000; stroke-width: 0.8"/>
</g>
</g>
<g id="text_83">
<text style="font-size: 10px; font-family: 'DejaVu Sans', 'Liberation Sans', sans-serif; text-anchor: end" x="724.714" y="474.480">500</text>
</g>
</g>
<g id="ytick_43">
<g id="line2d_79">
<g>
<use href="#m5d545ce8f8" x="731.880" y="507.240" style="stroke: #000000; stroke-width: 0.8"/>
</g>
</g>
<g id="text_84">
<text style="font-size: 10px; font-family: 'DejaVu Sans', 'Liberation Sans', sans-serif; text-anchor: end" x="724.714" y="511.200">750</text>
</g>
</g>
<g id="ytick_44">
<g id="line2d_80">
<g>
<use href="#m5d545ce8f8" x="731.880" y="543.240" style="stroke: #000000; stroke-width: 0.8"/>
</g>
</g>
<g id="text_85">
<text style="font-size: 10px; font-family: 'DejaVu Sans', 'Liberation Sans', sans-serif; text-anchor: end" x="724.714" y="547.200">1000</text>
</g>
</g>
<g id="ytick_45">
<g id="line2d_81">
<g>
<use href="#m5d545ce8f8" x="731.880" y="579.960" style="stroke: #000000; stroke-width: 0.8"/>
</g>
</g>
<g id="text_86">
<text style="font-size: 10px; font-family: 'DejaVu Sans', 'Liberation Sans', sans-serif; text-anchor: end" x="724.714" y="583.920">1250</text>
</g>
</g>
<g id="ytick_46">
<g id="line2d_82">
<g>
<use href="#m5d545ce8f8" x="731.880" y="615.960" style="stroke: #000000; stroke-width: 0.8"/>
</g>
</g>
<g id="text_87">
<text style="font-size: 10px; font-family: 'DejaVu Sans', 'Liberation Sans', sans-serif; text-anchor: end" x="724.714" y="619.920">1500</text>
</g>
</g>
<g id="ytick_47">
<g id="line2d_83">
<g>
<use href="#m5d545ce8f8" x="731.880" y="652.680" style="stroke: #000000; stroke-width: 0.8"/>
</g>
</g>
<g id="text_88">
<text style="font-size: 10px; font-family: 'DejaVu Sans', 'Liberation Sans', sans-serif; text-anchor: end" x="724.714" y="656.640">1750</text>
</g>
</g>
<g id="ytick_48">
<g id="line2d_84">
<g>
<use href="#m5d545ce8f8" x="731.880" y="688.680" style="stroke: #000000; stroke-width: 0.8"/>
</g>
</g>
<g id="text_89">
<text style="font-size: 10px; font-family: 'DejaVu Sans', 'Liberation Sans', sans-serif; text-anchor: end" x="724.714" y="692.640">2000</text>
</g>
</g>
</g>
<g id="patch_28">
<path d="M 731.880 692.280
L 731.880 397.800
" style="fill: none; stroke: #000000; stroke-width: 0.8; stroke-linejoin: miter; stroke-linecap: square"/>
</g>
<g id="patch_29">
<path d="M 997.560 692.280
L 997.560 397.800
" style="fill: none; stroke: #000000; stroke-width: 0.8; stroke-linejoin: miter; stroke-linecap: square"/>
</g>
<g id="patch_30">
<path d="M 731.880 692.280
L 997.560 692.280
" style="fill: none; stroke: #000000; stroke-width: 0.8; stroke-linejoin: miter; stroke-linecap: square"/>
</g>
<g id="patch_31">
<path d="M 731.880 397.800
L 997.560 397.800
" style="fill: none; stroke: #000000; stroke-width: 0.8; stroke-linejoin: miter; stroke-linecap: square"/>
</g>
<g id="text_90">
<text style="font-size: 12px; font-family: 'DejaVu Sans', 'Liberation Sans', sans-serif; text-anchor: middle" x="864.457" y="391.680">Outliers Removed</text>
</g>
</g>
<g id="axes_7">
<g id="patch_32">
<path d="M 339.854 341.424
L 354.578 341.424
L 354.578 46.944
L 339.854 46.944
z
" style="fill: #ffffff"/>
</g>
<g id="p0_cb" transform="scale(0.72)"><rect x="472.02" y="65.20" width="20.45" height="409.00" fill="url(#plg)"/></g>
<g id="matplotlib.axis_13"/>
<g id="matplotlib.axis_14">
<g id="ytick_49">
<g id="line2d_85">
<defs>
<path id="m33c4ce201d" d="M 0 0
L 3.6 0
" style="stroke: #000000; stroke-width: 0.8"/>
</defs>
<g>
<use href="#m33c4ce201d" x="354.600" y="341.640" style="stroke: #000000; stroke-width: 0.8"/>
</g>
</g>
<g id="text_91">
<text style="font-size: 10px; font-family: 'DejaVu Sans', 'Liberation Sans', sans-serif; text-anchor: start" x="361.579" y="345.600">0</text>
</g>
</g>
<g id="ytick_50">
<g id="line2d_86">
<g>
<use href="#m33c4ce201d" x="354.600" y="292.680" style="stroke: #000000; stroke-width: 0.8"/>
</g>
</g>
<g id="text_92">
<text style="font-size: 10px; font-family: 'DejaVu Sans', 'Liberation Sans', sans-serif; text-anchor: start" x="361.579" y="295.920">5</text>
</g>
</g>
<g id="ytick_51">
<g id="line2d_87">
<g>
<use href="#m33c4ce201d" x="354.600" y="243.000" style="stroke: #000000; stroke-width: 0.8"/>
</g>
</g>
<g id="text_93">
<text style="font-size: 10px; font-family: 'DejaVu Sans', 'Liberation Sans', sans-serif; text-anchor: start" x="361.579" y="246.960">10</text>
</g>
</g>
<g id="ytick_52">
<g id="line2d_88">
<g>
<use href="#m33c4ce201d" x="354.600" y="193.320" style="stroke: #000000; stroke-width: 0.8"/>
</g>
</g>
<g id="text_94">
<text style="font-size: 10px; font-family: 'DejaVu Sans', 'Liberation Sans', sans-serif; text-anchor: start" x="361.579" y="197.280">15</text>
</g>
</g>
<g id="ytick_53">
<g id="line2d_89">
<g>
<use href="#m33c4ce201d" x="354.600" y="143.640" style="stroke: #000000; stroke-width: 0.8"/>
</g>
</g>
<g id="text_95">
<text style="font-size: 10px; font-family: 'DejaVu Sans', 'Liberation Sans', sans-serif; text-anchor: start" x="361.579" y="147.600">20</text>
</g>
</g>
<g id="ytick_54">
<g id="line2d_90">
<g>
<use href="#m33c4ce201d" x="354.600" y="94.680" style="stroke: #000000; stroke-width: 0.8"/>
</g>
</g>
<g id="text_96">
<text style="font-size: 10px; font-family: 'DejaVu Sans', 'Liberation Sans', sans-serif; text-anchor: start" x="361.579" y="98.640">25</text>
</g>
</g>
</g>
<g id="LineCollection_1"/>
<g id="patch_33">
<path d="M 340.200 341.640
L 347.400 341.640
L 354.600 341.640
L 354.600 47.160
L 347.400 47.160
L 340.200 47.160
L 340.200 341.640
z
" style="fill: none; stroke: #000000; stroke-width: 0.8; stroke-linejoin: miter; stroke-linecap: square"/>
</g>
</g>
<g id="axes_8">
<g id="patch_34">
<path d="M 648.615 341.424
L 663.339 341.424
L 663.339 46.944
L 648.615 46.944
z
" style="fill: #ffffff"/>
</g>
<g id="p1_cb" transform="scale(0.72)"><rect x="900.86" y="65.20" width="20.45" height="409.00" fill="url(#plg)"/></g>
<g id="matplotlib.axis_15"/>
<g id="matplotlib.axis_16">
<g id="ytick_55">
<g id="line2d_91">
<g>
<use href="#m33c4ce201d" x="663.480" y="341.640" style="stroke: #000000; stroke-width: 0.8"/>
</g>
</g>
<g id="text_97">
<text style="font-size: 10px; font-family: 'DejaVu Sans', 'Liberation Sans', sans-serif; text-anchor: start" x="670.340" y="345.600">0</text>
</g>
</g>
<g id="ytick_56">
<g id="line2d_92">
<g>
<use href="#m33c4ce201d" x="663.480" y="292.680" style="stroke: #000000; stroke-width: 0.8"/>
</g>
</g>
<g id="text_98">
<text style="font-size: 10px; font-family: 'DejaVu Sans', 'Liberation Sans', sans-serif; text-anchor: start" x="670.340" y="295.920">5</text>
</g>
</g>
<g id="ytick_57">
<g id="line2d_93">
<g>
<use href="#m33c4ce201d" x="663.480" y="243.000" style="stroke: #000000; stroke-width: 0.8"/>
</g>
</g>
<g id="text_99">
<text style="font-size: 10px; font-family: 'DejaVu Sans', 'Liberation Sans', sans-serif; text-anchor: start" x="670.340" y="246.960">10</text>
</g>
</g>
<g id="ytick_58">
<g id="line2d_94">
<g>
<use href="#m33c4ce201d" x="663.480" y="193.320" style="stroke: #000000; stroke-width: 0.8"/>
</g>
</g>
<g id="text_100">
<text style="font-size: 10px; font-family: 'DejaVu Sans', 'Liberation Sans', sans-serif; text-anchor: start" x="670.340" y="197.280">15</text>
</g>
</g>
<g id="ytick_59">
<g id="line2d_95">
<g>
<use href="#m33c4ce201d" x="663.480" y="143.640" style="stroke: #000000; stroke-width: 0.8"/>
</g>
</g>
<g id="text_101">
<text style="font-size: 10px; font-family: 'DejaVu Sans', 'Liberation Sans', sans-serif; text-anchor: start" x="670.340" y="147.600">20</text>
</g>
</g>
<g id="ytick_60">
<g id="line2d_96">
<g>
<use href="#m33c4ce201d" x="663.480" y="94.680" style="stroke: #000000; stroke-width: 0.8"/>
</g>
</g>
<g id="text_102">
<text style="font-size: 10px; font-family: 'DejaVu Sans', 'Liberation Sans', sans-serif; text-anchor: start" x="670.340" y="98.640">25</text>
</g>
</g>
</g>
<g id="LineCollection_2"/>
<g id="patch_35">
<path d="M 649.080 341.640
L 656.280 341.640
L 663.480 341.640
L 663.480 47.160
L 656.280 47.160
L 649.080 47.160
L 649.080 341.640
z
" style="fill: none; stroke: #000000; stroke-width: 0.8; stroke-linejoin: miter; stroke-linecap: square"/>
</g>
</g>
<g id="axes_9">
<g id="patch_36">
<path d="M 957.377 341.424
L 972.101 341.424
L 972.101 46.944
L 957.377 46.944
z
" style="fill: #ffffff"/>
</g>
<g id="p2_cb" transform="scale(0.72)"><rect x="1329.69" y="428.76" width="20.45" height="45.74" fill="#e41a1c"/><rect x="1329.69" y="383.31" width="20.45" height="45.74" fill="#377eb8"/><rect x="1329.69" y="337.87" width="20.45" height="45.74" fill="#4daf4a"/><rect x="1329.69" y="292.42" width="20.45" height="45.74" fill="#984ea3"/><rect x="1329.69" y="246.98" width="20.45" height="45.74" fill="#ff7f00"/><rect x="1329.69" y="201.53" width="20.45" height="45.74" fill="#ffff33"/><rect x="1329.69" y="156.09" width="20.45" height="45.74" fill="#a65628"/><rect x="1329.69" y="110.64" width="20.45" height="45.74" fill="#f781bf"/><rect x="1329.69" y="65.20" width="20.45" height="45.74" fill="#999999"/></g>
<g id="matplotlib.axis_17"/>
<g id="matplotlib.axis_18">
<g id="ytick_61">
<g id="line2d_97">
<g>
<use href="#m33c4ce201d" x="972.360" y="341.640" style="stroke: #000000; stroke-width: 0.8"/>
</g>
</g>
<g id="text_103">
<text style="font-size: 10px; font-family: 'DejaVu Sans', 'Liberation Sans', sans-serif; text-anchor: start" x="979.101" y="345.600">0</text>
</g>
</g>
<g id="ytick_62">
<g id="line2d_98">
<g>
<use href="#m33c4ce201d" x="972.360" y="304.920" style="stroke: #000000; stroke-width: 0.8"/>
</g>
</g>
<g id="text_104">
<text style="font-size: 10px; font-family: 'DejaVu Sans', 'Liberation Sans', sans-serif; text-anchor: start" x="979.101" y="308.880">1</text>
</g>
</g>
<g id="ytick_63">
<g id="line2d_99">
<g>
<use href="#m33c4ce201d" x="972.360" y="268.200" style="stroke: #000000; stroke-width: 0.8"/>
</g>
</g>
<g id="text_105">
<text style="font-size: 10px; font-family: 'DejaVu Sans', 'Liberation Sans', sans-serif; text-anchor: start" x="979.101" y="272.160">2</text>
</g>
</g>
<g id="ytick_64">
<g id="line2d_100">
<g>
<use href="#m33c4ce201d" x="972.360" y="231.480" style="stroke: #000000; stroke-width: 0.8"/>
</g>
</g>
<g id="text_106">
<text style="font-size: 10px; font-family: 'DejaVu Sans', 'Liberation Sans', sans-serif; text-anchor: start" x="979.101" y="235.440">3</text>
</g>
</g>
<g id="ytick_65">
<g id="line2d_101">
<g>
<use href="#m33c4ce201d" x="972.360" y="194.760" style="stroke: #000000; stroke-width: 0.8"/>
</g>
</g>
<g id="text_107">
<text style="font-size: 10px; font-family: 'DejaVu Sans', 'Liberation Sans', sans-serif; text-anchor: start" x="979.101" y="198.000">4</text>
</g>
</g>
<g id="ytick_66">
<g id="line2d_102">
<g>
<use href="#m33c4ce201d" x="972.360" y="158.040" style="stroke: #000000; stroke-width: 0.8"/>
</g>
</g>
<g id="text_108">
<text style="font-size: 10px; font-family: 'DejaVu Sans', 'Liberation Sans', sans-serif; text-anchor: start" x="979.101" y="161.280">5</text>
</g>
</g>
<g id="ytick_67">
<g id="line2d_103">
<g>
<use href="#m33c4ce201d" x="972.360" y="120.600" style="stroke: #000000; stroke-width: 0.8"/>
</g>
</g>
<g id="text_109">
<text style="font-size: 10px; font-family: 'DejaVu Sans', 'Liberation Sans', sans-serif; text-anchor: start" x="979.101" y="124.560">6</text>
</g>
</g>
<g id="ytick_68">
<g id="line2d_104">
<g>
<use href="#m33c4ce201d" x="972.360" y="83.880" style="stroke: #000000; stroke-width: 0.8"/>
</g>
</g>
<g id="text_110">
<text style="font-size: 10px; font-family: 'DejaVu Sans', 'Liberation Sans', sans-serif; text-anchor: start" x="979.101" y="87.840">7</text>
</g>
</g>
<g id="ytick_69">
<g id="line2d_105">
<g>
<use href="#m33c4ce201d" x="972.360" y="47.160" style="stroke: #000000; stroke-width: 0.8"/>
</g>
</g>
<g id="text_111">
<text style="font-size: 10px; font-family: 'DejaVu Sans', 'Liberation Sans', sans-serif; text-anchor: start" x="979.101" y="51.120">8</text>
</g>
</g>
</g>
<g id="LineCollection_3"/>
<g id="patch_37">
<path d="M 957.960 341.640
L 965.160 341.640
L 972.360 341.640
L 972.360 47.160
L 965.160 47.160
L 957.960 47.160
L 957.960 341.640
z
" style="fill: none; stroke: #000000; stroke-width: 0.8; stroke-linejoin: miter; stroke-linecap: square"/>
</g>
</g>
<g id="axes_10">
<g id="patch_38">
<path d="M 648.615 692.064
L 663.339 692.064
L 663.339 397.584
L 648.615 397.584
z
" style="fill: #ffffff"/>
</g>
<g id="p4_cb" transform="scale(0.72)"><rect x="900.86" y="552.20" width="20.45" height="409.00" fill="url(#plg)"/></g>
<g id="matplotlib.axis_19"/>
<g id="matplotlib.axis_20">
<g id="ytick_70">
<g id="line2d_106">
<g>
<use href="#m33c4ce201d" x="663.480" y="692.280" style="stroke: #000000; stroke-width: 0.8"/>
</g>
</g>
<g id="text_112">
<text style="font-size: 10px; font-family: 'DejaVu Sans', 'Liberation Sans', sans-serif; text-anchor: start" x="670.340" y="696.240">0</text>
</g>
</g>
<g id="ytick_71">
<g id="line2d_107">
<g>
<use href="#m33c4ce201d" x="663.480" y="643.320" style="stroke: #000000; stroke-width: 0.8"/>
</g>
</g>
<g id="text_113">
<text style="font-size: 10px; font-family: 'DejaVu Sans', 'Liberation Sans', sans-serif; text-anchor: start" x="670.340" y="646.560">5</text>
</g>
</g>
<g id="ytick_72">
<g id="line2d_108">
<g>
<use href="#m33c4ce201d" x="663.480" y="593.640" style="stroke: #000000; stroke-width: 0.8"/>
</g>
</g>
<g id="text_114">
<text style="font-size: 10px; font-family: 'DejaVu Sans', 'Liberation Sans', sans-serif; text-anchor: start" x="670.340" y="597.600">10</text>
</g>
</g>
<g id="ytick_73">
<g id="line2d_109">
<g>
<use href="#m33c4ce201d" x="663.480" y="543.960" style="stroke: #000000; stroke-width: 0.8"/>
</g>
</g>
<g id="text_115">
<text style="font-size: 10px; font-family: 'DejaVu Sans', 'Liberation Sans', sans-serif; text-anchor: start" x="670.340" y="547.920">15</text>
</g>
</g>
<g id="ytick_74">
<g id="line2d_110">
<g>
<use href="#m33c4ce201d" x="663.480" y="494.280" style="stroke: #000000; stroke-width: 0.8"/>
</g>
</g>
<g id="text_116">
<text style="font-size: 10px; font-family: 'DejaVu Sans', 'Liberation Sans', sans-serif; text-anchor: start" x="670.340" y="498.240">20</text>
</g>
</g>
<g id="ytick_75">
<g id="line2d_111">
<g>
<use href="#m33c4ce201d" x="663.480" y="445.320" style="stroke: #000000; stroke-width: 0.8"/>
</g>
</g>
<g id="text_117">
<text style="font-size: 10px; font-family: 'DejaVu Sans', 'Liberation Sans', sans-serif; text-anchor: start" x="670.340" y="449.280">25</text>
</g>
</g>
</g>
<g id="LineCollection_4"/>
<g id="patch_39">
<path d="M 649.080 692.280
L 656.280 692.280
L 663.480 692.280
L 663.480 397.800
L 656.280 397.800
L 649.080 397.800
L 649.080 692.280
z
" style="fill: none; stroke: #000000; stroke-width: 0.8; stroke-linejoin: miter; stroke-linecap: square"/>
</g>
</g>
<g id="text_118">
<text style="font-size: 12px; font-family: 'DejaVu Sans', 'Liberation Sans', sans-serif; text-anchor: middle" x="504.000" y="23.040" textLength="299.952">6903592, 407 profiles, 2022-06-05 to 2025-04-21</text>
</g>
</g>
<defs>
<clipPath id="pad785e0991">
<rect x="114.192" y="46.944" width="212.388" height="294.48"/>
</clipPath>
<clipPath id="pe671b1f14d">
<rect x="422.953" y="46.944" width="212.388" height="294.48"/>
</clipPath>
<clipPath id="pfa6c1adf6a">
<rect x="731.714" y="46.944" width="212.388" height="294.48"/>
</clipPath>
<clipPath id="p262a959dbc">
<rect x="114.192" y="397.584" width="265.485" height="294.48"/>
</clipPath>
<clipPath id="pf99f021b43">
<rect x="422.953" y="397.584" width="212.388" height="294.48"/>
</clipPath>
<clipPath id="pa93b4d5f9d">
<rect x="731.714" y="397.584" width="265.485" height="294.48"/>
</clipPath>
<clipPath id="p60c803ccb4">
<rect x="339.854" y="46.944" width="14.724" height="294.48"/>
</clipPath>
<clipPath id="pfdf6eaed7f">
<rect x="648.615" y="46.944" width="14.724" height="294.48"/>
</clipPath>
<clipPath id="p2b5603d4d7">
<rect x="957.377" y="46.944" width="14.724" height="294.48"/>
</clipPath>
<clipPath id="p130ab49d36">
<rect x="648.615" y="397.584" width="14.724" height="294.48"/>
</clipPath>
</defs>
</svg>

</body></html>
